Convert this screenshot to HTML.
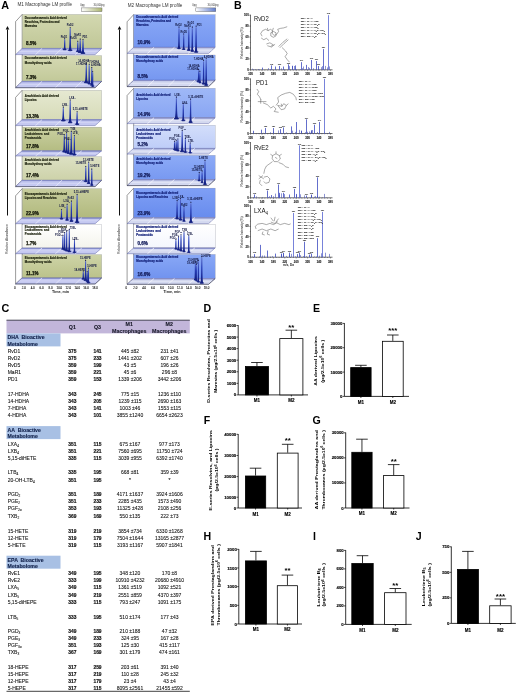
<!DOCTYPE html>
<html><head><meta charset="utf-8"><title>Figure</title>
<style>
html,body{margin:0;padding:0;background:#fff;}
svg{display:block;font-family:"Liberation Sans", "DejaVu Sans", sans-serif;}
text{white-space:pre;}
</style></head><body>
<svg width="520" height="694" viewBox="0 0 520 694">
<defs><linearGradient id="pk" x1="0" y1="0" x2="0" y2="1"><stop offset="0" stop-color="#7f94e2"/><stop offset="0.4" stop-color="#2f49c4"/><stop offset="1" stop-color="#101c7a"/></linearGradient>
<linearGradient id="lg1" x1="0" y1="0" x2="1" y2="0"><stop offset="0" stop-color="#ffffff"/><stop offset="1" stop-color="#a9b36e"/></linearGradient>
<linearGradient id="lg2" x1="0" y1="0" x2="1" y2="0"><stop offset="0" stop-color="#ffffff"/><stop offset="1" stop-color="#5f7bcc"/></linearGradient>
<linearGradient id="a0" x1="0" y1="0" x2="0" y2="1"><stop offset="0" stop-color="#d3d8b0"/><stop offset="1" stop-color="#c0c797"/></linearGradient>
<linearGradient id="a1" x1="0" y1="0" x2="0" y2="1"><stop offset="0" stop-color="#d5d9b3"/><stop offset="1" stop-color="#c2c999"/></linearGradient>
<linearGradient id="a2" x1="0" y1="0" x2="0" y2="1"><stop offset="0" stop-color="#e6e9d2"/><stop offset="1" stop-color="#d7dbb8"/></linearGradient>
<linearGradient id="a3" x1="0" y1="0" x2="0" y2="1"><stop offset="0" stop-color="#cad0a2"/><stop offset="1" stop-color="#b4bc82"/></linearGradient>
<linearGradient id="a4" x1="0" y1="0" x2="0" y2="1"><stop offset="0" stop-color="#dde1c4"/><stop offset="1" stop-color="#cdd2a9"/></linearGradient>
<linearGradient id="a5" x1="0" y1="0" x2="0" y2="1"><stop offset="0" stop-color="#c7cd9d"/><stop offset="1" stop-color="#b1b97d"/></linearGradient>
<linearGradient id="a6" x1="0" y1="0" x2="0" y2="1"><stop offset="0" stop-color="#ffffff"/><stop offset="1" stop-color="#f4f4ec"/></linearGradient>
<linearGradient id="a7" x1="0" y1="0" x2="0" y2="1"><stop offset="0" stop-color="#ced4a8"/><stop offset="1" stop-color="#bbc28a"/></linearGradient>
<linearGradient id="b0" x1="0" y1="0" x2="0" y2="1"><stop offset="0" stop-color="#8aa9f7"/><stop offset="1" stop-color="#7596f0"/></linearGradient>
<linearGradient id="b1" x1="0" y1="0" x2="0" y2="1"><stop offset="0" stop-color="#8baaf7"/><stop offset="1" stop-color="#7697f0"/></linearGradient>
<linearGradient id="b2" x1="0" y1="0" x2="0" y2="1"><stop offset="0" stop-color="#9fb8f7"/><stop offset="1" stop-color="#89a6f3"/></linearGradient>
<linearGradient id="b3" x1="0" y1="0" x2="0" y2="1"><stop offset="0" stop-color="#d3defb"/><stop offset="1" stop-color="#becdf8"/></linearGradient>
<linearGradient id="b4" x1="0" y1="0" x2="0" y2="1"><stop offset="0" stop-color="#8dabf7"/><stop offset="1" stop-color="#7899f1"/></linearGradient>
<linearGradient id="b5" x1="0" y1="0" x2="0" y2="1"><stop offset="0" stop-color="#7f9ff5"/><stop offset="1" stop-color="#688cee"/></linearGradient>
<linearGradient id="b6" x1="0" y1="0" x2="0" y2="1"><stop offset="0" stop-color="#ffffff"/><stop offset="1" stop-color="#f4f6fd"/></linearGradient>
<linearGradient id="b7" x1="0" y1="0" x2="0" y2="1"><stop offset="0" stop-color="#89a8f6"/><stop offset="1" stop-color="#7193ef"/></linearGradient></defs>
<rect x="0" y="0" width="520" height="694" fill="#fff"/>
<text x="1.30" y="8.90" font-size="10.80" text-anchor="start" font-weight="bold" fill="#000" >A</text>
<text x="17.50" y="6.30" font-size="4.50" text-anchor="start" font-weight="normal" fill="#333" textLength="54.50" lengthAdjust="spacingAndGlyphs" >M1 Macrophage LM profile</text>
<text x="127.80" y="6.60" font-size="4.50" text-anchor="start" font-weight="normal" fill="#333" textLength="54.50" lengthAdjust="spacingAndGlyphs" >M2 Macrophage LM profile</text>
<rect x="81.4" y="7.9" width="20.6" height="3.7" fill="url(#lg1)" stroke="#555" stroke-width="0.4"/>
<rect x="195.8" y="7.9" width="20.0" height="3.7" fill="url(#lg2)" stroke="#555" stroke-width="0.4"/>
<text x="80.20" y="6.00" font-size="2.60" text-anchor="start" font-weight="normal" fill="#333" >0pg</text>
<text x="93.60" y="6.00" font-size="2.60" text-anchor="start" font-weight="normal" fill="#333" >30,000pg</text>
<text x="192.30" y="6.00" font-size="2.60" text-anchor="start" font-weight="normal" fill="#333" >0pg</text>
<text x="207.60" y="6.00" font-size="2.60" text-anchor="start" font-weight="normal" fill="#333" >30,000pg</text>
<line x1="7.50" y1="29.5" x2="7.50" y2="215.5" stroke="#111" stroke-width="1.0"/>
<path d="M7.50 25.9 l-1.8 3.5 l3.6 0 Z" fill="#111"/>
<text transform="translate(8.20 239.00) rotate(-90)" font-size="2.90" text-anchor="middle" font-weight="normal" fill="#333" textLength="30.00" lengthAdjust="spacingAndGlyphs">Relative Abundance</text>
<line x1="119.50" y1="29.5" x2="119.50" y2="215.5" stroke="#111" stroke-width="1.0"/>
<path d="M119.50 25.9 l-1.8 3.5 l3.6 0 Z" fill="#111"/>
<text transform="translate(120.20 239.00) rotate(-90)" font-size="2.90" text-anchor="middle" font-weight="normal" fill="#333" textLength="30.00" lengthAdjust="spacingAndGlyphs">Relative Abundance</text>
<polygon points="22.20,14.40 15.60,21.60 15.60,87.70 22.20,81.40" fill="#fff" stroke="#222" stroke-width="0.45"/>
<rect x="22.20" y="14.40" width="79.50" height="34.00" fill="url(#a0)" stroke="#7d7f8e" stroke-width="0.25"/>
<polygon points="22.20,48.40 101.70,48.40 95.10,54.60 15.60,54.60" fill="#c4c8f1" stroke="#3b418f" stroke-width="0.4"/>
<line x1="21.90" y1="48.85" x2="101.30" y2="48.85" stroke="#7d84c4" stroke-width="0.9"/>
<line x1="42.08" y1="48.40" x2="35.48" y2="54.60" stroke="#e6e8fa" stroke-width="0.8"/>
<line x1="61.95" y1="48.40" x2="55.35" y2="54.60" stroke="#e6e8fa" stroke-width="0.8"/>
<line x1="81.83" y1="48.40" x2="75.23" y2="54.60" stroke="#e6e8fa" stroke-width="0.8"/>
<line x1="18.90" y1="51.50" x2="98.40" y2="51.50" stroke="#e6e8fa" stroke-width="0.4"/>
<text x="24.80" y="18.90" font-size="2.85" text-anchor="start" font-weight="bold" fill="#1f2410" stroke="#1f2410" stroke-width="0.16">Docosahexaenoic Acid derived</text>
<text x="24.80" y="23.00" font-size="2.85" text-anchor="start" font-weight="bold" fill="#1f2410" stroke="#1f2410" stroke-width="0.16">Resolvins, Protectins and</text>
<text x="24.80" y="26.90" font-size="2.85" text-anchor="start" font-weight="bold" fill="#1f2410" stroke="#1f2410" stroke-width="0.16">Maresins</text>
<text x="25.90" y="45.30" font-size="4.50" text-anchor="start" font-weight="bold" fill="#15180a" stroke="#15180a" stroke-width="0.25">8.5%</text>
<rect x="22.20" y="55.60" width="79.50" height="25.70" fill="url(#a1)" stroke="#7d7f8e" stroke-width="0.25"/>
<polygon points="22.20,81.30 101.70,81.30 95.10,87.70 15.60,87.70" fill="#c4c8f1" stroke="#3b418f" stroke-width="0.4"/>
<line x1="21.90" y1="81.75" x2="101.30" y2="81.75" stroke="#7d84c4" stroke-width="0.9"/>
<line x1="42.08" y1="81.30" x2="35.48" y2="87.70" stroke="#e6e8fa" stroke-width="0.8"/>
<line x1="61.95" y1="81.30" x2="55.35" y2="87.70" stroke="#e6e8fa" stroke-width="0.8"/>
<line x1="81.83" y1="81.30" x2="75.23" y2="87.70" stroke="#e6e8fa" stroke-width="0.8"/>
<line x1="18.90" y1="84.50" x2="98.40" y2="84.50" stroke="#e6e8fa" stroke-width="0.4"/>
<text x="24.80" y="59.30" font-size="2.85" text-anchor="start" font-weight="bold" fill="#1f2410" stroke="#1f2410" stroke-width="0.16">Docosahexaenoic Acid derived</text>
<text x="24.80" y="63.50" font-size="2.85" text-anchor="start" font-weight="bold" fill="#1f2410" stroke="#1f2410" stroke-width="0.16">Monohydroxy acids</text>
<text x="25.90" y="78.50" font-size="4.50" text-anchor="start" font-weight="bold" fill="#15180a" stroke="#15180a" stroke-width="0.25">7.3%</text>
<path d="M15.60 87.70 L95.10 87.70 L101.70 81.30" fill="none" stroke="#222" stroke-width="0.45"/>
<polygon points="22.20,90.20 15.60,97.40 15.60,186.60 22.20,180.30" fill="#fff" stroke="#222" stroke-width="0.45"/>
<rect x="22.20" y="90.20" width="79.50" height="29.40" fill="url(#a2)" stroke="#7d7f8e" stroke-width="0.25"/>
<polygon points="22.20,119.60 101.70,119.60 95.10,125.60 15.60,125.60" fill="#c4c8f1" stroke="#3b418f" stroke-width="0.4"/>
<line x1="21.90" y1="120.05" x2="101.30" y2="120.05" stroke="#7d84c4" stroke-width="0.9"/>
<line x1="42.08" y1="119.60" x2="35.48" y2="125.60" stroke="#e6e8fa" stroke-width="0.8"/>
<line x1="61.95" y1="119.60" x2="55.35" y2="125.60" stroke="#e6e8fa" stroke-width="0.8"/>
<line x1="81.83" y1="119.60" x2="75.23" y2="125.60" stroke="#e6e8fa" stroke-width="0.8"/>
<line x1="18.90" y1="122.60" x2="98.40" y2="122.60" stroke="#e6e8fa" stroke-width="0.4"/>
<text x="24.80" y="97.30" font-size="2.85" text-anchor="start" font-weight="bold" fill="#1f2410" stroke="#1f2410" stroke-width="0.16">Arachidonic Acid derived</text>
<text x="24.80" y="101.30" font-size="2.85" text-anchor="start" font-weight="bold" fill="#1f2410" stroke="#1f2410" stroke-width="0.16">Lipoxins</text>
<text x="25.90" y="117.60" font-size="4.50" text-anchor="start" font-weight="bold" fill="#15180a" stroke="#15180a" stroke-width="0.25">13.3%</text>
<rect x="22.20" y="127.10" width="79.50" height="23.70" fill="url(#a3)" stroke="#7d7f8e" stroke-width="0.25"/>
<polygon points="22.20,150.80 101.70,150.80 95.10,156.00 15.60,156.00" fill="#c4c8f1" stroke="#3b418f" stroke-width="0.4"/>
<line x1="21.90" y1="151.25" x2="101.30" y2="151.25" stroke="#7d84c4" stroke-width="0.9"/>
<line x1="42.08" y1="150.80" x2="35.48" y2="156.00" stroke="#e6e8fa" stroke-width="0.8"/>
<line x1="61.95" y1="150.80" x2="55.35" y2="156.00" stroke="#e6e8fa" stroke-width="0.8"/>
<line x1="81.83" y1="150.80" x2="75.23" y2="156.00" stroke="#e6e8fa" stroke-width="0.8"/>
<line x1="18.90" y1="153.40" x2="98.40" y2="153.40" stroke="#e6e8fa" stroke-width="0.4"/>
<text x="24.80" y="131.30" font-size="2.85" text-anchor="start" font-weight="bold" fill="#1f2410" stroke="#1f2410" stroke-width="0.16">Arachidonic Acid derived</text>
<text x="24.80" y="135.00" font-size="2.85" text-anchor="start" font-weight="bold" fill="#1f2410" stroke="#1f2410" stroke-width="0.16">Leukotrienes  and</text>
<text x="24.80" y="138.50" font-size="2.85" text-anchor="start" font-weight="bold" fill="#1f2410" stroke="#1f2410" stroke-width="0.16">Prostanoids</text>
<text x="25.90" y="147.60" font-size="4.50" text-anchor="start" font-weight="bold" fill="#15180a" stroke="#15180a" stroke-width="0.25">17.8%</text>
<rect x="22.20" y="156.60" width="79.50" height="23.60" fill="url(#a4)" stroke="#7d7f8e" stroke-width="0.25"/>
<polygon points="22.20,180.20 101.70,180.20 95.10,186.60 15.60,186.60" fill="#c4c8f1" stroke="#3b418f" stroke-width="0.4"/>
<line x1="21.90" y1="180.65" x2="101.30" y2="180.65" stroke="#7d84c4" stroke-width="0.9"/>
<line x1="42.08" y1="180.20" x2="35.48" y2="186.60" stroke="#e6e8fa" stroke-width="0.8"/>
<line x1="61.95" y1="180.20" x2="55.35" y2="186.60" stroke="#e6e8fa" stroke-width="0.8"/>
<line x1="81.83" y1="180.20" x2="75.23" y2="186.60" stroke="#e6e8fa" stroke-width="0.8"/>
<line x1="18.90" y1="183.40" x2="98.40" y2="183.40" stroke="#e6e8fa" stroke-width="0.4"/>
<text x="24.80" y="160.80" font-size="2.85" text-anchor="start" font-weight="bold" fill="#1f2410" stroke="#1f2410" stroke-width="0.16">Arachidonic Acid derived</text>
<text x="24.80" y="165.10" font-size="2.85" text-anchor="start" font-weight="bold" fill="#1f2410" stroke="#1f2410" stroke-width="0.16">Monohydroxy acids</text>
<text x="25.90" y="176.80" font-size="4.50" text-anchor="start" font-weight="bold" fill="#15180a" stroke="#15180a" stroke-width="0.25">17.4%</text>
<path d="M15.60 186.60 L95.10 186.60 L101.70 180.20" fill="none" stroke="#222" stroke-width="0.45"/>
<polygon points="22.20,188.60 15.60,195.80 15.60,284.00 22.20,277.70" fill="#fff" stroke="#222" stroke-width="0.45"/>
<rect x="22.20" y="188.60" width="79.50" height="29.20" fill="url(#a5)" stroke="#7d7f8e" stroke-width="0.25"/>
<polygon points="22.20,217.80 101.70,217.80 95.10,223.70 15.60,223.70" fill="#c4c8f1" stroke="#3b418f" stroke-width="0.4"/>
<line x1="21.90" y1="218.25" x2="101.30" y2="218.25" stroke="#7d84c4" stroke-width="0.9"/>
<line x1="42.08" y1="217.80" x2="35.48" y2="223.70" stroke="#e6e8fa" stroke-width="0.8"/>
<line x1="61.95" y1="217.80" x2="55.35" y2="223.70" stroke="#e6e8fa" stroke-width="0.8"/>
<line x1="81.83" y1="217.80" x2="75.23" y2="223.70" stroke="#e6e8fa" stroke-width="0.8"/>
<line x1="18.90" y1="220.75" x2="98.40" y2="220.75" stroke="#e6e8fa" stroke-width="0.4"/>
<text x="24.80" y="194.80" font-size="2.85" text-anchor="start" font-weight="bold" fill="#1f2410" stroke="#1f2410" stroke-width="0.16">Eicosapentaenoic Acid derived</text>
<text x="24.80" y="198.70" font-size="2.85" text-anchor="start" font-weight="bold" fill="#1f2410" stroke="#1f2410" stroke-width="0.16">Lipoxins and Resolvins</text>
<text x="25.90" y="214.90" font-size="4.50" text-anchor="start" font-weight="bold" fill="#15180a" stroke="#15180a" stroke-width="0.25">22.9%</text>
<rect x="22.20" y="224.60" width="79.50" height="23.40" fill="url(#a6)" stroke="#7d7f8e" stroke-width="0.25"/>
<polygon points="22.20,248.00 101.70,248.00 95.10,253.70 15.60,253.70" fill="#c4c8f1" stroke="#3b418f" stroke-width="0.4"/>
<line x1="21.90" y1="248.45" x2="101.30" y2="248.45" stroke="#7d84c4" stroke-width="0.9"/>
<line x1="42.08" y1="248.00" x2="35.48" y2="253.70" stroke="#e6e8fa" stroke-width="0.8"/>
<line x1="61.95" y1="248.00" x2="55.35" y2="253.70" stroke="#e6e8fa" stroke-width="0.8"/>
<line x1="81.83" y1="248.00" x2="75.23" y2="253.70" stroke="#e6e8fa" stroke-width="0.8"/>
<line x1="18.90" y1="250.85" x2="98.40" y2="250.85" stroke="#e6e8fa" stroke-width="0.4"/>
<text x="24.80" y="227.80" font-size="2.85" text-anchor="start" font-weight="bold" fill="#1f2410" stroke="#1f2410" stroke-width="0.16">Eicosapentaenoic Acid derived</text>
<text x="24.80" y="231.20" font-size="2.85" text-anchor="start" font-weight="bold" fill="#1f2410" stroke="#1f2410" stroke-width="0.16">Leukotrienes  and</text>
<text x="24.80" y="234.60" font-size="2.85" text-anchor="start" font-weight="bold" fill="#1f2410" stroke="#1f2410" stroke-width="0.16">Prostanoids</text>
<text x="25.90" y="244.70" font-size="4.50" text-anchor="start" font-weight="bold" fill="#15180a" stroke="#15180a" stroke-width="0.25">1.7%</text>
<rect x="22.20" y="254.60" width="79.50" height="23.30" fill="url(#a7)" stroke="#7d7f8e" stroke-width="0.25"/>
<polygon points="22.20,277.90 101.70,277.90 95.10,284.00 15.60,284.00" fill="#c4c8f1" stroke="#3b418f" stroke-width="0.4"/>
<line x1="21.90" y1="278.35" x2="101.30" y2="278.35" stroke="#7d84c4" stroke-width="0.9"/>
<line x1="42.08" y1="277.90" x2="35.48" y2="284.00" stroke="#e6e8fa" stroke-width="0.8"/>
<line x1="61.95" y1="277.90" x2="55.35" y2="284.00" stroke="#e6e8fa" stroke-width="0.8"/>
<line x1="81.83" y1="277.90" x2="75.23" y2="284.00" stroke="#e6e8fa" stroke-width="0.8"/>
<line x1="18.90" y1="280.95" x2="98.40" y2="280.95" stroke="#e6e8fa" stroke-width="0.4"/>
<text x="24.80" y="258.90" font-size="2.85" text-anchor="start" font-weight="bold" fill="#1f2410" stroke="#1f2410" stroke-width="0.16">Eicosapentaenoic Acid derived</text>
<text x="24.80" y="263.10" font-size="2.85" text-anchor="start" font-weight="bold" fill="#1f2410" stroke="#1f2410" stroke-width="0.16">Monohydroxy acids</text>
<text x="25.90" y="275.30" font-size="4.50" text-anchor="start" font-weight="bold" fill="#15180a" stroke="#15180a" stroke-width="0.25">11.1%</text>
<path d="M15.60 284.00 L95.10 284.00 L101.70 277.90" fill="none" stroke="#222" stroke-width="0.45"/>
<path d="M62.5 49.6v-0.4M63.2 49.6v-0.2M63.9 49.6v-0.7M64.6 49.6v-0.1M65.3 49.6v-0.6M66.0 49.6v-0.4M66.7 49.6v-0.1" fill="none" stroke="#2c40b8" stroke-width="0.45"/>
<ellipse cx="64.70" cy="49.44" rx="1.80" ry="0.85" fill="#16237f" opacity="0.85"/>
<path d="M63.08 49.64 C64.16 49.64 64.00 45.92 64.22 39.00 L65.18 39.00 C65.40 45.92 65.24 49.64 66.32 49.64 Z" fill="url(#pk)" stroke="none"/>
<line x1="64.70" y1="40.00" x2="64.70" y2="49.64" stroke="#1a2a98" stroke-width="0.35"/>
<path d="M64.70 39.60 l-0.65 -0.9 l0.65 -0.7 l0.65 0.7 Z" fill="#0b0b30"/>
<text x="64.00" y="37.70" font-size="2.60" text-anchor="middle" font-weight="bold" fill="#10153f" >RvD1</text>
<path d="M68.0 50.6v-0.6M68.7 50.6v-0.0M69.4 50.6v-0.5M70.1 50.6v-0.1M70.8 50.6v-0.1M71.5 50.6v-0.5M72.2 50.6v-0.9" fill="none" stroke="#2c40b8" stroke-width="0.45"/>
<ellipse cx="70.20" cy="50.37" rx="2.20" ry="0.85" fill="#16237f" opacity="0.85"/>
<path d="M68.22 50.57 C69.54 50.57 69.50 42.67 69.72 28.00 L70.68 28.00 C70.90 42.67 70.86 50.57 72.18 50.57 Z" fill="url(#pk)" stroke="none"/>
<line x1="70.20" y1="29.00" x2="70.20" y2="50.57" stroke="#1a2a98" stroke-width="0.35"/>
<path d="M70.20 28.60 l-0.65 -0.9 l0.65 -0.7 l0.65 0.7 Z" fill="#0b0b30"/>
<text x="70.10" y="26.40" font-size="2.60" text-anchor="middle" font-weight="bold" fill="#10153f" >RvD2</text>
<path d="M75.6 51.5v-0.1M76.3 51.5v-0.2M77.0 51.5v-0.7M77.7 51.5v-1.0M78.4 51.5v-0.6M79.1 51.5v-0.4M79.8 51.5v-1.1" fill="none" stroke="#2c40b8" stroke-width="0.45"/>
<ellipse cx="77.80" cy="51.30" rx="1.80" ry="0.85" fill="#16237f" opacity="0.85"/>
<path d="M76.18 51.50 C77.26 51.50 77.10 48.00 77.32 41.50 L78.28 41.50 C78.50 48.00 78.34 51.50 79.42 51.50 Z" fill="url(#pk)" stroke="none"/>
<line x1="77.80" y1="42.50" x2="77.80" y2="51.50" stroke="#1a2a98" stroke-width="0.35"/>
<path d="M77.80 42.10 l-0.65 -0.9 l0.65 -0.7 l0.65 0.7 Z" fill="#0b0b30"/>
<text x="73.40" y="39.00" font-size="2.60" text-anchor="middle" font-weight="bold" fill="#10153f" >RvD5</text>
<path d="M78.0 52.4v-0.1M78.7 52.4v-0.9M79.4 52.4v-0.3M80.1 52.4v-0.2M80.8 52.4v-0.1M81.5 52.4v-0.3M82.2 52.4v-0.9" fill="none" stroke="#2c40b8" stroke-width="0.45"/>
<ellipse cx="80.20" cy="52.23" rx="2.40" ry="0.85" fill="#16237f" opacity="0.85"/>
<path d="M78.04 52.43 C79.48 52.43 79.50 47.83 79.72 39.30 L80.68 39.30 C80.90 47.83 80.92 52.43 82.36 52.43 Z" fill="url(#pk)" stroke="none"/>
<line x1="80.20" y1="40.30" x2="80.20" y2="52.43" stroke="#1a2a98" stroke-width="0.35"/>
<path d="M80.20 39.90 l-0.65 -0.9 l0.65 -0.7 l0.65 0.7 Z" fill="#0b0b30"/>
<text x="77.70" y="36.30" font-size="2.60" text-anchor="middle" font-weight="bold" fill="#10153f" >MaR1</text>
<path d="M80.8 53.4v-0.2M81.5 53.4v-0.6M82.2 53.4v-0.7M82.9 53.4v-0.4M83.6 53.4v-0.6M84.3 53.4v-0.1M85.0 53.4v-0.1" fill="none" stroke="#2c40b8" stroke-width="0.45"/>
<ellipse cx="83.00" cy="53.16" rx="2.40" ry="0.85" fill="#16237f" opacity="0.85"/>
<path d="M80.84 53.36 C82.28 53.36 82.30 48.61 82.52 39.80 L83.48 39.80 C83.70 48.61 83.72 53.36 85.16 53.36 Z" fill="url(#pk)" stroke="none"/>
<line x1="83.00" y1="40.80" x2="83.00" y2="53.36" stroke="#1a2a98" stroke-width="0.35"/>
<path d="M83.00 40.40 l-0.65 -0.9 l0.65 -0.7 l0.65 0.7 Z" fill="#0b0b30"/>
<text x="84.90" y="37.70" font-size="2.60" text-anchor="middle" font-weight="bold" fill="#10153f" >PD1</text>
<path d="M84.1 82.6v-0.2M84.8 82.6v-0.7M85.5 82.6v-0.5M86.2 82.6v-0.3M86.9 82.6v-0.6M87.6 82.6v-0.5M88.3 82.6v-0.3" fill="none" stroke="#2c40b8" stroke-width="0.45"/>
<ellipse cx="86.30" cy="82.38" rx="2.40" ry="0.85" fill="#16237f" opacity="0.85"/>
<path d="M84.14 82.58 C85.58 82.58 85.60 75.83 85.82 63.30 L86.78 63.30 C87.00 75.83 87.02 82.58 88.46 82.58 Z" fill="url(#pk)" stroke="none"/>
<line x1="86.30" y1="64.30" x2="86.30" y2="82.58" stroke="#1a2a98" stroke-width="0.35"/>
<path d="M86.30 63.90 l-0.65 -0.9 l0.65 -0.7 l0.65 0.7 Z" fill="#0b0b30"/>
<text x="83.80" y="62.00" font-size="2.60" text-anchor="middle" font-weight="bold" fill="#10153f" >14-HDHA</text>
<path d="M87.0 83.9v-0.9M87.7 83.9v-0.8M88.4 83.9v-0.3M89.1 83.9v-0.6M89.8 83.9v-0.6M90.5 83.9v-1.0M91.2 83.9v-0.8" fill="none" stroke="#2c40b8" stroke-width="0.45"/>
<ellipse cx="89.20" cy="83.66" rx="1.60" ry="0.85" fill="#16237f" opacity="0.85"/>
<path d="M87.76 83.86 C88.72 83.86 88.50 77.08 88.72 64.50 L89.68 64.50 C89.90 77.08 89.68 83.86 90.64 83.86 Z" fill="url(#pk)" stroke="none"/>
<line x1="89.20" y1="65.50" x2="89.20" y2="83.86" stroke="#1a2a98" stroke-width="0.35"/>
<path d="M89.20 65.10 l-0.65 -0.9 l0.65 -0.7 l0.65 0.7 Z" fill="#0b0b30"/>
<text x="81.60" y="65.10" font-size="2.60" text-anchor="middle" font-weight="bold" fill="#10153f" >17-HDHA</text>
<path d="M89.6 85.1v-0.3M90.3 85.1v-1.1M91.0 85.1v-0.1M91.7 85.1v-0.5M92.4 85.1v-0.8M93.1 85.1v-0.2M93.8 85.1v-0.5" fill="none" stroke="#2c40b8" stroke-width="0.45"/>
<ellipse cx="91.80" cy="84.94" rx="1.60" ry="0.85" fill="#16237f" opacity="0.85"/>
<path d="M90.36 85.14 C91.32 85.14 91.10 79.07 91.32 67.80 L92.28 67.80 C92.50 79.07 92.28 85.14 93.24 85.14 Z" fill="url(#pk)" stroke="none"/>
<line x1="91.80" y1="68.80" x2="91.80" y2="85.14" stroke="#1a2a98" stroke-width="0.35"/>
<path d="M91.80 68.40 l-0.65 -0.9 l0.65 -0.7 l0.65 0.7 Z" fill="#0b0b30"/>
<text x="94.20" y="63.10" font-size="2.60" text-anchor="middle" font-weight="bold" fill="#10153f" >7-HDHA</text>
<path d="M90.5 86.4v-0.0M91.2 86.4v-0.7M91.9 86.4v-0.8M92.6 86.4v-0.6M93.3 86.4v-1.0M94.0 86.4v-0.3M94.7 86.4v-0.8" fill="none" stroke="#2c40b8" stroke-width="0.45"/>
<ellipse cx="92.70" cy="86.22" rx="1.20" ry="0.85" fill="#16237f" opacity="0.85"/>
<path d="M91.62 86.42 C92.34 86.42 92.00 81.37 92.22 72.00 L93.18 72.00 C93.40 81.37 93.06 86.42 93.78 86.42 Z" fill="url(#pk)" stroke="none"/>
<line x1="92.70" y1="73.00" x2="92.70" y2="86.42" stroke="#1a2a98" stroke-width="0.35"/>
<path d="M92.70 72.60 l-0.65 -0.9 l0.65 -0.7 l0.65 0.7 Z" fill="#0b0b30"/>
<text x="95.80" y="66.40" font-size="2.60" text-anchor="middle" font-weight="bold" fill="#10153f" >4-HDHA</text>
<path d="M61.1 120.8v-0.7M61.8 120.8v-0.6M62.5 120.8v-0.5M63.2 120.8v-0.9M63.9 120.8v-1.0M64.6 120.8v-0.5M65.3 120.8v-0.7" fill="none" stroke="#2c40b8" stroke-width="0.45"/>
<ellipse cx="63.30" cy="120.60" rx="2.40" ry="0.85" fill="#16237f" opacity="0.85"/>
<path d="M61.14 120.80 C62.58 120.80 62.60 116.08 62.82 107.30 L63.78 107.30 C64.00 116.08 64.02 120.80 65.46 120.80 Z" fill="url(#pk)" stroke="none"/>
<line x1="63.30" y1="108.30" x2="63.30" y2="120.80" stroke="#1a2a98" stroke-width="0.35"/>
<path d="M63.30 107.90 l-0.65 -0.9 l0.65 -0.7 l0.65 0.7 Z" fill="#0b0b30"/>
<text x="65.10" y="106.00" font-size="2.60" text-anchor="middle" font-weight="bold" fill="#10153f" >LXB<tspan font-size="1.8" dy="0.4">4</tspan></text>
<path d="M68.0 122.6v-0.1M68.7 122.6v-0.8M69.4 122.6v-0.7M70.1 122.6v-1.1M70.8 122.6v-0.9M71.5 122.6v-0.3M72.2 122.6v-0.4" fill="none" stroke="#2c40b8" stroke-width="0.45"/>
<ellipse cx="70.20" cy="122.40" rx="2.20" ry="0.85" fill="#16237f" opacity="0.85"/>
<path d="M68.22 122.60 C69.54 122.60 69.50 114.76 69.72 100.20 L70.68 100.20 C70.90 114.76 70.86 122.60 72.18 122.60 Z" fill="url(#pk)" stroke="none"/>
<line x1="70.20" y1="101.20" x2="70.20" y2="122.60" stroke="#1a2a98" stroke-width="0.35"/>
<path d="M70.20 100.80 l-0.65 -0.9 l0.65 -0.7 l0.65 0.7 Z" fill="#0b0b30"/>
<text x="72.30" y="98.50" font-size="2.60" text-anchor="middle" font-weight="bold" fill="#10153f" >LXA<tspan font-size="1.8" dy="0.4">4</tspan></text>
<path d="M74.9 124.4v-0.7M75.6 124.4v-0.0M76.3 124.4v-0.5M77.0 124.4v-0.2M77.7 124.4v-0.1M78.4 124.4v-0.1M79.1 124.4v-0.8" fill="none" stroke="#2c40b8" stroke-width="0.45"/>
<ellipse cx="77.10" cy="124.20" rx="2.00" ry="0.85" fill="#16237f" opacity="0.85"/>
<path d="M75.30 124.40 C76.50 124.40 76.40 120.06 76.62 112.00 L77.58 112.00 C77.80 120.06 77.70 124.40 78.90 124.40 Z" fill="url(#pk)" stroke="none"/>
<line x1="77.10" y1="113.00" x2="77.10" y2="124.40" stroke="#1a2a98" stroke-width="0.35"/>
<path d="M77.10 112.60 l-0.65 -0.9 l0.65 -0.7 l0.65 0.7 Z" fill="#0b0b30"/>
<text x="80.30" y="110.20" font-size="2.60" text-anchor="middle" font-weight="bold" fill="#10153f" >5,15-diHETE</text>
<path d="M62.1 151.8v-0.1M62.8 151.8v-0.3M63.5 151.8v-0.4M64.2 151.8v-1.0M64.9 151.8v-0.1M65.6 151.8v-0.5M66.3 151.8v-0.6" fill="none" stroke="#2c40b8" stroke-width="0.45"/>
<ellipse cx="64.30" cy="151.64" rx="2.00" ry="0.85" fill="#16237f" opacity="0.85"/>
<path d="M62.50 151.84 C63.70 151.84 63.60 145.95 63.82 135.00 L64.78 135.00 C65.00 145.95 64.90 151.84 66.10 151.84 Z" fill="url(#pk)" stroke="none"/>
<line x1="64.30" y1="136.00" x2="64.30" y2="151.84" stroke="#1a2a98" stroke-width="0.35"/>
<path d="M64.30 135.60 l-0.65 -0.9 l0.65 -0.7 l0.65 0.7 Z" fill="#0b0b30"/>
<text x="60.90" y="134.60" font-size="2.60" text-anchor="middle" font-weight="bold" fill="#10153f" >PGD<tspan font-size="1.8" dy="0.4">2</tspan></text>
<path d="M64.4 152.6v-1.0M65.1 152.6v-0.9M65.8 152.6v-1.0M66.5 152.6v-0.3M67.2 152.6v-0.5M67.9 152.6v-0.4M68.6 152.6v-1.0" fill="none" stroke="#2c40b8" stroke-width="0.45"/>
<ellipse cx="66.60" cy="152.42" rx="2.00" ry="0.85" fill="#16237f" opacity="0.85"/>
<path d="M64.80 152.62 C66.00 152.62 65.90 145.75 66.12 133.00 L67.08 133.00 C67.30 145.75 67.20 152.62 68.40 152.62 Z" fill="url(#pk)" stroke="none"/>
<line x1="66.60" y1="134.00" x2="66.60" y2="152.62" stroke="#1a2a98" stroke-width="0.35"/>
<path d="M66.60 133.60 l-0.65 -0.9 l0.65 -0.7 l0.65 0.7 Z" fill="#0b0b30"/>
<text x="66.10" y="132.00" font-size="2.60" text-anchor="middle" font-weight="bold" fill="#10153f" >PGE<tspan font-size="1.8" dy="0.4">2</tspan></text>
<path d="M66.3 153.4v-1.1M67.0 153.4v-0.2M67.7 153.4v-0.2M68.4 153.4v-0.3M69.1 153.4v-0.3M69.8 153.4v-0.5M70.5 153.4v-0.6" fill="none" stroke="#2c40b8" stroke-width="0.45"/>
<ellipse cx="68.50" cy="153.20" rx="1.60" ry="0.85" fill="#16237f" opacity="0.85"/>
<path d="M67.06 153.40 C68.02 153.40 67.80 148.71 68.02 140.00 L68.98 140.00 C69.20 148.71 68.98 153.40 69.94 153.40 Z" fill="url(#pk)" stroke="none"/>
<line x1="68.50" y1="141.00" x2="68.50" y2="153.40" stroke="#1a2a98" stroke-width="0.35"/>
<path d="M68.50 140.60 l-0.65 -0.9 l0.65 -0.7 l0.65 0.7 Z" fill="#0b0b30"/>
<text x="67.90" y="139.60" font-size="2.60" text-anchor="middle" font-weight="bold" fill="#10153f" >PGF<tspan font-size="1.8" dy="0.4">2α</tspan></text>
<path d="M69.1 154.2v-0.3M69.8 154.2v-0.0M70.5 154.2v-0.5M71.2 154.2v-0.4M71.9 154.2v-0.6M72.6 154.2v-1.0M73.3 154.2v-0.8" fill="none" stroke="#2c40b8" stroke-width="0.45"/>
<ellipse cx="71.30" cy="153.98" rx="2.20" ry="0.85" fill="#16237f" opacity="0.85"/>
<path d="M69.32 154.18 C70.64 154.18 70.60 146.28 70.82 131.60 L71.78 131.60 C72.00 146.28 71.96 154.18 73.28 154.18 Z" fill="url(#pk)" stroke="none"/>
<line x1="71.30" y1="132.60" x2="71.30" y2="154.18" stroke="#1a2a98" stroke-width="0.35"/>
<path d="M71.30 132.20 l-0.65 -0.9 l0.65 -0.7 l0.65 0.7 Z" fill="#0b0b30"/>
<text x="73.40" y="130.40" font-size="2.60" text-anchor="middle" font-weight="bold" fill="#10153f" >TXB<tspan font-size="1.8" dy="0.4">2</tspan></text>
<path d="M72.2 155.0v-0.6M72.9 155.0v-0.7M73.6 155.0v-0.7M74.3 155.0v-0.1M75.0 155.0v-1.0M75.7 155.0v-0.9M76.4 155.0v-1.0" fill="none" stroke="#2c40b8" stroke-width="0.45"/>
<ellipse cx="74.40" cy="154.76" rx="1.80" ry="0.85" fill="#16237f" opacity="0.85"/>
<path d="M72.78 154.96 C73.86 154.96 73.70 148.32 73.92 136.00 L74.88 136.00 C75.10 148.32 74.94 154.96 76.02 154.96 Z" fill="url(#pk)" stroke="none"/>
<line x1="74.40" y1="137.00" x2="74.40" y2="154.96" stroke="#1a2a98" stroke-width="0.35"/>
<path d="M74.40 136.60 l-0.65 -0.9 l0.65 -0.7 l0.65 0.7 Z" fill="#0b0b30"/>
<text x="75.60" y="134.10" font-size="2.60" text-anchor="middle" font-weight="bold" fill="#10153f" >LTB<tspan font-size="1.8" dy="0.4">4</tspan></text>
<path d="M83.6 181.5v-0.9M84.3 181.5v-0.4M85.0 181.5v-0.4M85.7 181.5v-0.1M86.4 181.5v-0.7M87.1 181.5v-0.1M87.8 181.5v-0.1" fill="none" stroke="#2c40b8" stroke-width="0.45"/>
<ellipse cx="85.80" cy="181.28" rx="1.80" ry="0.85" fill="#16237f" opacity="0.85"/>
<path d="M84.18 181.48 C85.26 181.48 85.10 176.31 85.32 166.70 L86.28 166.70 C86.50 176.31 86.34 181.48 87.42 181.48 Z" fill="url(#pk)" stroke="none"/>
<line x1="85.80" y1="167.70" x2="85.80" y2="181.48" stroke="#1a2a98" stroke-width="0.35"/>
<path d="M85.80 167.30 l-0.65 -0.9 l0.65 -0.7 l0.65 0.7 Z" fill="#0b0b30"/>
<text x="80.80" y="164.20" font-size="2.60" text-anchor="middle" font-weight="bold" fill="#10153f" >15-HETE</text>
<path d="M86.5 183.4v-0.2M87.2 183.4v-0.2M87.9 183.4v-0.4M88.6 183.4v-0.1M89.3 183.4v-0.0M90.0 183.4v-0.2M90.7 183.4v-0.1" fill="none" stroke="#2c40b8" stroke-width="0.45"/>
<ellipse cx="88.70" cy="183.20" rx="1.80" ry="0.85" fill="#16237f" opacity="0.85"/>
<path d="M87.08 183.40 C88.16 183.40 88.00 176.05 88.22 162.40 L89.18 162.40 C89.40 176.05 89.24 183.40 90.32 183.40 Z" fill="url(#pk)" stroke="none"/>
<line x1="88.70" y1="163.40" x2="88.70" y2="183.40" stroke="#1a2a98" stroke-width="0.35"/>
<path d="M88.70 163.00 l-0.65 -0.9 l0.65 -0.7 l0.65 0.7 Z" fill="#0b0b30"/>
<text x="88.40" y="161.10" font-size="2.60" text-anchor="middle" font-weight="bold" fill="#10153f" >12-HETE</text>
<path d="M89.6 185.3v-0.4M90.3 185.3v-0.0M91.0 185.3v-1.0M91.7 185.3v-0.7M92.4 185.3v-0.2M93.1 185.3v-0.3M93.8 185.3v-0.4" fill="none" stroke="#2c40b8" stroke-width="0.45"/>
<ellipse cx="91.80" cy="185.12" rx="1.60" ry="0.85" fill="#16237f" opacity="0.85"/>
<path d="M90.36 185.32 C91.32 185.32 91.10 179.71 91.32 169.30 L92.28 169.30 C92.50 179.71 92.28 185.32 93.24 185.32 Z" fill="url(#pk)" stroke="none"/>
<line x1="91.80" y1="170.30" x2="91.80" y2="185.32" stroke="#1a2a98" stroke-width="0.35"/>
<path d="M91.80 169.90 l-0.65 -0.9 l0.65 -0.7 l0.65 0.7 Z" fill="#0b0b30"/>
<text x="94.80" y="166.80" font-size="2.60" text-anchor="middle" font-weight="bold" fill="#10153f" >5-HETE</text>
<path d="M59.3 219.0v-0.4M60.0 219.0v-0.1M60.7 219.0v-0.9M61.4 219.0v-1.1M62.1 219.0v-0.5M62.8 219.0v-0.5M63.5 219.0v-0.1" fill="none" stroke="#2c40b8" stroke-width="0.45"/>
<ellipse cx="61.50" cy="218.78" rx="1.80" ry="0.85" fill="#16237f" opacity="0.85"/>
<path d="M59.88 218.98 C60.96 218.98 60.80 215.84 61.02 210.00 L61.98 210.00 C62.20 215.84 62.04 218.98 63.12 218.98 Z" fill="url(#pk)" stroke="none"/>
<line x1="61.50" y1="211.00" x2="61.50" y2="218.98" stroke="#1a2a98" stroke-width="0.35"/>
<path d="M61.50 210.60 l-0.65 -0.9 l0.65 -0.7 l0.65 0.7 Z" fill="#0b0b30"/>
<text x="62.40" y="207.40" font-size="2.60" text-anchor="middle" font-weight="bold" fill="#10153f" >LXB<tspan font-size="1.8" dy="0.4">5</tspan></text>
<path d="M64.9 220.2v-0.1M65.6 220.2v-0.4M66.3 220.2v-0.3M67.0 220.2v-0.9M67.7 220.2v-0.2M68.4 220.2v-0.0M69.1 220.2v-1.0" fill="none" stroke="#2c40b8" stroke-width="0.45"/>
<ellipse cx="67.10" cy="219.96" rx="1.80" ry="0.85" fill="#16237f" opacity="0.85"/>
<path d="M65.48 220.16 C66.56 220.16 66.40 214.68 66.62 204.50 L67.58 204.50 C67.80 214.68 67.64 220.16 68.72 220.16 Z" fill="url(#pk)" stroke="none"/>
<line x1="67.10" y1="205.50" x2="67.10" y2="220.16" stroke="#1a2a98" stroke-width="0.35"/>
<path d="M67.10 205.10 l-0.65 -0.9 l0.65 -0.7 l0.65 0.7 Z" fill="#0b0b30"/>
<text x="66.70" y="202.20" font-size="2.60" text-anchor="middle" font-weight="bold" fill="#10153f" >LXA<tspan font-size="1.8" dy="0.4">5</tspan></text>
<path d="M69.2 221.3v-0.6M69.9 221.3v-0.2M70.6 221.3v-0.6M71.3 221.3v-0.0M72.0 221.3v-0.6M72.7 221.3v-1.1M73.4 221.3v-0.9" fill="none" stroke="#2c40b8" stroke-width="0.45"/>
<ellipse cx="71.40" cy="221.14" rx="1.80" ry="0.85" fill="#16237f" opacity="0.85"/>
<path d="M69.78 221.34 C70.86 221.34 70.70 214.33 70.92 201.30 L71.88 201.30 C72.10 214.33 71.94 221.34 73.02 221.34 Z" fill="url(#pk)" stroke="none"/>
<line x1="71.40" y1="202.30" x2="71.40" y2="221.34" stroke="#1a2a98" stroke-width="0.35"/>
<path d="M71.40 201.90 l-0.65 -0.9 l0.65 -0.7 l0.65 0.7 Z" fill="#0b0b30"/>
<text x="70.70" y="199.10" font-size="2.60" text-anchor="middle" font-weight="bold" fill="#10153f" >RvE2</text>
<path d="M74.9 222.5v-0.8M75.6 222.5v-0.3M76.3 222.5v-0.4M77.0 222.5v-0.2M77.7 222.5v-0.8M78.4 222.5v-0.6M79.1 222.5v-0.9" fill="none" stroke="#2c40b8" stroke-width="0.45"/>
<ellipse cx="77.10" cy="222.32" rx="2.20" ry="0.85" fill="#16237f" opacity="0.85"/>
<path d="M75.12 222.52 C76.44 222.52 76.40 212.82 76.62 194.80 L77.58 194.80 C77.80 212.82 77.76 222.52 79.08 222.52 Z" fill="url(#pk)" stroke="none"/>
<line x1="77.10" y1="195.80" x2="77.10" y2="222.52" stroke="#1a2a98" stroke-width="0.35"/>
<path d="M77.10 195.40 l-0.65 -0.9 l0.65 -0.7 l0.65 0.7 Z" fill="#0b0b30"/>
<text x="81.40" y="192.70" font-size="2.60" text-anchor="middle" font-weight="bold" fill="#10153f" >5,15-diHEPE</text>
<path d="M60.7 249.1v-0.4M61.4 249.1v-0.2M62.1 249.1v-0.9M62.8 249.1v-1.1M63.5 249.1v-0.9M64.2 249.1v-0.9M64.9 249.1v-0.9" fill="none" stroke="#2c40b8" stroke-width="0.45"/>
<ellipse cx="62.90" cy="248.94" rx="1.60" ry="0.85" fill="#16237f" opacity="0.85"/>
<path d="M61.46 249.14 C62.42 249.14 62.20 244.40 62.42 235.60 L63.38 235.60 C63.60 244.40 63.38 249.14 64.34 249.14 Z" fill="url(#pk)" stroke="none"/>
<line x1="62.90" y1="236.60" x2="62.90" y2="249.14" stroke="#1a2a98" stroke-width="0.35"/>
<path d="M62.90 236.20 l-0.65 -0.9 l0.65 -0.7 l0.65 0.7 Z" fill="#0b0b30"/>
<text x="58.40" y="235.90" font-size="2.60" text-anchor="middle" font-weight="bold" fill="#10153f" >PGD<tspan font-size="1.8" dy="0.4">3</tspan></text>
<path d="M62.5 250.0v-0.8M63.2 250.0v-0.2M63.9 250.0v-0.6M64.6 250.0v-0.4M65.3 250.0v-0.0M66.0 250.0v-0.0M66.7 250.0v-0.3" fill="none" stroke="#2c40b8" stroke-width="0.45"/>
<ellipse cx="64.70" cy="249.80" rx="1.60" ry="0.85" fill="#16237f" opacity="0.85"/>
<path d="M63.26 250.00 C64.22 250.00 64.00 244.05 64.22 233.00 L65.18 233.00 C65.40 244.05 65.18 250.00 66.14 250.00 Z" fill="url(#pk)" stroke="none"/>
<line x1="64.70" y1="234.00" x2="64.70" y2="250.00" stroke="#1a2a98" stroke-width="0.35"/>
<path d="M64.70 233.60 l-0.65 -0.9 l0.65 -0.7 l0.65 0.7 Z" fill="#0b0b30"/>
<text x="61.50" y="232.80" font-size="2.60" text-anchor="middle" font-weight="bold" fill="#10153f" >PGE<tspan font-size="1.8" dy="0.4">3</tspan></text>
<path d="M64.5 250.8v-0.3M65.2 250.8v-0.8M65.9 250.8v-1.1M66.6 250.8v-0.5M67.3 250.8v-1.0M68.0 250.8v-1.1M68.7 250.8v-1.1" fill="none" stroke="#2c40b8" stroke-width="0.45"/>
<ellipse cx="66.70" cy="250.65" rx="1.60" ry="0.85" fill="#16237f" opacity="0.85"/>
<path d="M65.26 250.85 C66.22 250.85 66.00 244.01 66.22 231.30 L67.18 231.30 C67.40 244.01 67.18 250.85 68.14 250.85 Z" fill="url(#pk)" stroke="none"/>
<line x1="66.70" y1="232.30" x2="66.70" y2="250.85" stroke="#1a2a98" stroke-width="0.35"/>
<path d="M66.70 231.90 l-0.65 -0.9 l0.65 -0.7 l0.65 0.7 Z" fill="#0b0b30"/>
<text x="64.70" y="230.70" font-size="2.60" text-anchor="middle" font-weight="bold" fill="#10153f" >PGF<tspan font-size="1.8" dy="0.4">3α</tspan></text>
<path d="M67.1 251.7v-0.4M67.8 251.7v-0.2M68.5 251.7v-0.2M69.2 251.7v-0.2M69.9 251.7v-0.2M70.6 251.7v-0.7M71.3 251.7v-1.0" fill="none" stroke="#2c40b8" stroke-width="0.45"/>
<ellipse cx="69.30" cy="251.50" rx="1.80" ry="0.85" fill="#16237f" opacity="0.85"/>
<path d="M67.68 251.70 C68.76 251.70 68.60 243.97 68.82 229.60 L69.78 229.60 C70.00 243.97 69.84 251.70 70.92 251.70 Z" fill="url(#pk)" stroke="none"/>
<line x1="69.30" y1="230.60" x2="69.30" y2="251.70" stroke="#1a2a98" stroke-width="0.35"/>
<path d="M69.30 230.20 l-0.65 -0.9 l0.65 -0.7 l0.65 0.7 Z" fill="#0b0b30"/>
<text x="72.80" y="229.00" font-size="2.60" text-anchor="middle" font-weight="bold" fill="#10153f" >TXB<tspan font-size="1.8" dy="0.4">3</tspan></text>
<path d="M72.3 252.6v-0.9M73.0 252.6v-0.5M73.7 252.6v-0.7M74.4 252.6v-0.9M75.1 252.6v-0.1M75.8 252.6v-0.7M76.5 252.6v-1.0" fill="none" stroke="#2c40b8" stroke-width="0.45"/>
<ellipse cx="74.50" cy="252.36" rx="1.60" ry="0.85" fill="#16237f" opacity="0.85"/>
<path d="M73.06 252.56 C74.02 252.56 73.80 248.09 74.02 239.80 L74.98 239.80 C75.20 248.09 74.98 252.56 75.94 252.56 Z" fill="url(#pk)" stroke="none"/>
<line x1="74.50" y1="240.80" x2="74.50" y2="252.56" stroke="#1a2a98" stroke-width="0.35"/>
<path d="M74.50 240.40 l-0.65 -0.9 l0.65 -0.7 l0.65 0.7 Z" fill="#0b0b30"/>
<text x="75.50" y="239.70" font-size="2.60" text-anchor="middle" font-weight="bold" fill="#10153f" >LTB<tspan font-size="1.8" dy="0.4">5</tspan></text>
<path d="M81.1 279.1v-0.9M81.8 279.1v-0.8M82.5 279.1v-0.5M83.2 279.1v-0.2M83.9 279.1v-0.9M84.6 279.1v-0.4M85.3 279.1v-0.9" fill="none" stroke="#2c40b8" stroke-width="0.45"/>
<ellipse cx="83.30" cy="278.92" rx="1.60" ry="0.85" fill="#16237f" opacity="0.85"/>
<path d="M81.86 279.12 C82.82 279.12 82.60 276.35 82.82 271.20 L83.78 271.20 C84.00 276.35 83.78 279.12 84.74 279.12 Z" fill="url(#pk)" stroke="none"/>
<line x1="83.30" y1="272.20" x2="83.30" y2="279.12" stroke="#1a2a98" stroke-width="0.35"/>
<path d="M83.30 271.80 l-0.65 -0.9 l0.65 -0.7 l0.65 0.7 Z" fill="#0b0b30"/>
<text x="79.70" y="270.60" font-size="2.60" text-anchor="middle" font-weight="bold" fill="#10153f" >18-HEPE</text>
<path d="M83.4 280.3v-1.1M84.1 280.3v-0.4M84.8 280.3v-0.4M85.5 280.3v-1.0M86.2 280.3v-0.8M86.9 280.3v-0.2M87.6 280.3v-0.1" fill="none" stroke="#2c40b8" stroke-width="0.45"/>
<ellipse cx="85.60" cy="280.14" rx="2.00" ry="0.85" fill="#16237f" opacity="0.85"/>
<path d="M83.80 280.34 C85.00 280.34 84.90 273.43 85.12 260.60 L86.08 260.60 C86.30 273.43 86.20 280.34 87.40 280.34 Z" fill="url(#pk)" stroke="none"/>
<line x1="85.60" y1="261.60" x2="85.60" y2="280.34" stroke="#1a2a98" stroke-width="0.35"/>
<path d="M85.60 261.20 l-0.65 -0.9 l0.65 -0.7 l0.65 0.7 Z" fill="#0b0b30"/>
<text x="85.40" y="259.10" font-size="2.60" text-anchor="middle" font-weight="bold" fill="#10153f" >15-HEPE</text>
<path d="M85.0 281.6v-0.2M85.7 281.6v-1.0M86.4 281.6v-0.9M87.1 281.6v-0.2M87.8 281.6v-0.9M88.5 281.6v-1.1M89.2 281.6v-0.7" fill="none" stroke="#2c40b8" stroke-width="0.45"/>
<ellipse cx="87.20" cy="281.36" rx="1.20" ry="0.85" fill="#16237f" opacity="0.85"/>
<path d="M86.12 281.56 C86.84 281.56 86.50 278.21 86.72 272.00 L87.68 272.00 C87.90 278.21 87.56 281.56 88.28 281.56 Z" fill="url(#pk)" stroke="none"/>
<line x1="87.20" y1="273.00" x2="87.20" y2="281.56" stroke="#1a2a98" stroke-width="0.35"/>
<path d="M87.20 272.60 l-0.65 -0.9 l0.65 -0.7 l0.65 0.7 Z" fill="#0b0b30"/>
<path d="M86.2 282.8v-0.4M86.9 282.8v-0.6M87.6 282.8v-0.1M88.3 282.8v-0.0M89.0 282.8v-1.1M89.7 282.8v-0.7M90.4 282.8v-0.6" fill="none" stroke="#2c40b8" stroke-width="0.45"/>
<ellipse cx="88.40" cy="282.58" rx="1.60" ry="0.85" fill="#16237f" opacity="0.85"/>
<path d="M86.96 282.78 C87.92 282.78 87.70 277.75 87.92 268.40 L88.88 268.40 C89.10 277.75 88.88 282.78 89.84 282.78 Z" fill="url(#pk)" stroke="none"/>
<line x1="88.40" y1="269.40" x2="88.40" y2="282.78" stroke="#1a2a98" stroke-width="0.35"/>
<path d="M88.40 269.00 l-0.65 -0.9 l0.65 -0.7 l0.65 0.7 Z" fill="#0b0b30"/>
<text x="92.00" y="266.60" font-size="2.60" text-anchor="middle" font-weight="bold" fill="#10153f" >5-HEPE</text>
<text x="14.90" y="289.30" font-size="2.90" text-anchor="middle" font-weight="normal" fill="#111" stroke="#111" stroke-width="0.08">0</text>
<text x="23.80" y="289.30" font-size="2.90" text-anchor="middle" font-weight="normal" fill="#111" stroke="#111" stroke-width="0.08">2.0</text>
<text x="32.70" y="289.30" font-size="2.90" text-anchor="middle" font-weight="normal" fill="#111" stroke="#111" stroke-width="0.08">4.0</text>
<text x="41.60" y="289.30" font-size="2.90" text-anchor="middle" font-weight="normal" fill="#111" stroke="#111" stroke-width="0.08">6.0</text>
<text x="50.50" y="289.30" font-size="2.90" text-anchor="middle" font-weight="normal" fill="#111" stroke="#111" stroke-width="0.08">8.0</text>
<text x="59.40" y="289.30" font-size="2.90" text-anchor="middle" font-weight="normal" fill="#111" stroke="#111" stroke-width="0.08">10.0</text>
<text x="68.30" y="289.30" font-size="2.90" text-anchor="middle" font-weight="normal" fill="#111" stroke="#111" stroke-width="0.08">12.0</text>
<text x="77.20" y="289.30" font-size="2.90" text-anchor="middle" font-weight="normal" fill="#111" stroke="#111" stroke-width="0.08">14.0</text>
<text x="86.10" y="289.30" font-size="2.90" text-anchor="middle" font-weight="normal" fill="#111" stroke="#111" stroke-width="0.08">16.0</text>
<text x="95.00" y="289.30" font-size="2.90" text-anchor="middle" font-weight="normal" fill="#111" stroke="#111" stroke-width="0.08">18.0</text>
<text x="60.50" y="293.40" font-size="3.70" text-anchor="middle" font-weight="bold" fill="#222" >Time, min</text>
<polygon points="133.70,14.60 127.10,21.80 127.10,86.60 133.70,80.30" fill="#fff" stroke="#222" stroke-width="0.45"/>
<rect x="133.70" y="14.60" width="81.50" height="32.70" fill="url(#b0)" stroke="#7d7f8e" stroke-width="0.25"/>
<polygon points="133.70,47.30 215.20,47.30 208.60,53.40 127.10,53.40" fill="#d3d8f0" stroke="#3b418f" stroke-width="0.4"/>
<line x1="133.40" y1="47.75" x2="214.80" y2="47.75" stroke="#7d84c4" stroke-width="0.9"/>
<line x1="154.07" y1="47.30" x2="147.47" y2="53.40" stroke="#f4f5fc" stroke-width="0.8"/>
<line x1="174.45" y1="47.30" x2="167.85" y2="53.40" stroke="#f4f5fc" stroke-width="0.8"/>
<line x1="194.82" y1="47.30" x2="188.22" y2="53.40" stroke="#f4f5fc" stroke-width="0.8"/>
<line x1="130.40" y1="50.35" x2="211.90" y2="50.35" stroke="#f4f5fc" stroke-width="0.4"/>
<text x="136.30" y="18.30" font-size="2.85" text-anchor="start" font-weight="bold" fill="#14227a" stroke="#14227a" stroke-width="0.16">Docosahexaenoic Acid derived</text>
<text x="136.30" y="22.20" font-size="2.85" text-anchor="start" font-weight="bold" fill="#14227a" stroke="#14227a" stroke-width="0.16">Resolvins, Protectins and</text>
<text x="136.30" y="26.20" font-size="2.85" text-anchor="start" font-weight="bold" fill="#14227a" stroke="#14227a" stroke-width="0.16">Maresins</text>
<text x="137.40" y="44.00" font-size="4.50" text-anchor="start" font-weight="bold" fill="#141d5c" stroke="#141d5c" stroke-width="0.25">10.9%</text>
<rect x="133.70" y="55.00" width="81.50" height="25.20" fill="url(#b1)" stroke="#7d7f8e" stroke-width="0.25"/>
<polygon points="133.70,80.20 215.20,80.20 208.60,86.60 127.10,86.60" fill="#d3d8f0" stroke="#3b418f" stroke-width="0.4"/>
<line x1="133.40" y1="80.65" x2="214.80" y2="80.65" stroke="#7d84c4" stroke-width="0.9"/>
<line x1="154.07" y1="80.20" x2="147.47" y2="86.60" stroke="#f4f5fc" stroke-width="0.8"/>
<line x1="174.45" y1="80.20" x2="167.85" y2="86.60" stroke="#f4f5fc" stroke-width="0.8"/>
<line x1="194.82" y1="80.20" x2="188.22" y2="86.60" stroke="#f4f5fc" stroke-width="0.8"/>
<line x1="130.40" y1="83.40" x2="211.90" y2="83.40" stroke="#f4f5fc" stroke-width="0.4"/>
<text x="136.30" y="58.10" font-size="2.85" text-anchor="start" font-weight="bold" fill="#14227a" stroke="#14227a" stroke-width="0.16">Docosahexaenoic Acid derived</text>
<text x="136.30" y="62.40" font-size="2.85" text-anchor="start" font-weight="bold" fill="#14227a" stroke="#14227a" stroke-width="0.16">Monohydroxy acids</text>
<text x="137.40" y="77.50" font-size="4.50" text-anchor="start" font-weight="bold" fill="#141d5c" stroke="#141d5c" stroke-width="0.25">8.5%</text>
<path d="M127.10 86.60 L208.60 86.60 L215.20 80.20" fill="none" stroke="#222" stroke-width="0.45"/>
<polygon points="133.70,88.30 127.10,95.50 127.10,185.60 133.70,179.30" fill="#fff" stroke="#222" stroke-width="0.45"/>
<rect x="133.70" y="88.30" width="81.50" height="29.40" fill="url(#b2)" stroke="#7d7f8e" stroke-width="0.25"/>
<polygon points="133.70,117.70 215.20,117.70 208.60,123.60 127.10,123.60" fill="#d3d8f0" stroke="#3b418f" stroke-width="0.4"/>
<line x1="133.40" y1="118.15" x2="214.80" y2="118.15" stroke="#7d84c4" stroke-width="0.9"/>
<line x1="154.07" y1="117.70" x2="147.47" y2="123.60" stroke="#f4f5fc" stroke-width="0.8"/>
<line x1="174.45" y1="117.70" x2="167.85" y2="123.60" stroke="#f4f5fc" stroke-width="0.8"/>
<line x1="194.82" y1="117.70" x2="188.22" y2="123.60" stroke="#f4f5fc" stroke-width="0.8"/>
<line x1="130.40" y1="120.65" x2="211.90" y2="120.65" stroke="#f4f5fc" stroke-width="0.4"/>
<text x="136.30" y="95.80" font-size="2.85" text-anchor="start" font-weight="bold" fill="#14227a" stroke="#14227a" stroke-width="0.16">Arachidonic Acid derived</text>
<text x="136.30" y="99.90" font-size="2.85" text-anchor="start" font-weight="bold" fill="#14227a" stroke="#14227a" stroke-width="0.16">Lipoxins</text>
<text x="137.40" y="115.80" font-size="4.50" text-anchor="start" font-weight="bold" fill="#141d5c" stroke="#141d5c" stroke-width="0.25">14.9%</text>
<rect x="133.70" y="125.30" width="81.50" height="23.10" fill="url(#b3)" stroke="#7d7f8e" stroke-width="0.25"/>
<polygon points="133.70,148.40 215.20,148.40 208.60,154.10 127.10,154.10" fill="#d3d8f0" stroke="#3b418f" stroke-width="0.4"/>
<line x1="133.40" y1="148.85" x2="214.80" y2="148.85" stroke="#7d84c4" stroke-width="0.9"/>
<line x1="154.07" y1="148.40" x2="147.47" y2="154.10" stroke="#f4f5fc" stroke-width="0.8"/>
<line x1="174.45" y1="148.40" x2="167.85" y2="154.10" stroke="#f4f5fc" stroke-width="0.8"/>
<line x1="194.82" y1="148.40" x2="188.22" y2="154.10" stroke="#f4f5fc" stroke-width="0.8"/>
<line x1="130.40" y1="151.25" x2="211.90" y2="151.25" stroke="#f4f5fc" stroke-width="0.4"/>
<text x="136.30" y="130.70" font-size="2.85" text-anchor="start" font-weight="bold" fill="#14227a" stroke="#14227a" stroke-width="0.16">Arachidonic Acid derived</text>
<text x="136.30" y="134.70" font-size="2.85" text-anchor="start" font-weight="bold" fill="#14227a" stroke="#14227a" stroke-width="0.16">Leukotrienes  and</text>
<text x="136.30" y="138.60" font-size="2.85" text-anchor="start" font-weight="bold" fill="#14227a" stroke="#14227a" stroke-width="0.16">Prostanoids</text>
<text x="137.40" y="146.30" font-size="4.50" text-anchor="start" font-weight="bold" fill="#141d5c" stroke="#141d5c" stroke-width="0.25">5.2%</text>
<rect x="133.70" y="155.30" width="81.50" height="24.20" fill="url(#b4)" stroke="#7d7f8e" stroke-width="0.25"/>
<polygon points="133.70,179.50 215.20,179.50 208.60,185.60 127.10,185.60" fill="#d3d8f0" stroke="#3b418f" stroke-width="0.4"/>
<line x1="133.40" y1="179.95" x2="214.80" y2="179.95" stroke="#7d84c4" stroke-width="0.9"/>
<line x1="154.07" y1="179.50" x2="147.47" y2="185.60" stroke="#f4f5fc" stroke-width="0.8"/>
<line x1="174.45" y1="179.50" x2="167.85" y2="185.60" stroke="#f4f5fc" stroke-width="0.8"/>
<line x1="194.82" y1="179.50" x2="188.22" y2="185.60" stroke="#f4f5fc" stroke-width="0.8"/>
<line x1="130.40" y1="182.55" x2="211.90" y2="182.55" stroke="#f4f5fc" stroke-width="0.4"/>
<text x="136.30" y="160.10" font-size="2.85" text-anchor="start" font-weight="bold" fill="#14227a" stroke="#14227a" stroke-width="0.16">Arachidonic Acid derived</text>
<text x="136.30" y="164.10" font-size="2.85" text-anchor="start" font-weight="bold" fill="#14227a" stroke="#14227a" stroke-width="0.16">Monohydroxy acids</text>
<text x="137.40" y="176.60" font-size="4.50" text-anchor="start" font-weight="bold" fill="#141d5c" stroke="#141d5c" stroke-width="0.25">19.2%</text>
<path d="M127.10 185.60 L208.60 185.60 L215.20 179.50" fill="none" stroke="#222" stroke-width="0.45"/>
<polygon points="133.70,188.10 127.10,195.30 127.10,284.30 133.70,278.00" fill="#fff" stroke="#222" stroke-width="0.45"/>
<rect x="133.70" y="188.10" width="81.50" height="29.50" fill="url(#b5)" stroke="#7d7f8e" stroke-width="0.25"/>
<polygon points="133.70,217.60 215.20,217.60 208.60,223.60 127.10,223.60" fill="#d3d8f0" stroke="#3b418f" stroke-width="0.4"/>
<line x1="133.40" y1="218.05" x2="214.80" y2="218.05" stroke="#7d84c4" stroke-width="0.9"/>
<line x1="154.07" y1="217.60" x2="147.47" y2="223.60" stroke="#f4f5fc" stroke-width="0.8"/>
<line x1="174.45" y1="217.60" x2="167.85" y2="223.60" stroke="#f4f5fc" stroke-width="0.8"/>
<line x1="194.82" y1="217.60" x2="188.22" y2="223.60" stroke="#f4f5fc" stroke-width="0.8"/>
<line x1="130.40" y1="220.60" x2="211.90" y2="220.60" stroke="#f4f5fc" stroke-width="0.4"/>
<text x="136.30" y="194.00" font-size="2.85" text-anchor="start" font-weight="bold" fill="#14227a" stroke="#14227a" stroke-width="0.16">Eicosapentaenoic Acid derived</text>
<text x="136.30" y="198.10" font-size="2.85" text-anchor="start" font-weight="bold" fill="#14227a" stroke="#14227a" stroke-width="0.16">Lipoxins and Resolvins</text>
<text x="137.40" y="215.10" font-size="4.50" text-anchor="start" font-weight="bold" fill="#141d5c" stroke="#141d5c" stroke-width="0.25">23.9%</text>
<rect x="133.70" y="224.70" width="81.50" height="23.20" fill="url(#b6)" stroke="#7d7f8e" stroke-width="0.25"/>
<polygon points="133.70,247.90 215.20,247.90 208.60,253.70 127.10,253.70" fill="#d3d8f0" stroke="#3b418f" stroke-width="0.4"/>
<line x1="133.40" y1="248.35" x2="214.80" y2="248.35" stroke="#7d84c4" stroke-width="0.9"/>
<line x1="154.07" y1="247.90" x2="147.47" y2="253.70" stroke="#f4f5fc" stroke-width="0.8"/>
<line x1="174.45" y1="247.90" x2="167.85" y2="253.70" stroke="#f4f5fc" stroke-width="0.8"/>
<line x1="194.82" y1="247.90" x2="188.22" y2="253.70" stroke="#f4f5fc" stroke-width="0.8"/>
<line x1="130.40" y1="250.80" x2="211.90" y2="250.80" stroke="#f4f5fc" stroke-width="0.4"/>
<text x="136.30" y="228.00" font-size="2.85" text-anchor="start" font-weight="bold" fill="#14227a" stroke="#14227a" stroke-width="0.16">Eicosapentaenoic Acid derived</text>
<text x="136.30" y="232.00" font-size="2.85" text-anchor="start" font-weight="bold" fill="#14227a" stroke="#14227a" stroke-width="0.16">Leukotrienes  and</text>
<text x="136.30" y="235.80" font-size="2.85" text-anchor="start" font-weight="bold" fill="#14227a" stroke="#14227a" stroke-width="0.16">Prostanoids</text>
<text x="137.40" y="244.70" font-size="4.50" text-anchor="start" font-weight="bold" fill="#141d5c" stroke="#141d5c" stroke-width="0.25">0.6%</text>
<rect x="133.70" y="254.40" width="81.50" height="24.10" fill="url(#b7)" stroke="#7d7f8e" stroke-width="0.25"/>
<polygon points="133.70,278.50 215.20,278.50 208.60,284.30 127.10,284.30" fill="#d3d8f0" stroke="#3b418f" stroke-width="0.4"/>
<line x1="133.40" y1="278.95" x2="214.80" y2="278.95" stroke="#7d84c4" stroke-width="0.9"/>
<line x1="154.07" y1="278.50" x2="147.47" y2="284.30" stroke="#f4f5fc" stroke-width="0.8"/>
<line x1="174.45" y1="278.50" x2="167.85" y2="284.30" stroke="#f4f5fc" stroke-width="0.8"/>
<line x1="194.82" y1="278.50" x2="188.22" y2="284.30" stroke="#f4f5fc" stroke-width="0.8"/>
<line x1="130.40" y1="281.40" x2="211.90" y2="281.40" stroke="#f4f5fc" stroke-width="0.4"/>
<text x="136.30" y="258.10" font-size="2.85" text-anchor="start" font-weight="bold" fill="#14227a" stroke="#14227a" stroke-width="0.16">Eicosapentaenoic Acid derived</text>
<text x="136.30" y="262.20" font-size="2.85" text-anchor="start" font-weight="bold" fill="#14227a" stroke="#14227a" stroke-width="0.16">Monohydroxy acids</text>
<text x="137.40" y="275.70" font-size="4.50" text-anchor="start" font-weight="bold" fill="#141d5c" stroke="#141d5c" stroke-width="0.25">16.6%</text>
<path d="M127.10 284.30 L208.60 284.30 L215.20 278.50" fill="none" stroke="#222" stroke-width="0.45"/>
<path d="M176.8 48.5v-1.0M177.5 48.5v-0.5M178.2 48.5v-1.0M178.9 48.5v-0.9M179.6 48.5v-0.2M180.3 48.5v-0.3M181.0 48.5v-0.3" fill="none" stroke="#2c40b8" stroke-width="0.45"/>
<ellipse cx="179.00" cy="48.32" rx="1.80" ry="0.85" fill="#16237f" opacity="0.85"/>
<path d="M177.38 48.52 C178.46 48.52 178.30 41.09 178.52 27.30 L179.48 27.30 C179.70 41.09 179.54 48.52 180.62 48.52 Z" fill="url(#pk)" stroke="none"/>
<line x1="179.00" y1="28.30" x2="179.00" y2="48.52" stroke="#1a2a98" stroke-width="0.35"/>
<path d="M179.00 27.90 l-0.65 -0.9 l0.65 -0.7 l0.65 0.7 Z" fill="#0b0b30"/>
<text x="178.50" y="25.60" font-size="2.60" text-anchor="middle" font-weight="bold" fill="#10153f" >RvD2</text>
<path d="M181.5 49.4v-0.3M182.2 49.4v-0.6M182.9 49.4v-0.3M183.6 49.4v-0.5M184.3 49.4v-0.1M185.0 49.4v-1.0M185.7 49.4v-0.4" fill="none" stroke="#2c40b8" stroke-width="0.45"/>
<ellipse cx="183.70" cy="49.23" rx="1.60" ry="0.85" fill="#16237f" opacity="0.85"/>
<path d="M182.26 49.43 C183.22 49.43 183.00 44.10 183.22 34.20 L184.18 34.20 C184.40 44.10 184.18 49.43 185.14 49.43 Z" fill="url(#pk)" stroke="none"/>
<line x1="183.70" y1="35.20" x2="183.70" y2="49.43" stroke="#1a2a98" stroke-width="0.35"/>
<path d="M183.70 34.80 l-0.65 -0.9 l0.65 -0.7 l0.65 0.7 Z" fill="#0b0b30"/>
<text x="183.70" y="33.10" font-size="2.60" text-anchor="middle" font-weight="bold" fill="#10153f" >RvD5</text>
<path d="M186.6 50.3v-0.5M187.3 50.3v-0.6M188.0 50.3v-1.0M188.7 50.3v-0.5M189.4 50.3v-1.0M190.1 50.3v-0.6M190.8 50.3v-0.6" fill="none" stroke="#2c40b8" stroke-width="0.45"/>
<ellipse cx="188.80" cy="50.15" rx="1.80" ry="0.85" fill="#16237f" opacity="0.85"/>
<path d="M187.18 50.35 C188.26 50.35 188.10 42.60 188.32 28.20 L189.28 28.20 C189.50 42.60 189.34 50.35 190.42 50.35 Z" fill="url(#pk)" stroke="none"/>
<line x1="188.80" y1="29.20" x2="188.80" y2="50.35" stroke="#1a2a98" stroke-width="0.35"/>
<path d="M188.80 28.80 l-0.65 -0.9 l0.65 -0.7 l0.65 0.7 Z" fill="#0b0b30"/>
<text x="187.60" y="27.30" font-size="2.60" text-anchor="middle" font-weight="bold" fill="#10153f" >MaR1</text>
<path d="M190.1 51.3v-0.6M190.8 51.3v-0.0M191.5 51.3v-0.5M192.2 51.3v-0.2M192.9 51.3v-0.0M193.6 51.3v-0.9M194.3 51.3v-0.2" fill="none" stroke="#2c40b8" stroke-width="0.45"/>
<ellipse cx="192.30" cy="51.06" rx="1.80" ry="0.85" fill="#16237f" opacity="0.85"/>
<path d="M190.68 51.27 C191.76 51.27 191.60 42.88 191.82 27.30 L192.78 27.30 C193.00 42.88 192.84 51.27 193.92 51.27 Z" fill="url(#pk)" stroke="none"/>
<line x1="192.30" y1="28.30" x2="192.30" y2="51.27" stroke="#1a2a98" stroke-width="0.35"/>
<path d="M192.30 27.90 l-0.65 -0.9 l0.65 -0.7 l0.65 0.7 Z" fill="#0b0b30"/>
<text x="190.80" y="23.90" font-size="2.60" text-anchor="middle" font-weight="bold" fill="#10153f" >RvD1</text>
<path d="M193.9 52.2v-0.5M194.6 52.2v-0.8M195.3 52.2v-0.6M196.0 52.2v-0.4M196.7 52.2v-0.6M197.4 52.2v-0.6M198.1 52.2v-0.9" fill="none" stroke="#2c40b8" stroke-width="0.45"/>
<ellipse cx="196.10" cy="51.98" rx="2.00" ry="0.85" fill="#16237f" opacity="0.85"/>
<path d="M194.30 52.18 C195.50 52.18 195.40 43.16 195.62 26.40 L196.58 26.40 C196.80 43.16 196.70 52.18 197.90 52.18 Z" fill="url(#pk)" stroke="none"/>
<line x1="196.10" y1="27.40" x2="196.10" y2="52.18" stroke="#1a2a98" stroke-width="0.35"/>
<path d="M196.10 27.00 l-0.65 -0.9 l0.65 -0.7 l0.65 0.7 Z" fill="#0b0b30"/>
<text x="199.20" y="26.10" font-size="2.60" text-anchor="middle" font-weight="bold" fill="#10153f" >PD1</text>
<path d="M196.5 81.5v-0.1M197.2 81.5v-0.6M197.9 81.5v-0.3M198.6 81.5v-0.3M199.3 81.5v-0.8M200.0 81.5v-0.6M200.7 81.5v-0.6" fill="none" stroke="#2c40b8" stroke-width="0.45"/>
<ellipse cx="198.70" cy="81.28" rx="2.20" ry="0.85" fill="#16237f" opacity="0.85"/>
<path d="M196.72 81.48 C198.04 81.48 198.00 77.36 198.22 69.70 L199.18 69.70 C199.40 77.36 199.36 81.48 200.68 81.48 Z" fill="url(#pk)" stroke="none"/>
<line x1="198.70" y1="70.70" x2="198.70" y2="81.48" stroke="#1a2a98" stroke-width="0.35"/>
<path d="M198.70 70.30 l-0.65 -0.9 l0.65 -0.7 l0.65 0.7 Z" fill="#0b0b30"/>
<text x="194.00" y="67.10" font-size="2.60" text-anchor="middle" font-weight="bold" fill="#10153f" >14-HDHA</text>
<path d="M197.7 82.8v-0.8M198.4 82.8v-1.0M199.1 82.8v-0.5M199.8 82.8v-0.7M200.5 82.8v-0.6M201.2 82.8v-0.6M201.9 82.8v-0.8" fill="none" stroke="#2c40b8" stroke-width="0.45"/>
<ellipse cx="199.90" cy="82.56" rx="1.20" ry="0.85" fill="#16237f" opacity="0.85"/>
<path d="M198.82 82.76 C199.54 82.76 199.20 78.82 199.42 71.50 L200.38 71.50 C200.60 78.82 200.26 82.76 200.98 82.76 Z" fill="url(#pk)" stroke="none"/>
<line x1="199.90" y1="72.50" x2="199.90" y2="82.76" stroke="#1a2a98" stroke-width="0.35"/>
<path d="M199.90 72.10 l-0.65 -0.9 l0.65 -0.7 l0.65 0.7 Z" fill="#0b0b30"/>
<text x="192.90" y="69.90" font-size="2.60" text-anchor="middle" font-weight="bold" fill="#10153f" >17-HDHA</text>
<path d="M201.4 84.0v-0.5M202.1 84.0v-0.6M202.8 84.0v-0.5M203.5 84.0v-1.0M204.2 84.0v-0.8M204.9 84.0v-1.0M205.6 84.0v-1.0" fill="none" stroke="#2c40b8" stroke-width="0.45"/>
<ellipse cx="203.60" cy="83.84" rx="1.80" ry="0.85" fill="#16237f" opacity="0.85"/>
<path d="M201.98 84.04 C203.06 84.04 202.90 75.80 203.12 60.50 L204.08 60.50 C204.30 75.80 204.14 84.04 205.22 84.04 Z" fill="url(#pk)" stroke="none"/>
<line x1="203.60" y1="61.50" x2="203.60" y2="84.04" stroke="#1a2a98" stroke-width="0.35"/>
<path d="M203.60 61.10 l-0.65 -0.9 l0.65 -0.7 l0.65 0.7 Z" fill="#0b0b30"/>
<text x="198.60" y="59.70" font-size="2.60" text-anchor="middle" font-weight="bold" fill="#10153f" >7-HDHA</text>
<path d="M204.0 85.3v-0.3M204.7 85.3v-0.6M205.4 85.3v-1.0M206.1 85.3v-0.9M206.8 85.3v-0.2M207.5 85.3v-0.1M208.2 85.3v-0.5" fill="none" stroke="#2c40b8" stroke-width="0.45"/>
<ellipse cx="206.20" cy="85.12" rx="2.00" ry="0.85" fill="#16237f" opacity="0.85"/>
<path d="M204.40 85.32 C205.60 85.32 205.50 75.93 205.72 58.50 L206.68 58.50 C206.90 75.93 206.80 85.32 208.00 85.32 Z" fill="url(#pk)" stroke="none"/>
<line x1="206.20" y1="59.50" x2="206.20" y2="85.32" stroke="#1a2a98" stroke-width="0.35"/>
<path d="M206.20 59.10 l-0.65 -0.9 l0.65 -0.7 l0.65 0.7 Z" fill="#0b0b30"/>
<text x="208.70" y="57.60" font-size="2.60" text-anchor="middle" font-weight="bold" fill="#10153f" >4-HDHA</text>
<path d="M174.2 118.9v-0.1M174.9 118.9v-0.3M175.6 118.9v-0.1M176.3 118.9v-0.7M177.0 118.9v-0.9M177.7 118.9v-1.0M178.4 118.9v-0.2" fill="none" stroke="#2c40b8" stroke-width="0.45"/>
<ellipse cx="176.40" cy="118.68" rx="2.60" ry="0.85" fill="#16237f" opacity="0.85"/>
<path d="M174.06 118.88 C175.62 118.88 175.70 111.33 175.92 97.30 L176.88 97.30 C177.10 111.33 177.18 118.88 178.74 118.88 Z" fill="url(#pk)" stroke="none"/>
<line x1="176.40" y1="98.30" x2="176.40" y2="118.88" stroke="#1a2a98" stroke-width="0.35"/>
<path d="M176.40 97.90 l-0.65 -0.9 l0.65 -0.7 l0.65 0.7 Z" fill="#0b0b30"/>
<text x="177.60" y="95.70" font-size="2.60" text-anchor="middle" font-weight="bold" fill="#10153f" >LXB<tspan font-size="1.8" dy="0.4">4</tspan></text>
<path d="M181.1 120.7v-0.8M181.8 120.7v-0.7M182.5 120.7v-0.2M183.2 120.7v-1.0M183.9 120.7v-1.1M184.6 120.7v-0.2M185.3 120.7v-1.0" fill="none" stroke="#2c40b8" stroke-width="0.45"/>
<ellipse cx="183.30" cy="120.45" rx="1.80" ry="0.85" fill="#16237f" opacity="0.85"/>
<path d="M181.68 120.65 C182.76 120.65 182.60 114.61 182.82 103.40 L183.78 103.40 C184.00 114.61 183.84 120.65 184.92 120.65 Z" fill="url(#pk)" stroke="none"/>
<line x1="183.30" y1="104.40" x2="183.30" y2="120.65" stroke="#1a2a98" stroke-width="0.35"/>
<path d="M183.30 104.00 l-0.65 -0.9 l0.65 -0.7 l0.65 0.7 Z" fill="#0b0b30"/>
<text x="185.00" y="103.50" font-size="2.60" text-anchor="middle" font-weight="bold" fill="#10153f" >LXA<tspan font-size="1.8" dy="0.4">4</tspan></text>
<path d="M188.4 122.4v-0.4M189.1 122.4v-0.5M189.8 122.4v-1.1M190.5 122.4v-0.9M191.2 122.4v-0.2M191.9 122.4v-0.5M192.6 122.4v-0.6" fill="none" stroke="#2c40b8" stroke-width="0.45"/>
<ellipse cx="190.60" cy="122.22" rx="2.00" ry="0.85" fill="#16237f" opacity="0.85"/>
<path d="M188.80 122.42 C190.00 122.42 189.90 114.36 190.12 99.40 L191.08 99.40 C191.30 114.36 191.20 122.42 192.40 122.42 Z" fill="url(#pk)" stroke="none"/>
<line x1="190.60" y1="100.40" x2="190.60" y2="122.42" stroke="#1a2a98" stroke-width="0.35"/>
<path d="M190.60 100.00 l-0.65 -0.9 l0.65 -0.7 l0.65 0.7 Z" fill="#0b0b30"/>
<text x="195.80" y="98.30" font-size="2.60" text-anchor="middle" font-weight="bold" fill="#10153f" >5,15-diHETE</text>
<path d="M172.3 149.5v-0.4M173.0 149.5v-0.2M173.7 149.5v-0.4M174.4 149.5v-0.8M175.1 149.5v-0.0M175.8 149.5v-0.6M176.5 149.5v-0.5" fill="none" stroke="#2c40b8" stroke-width="0.45"/>
<ellipse cx="174.50" cy="149.34" rx="1.40" ry="0.85" fill="#16237f" opacity="0.85"/>
<path d="M173.24 149.54 C174.08 149.54 173.80 146.73 174.02 141.50 L174.98 141.50 C175.20 146.73 174.92 149.54 175.76 149.54 Z" fill="url(#pk)" stroke="none"/>
<line x1="174.50" y1="142.50" x2="174.50" y2="149.54" stroke="#1a2a98" stroke-width="0.35"/>
<path d="M174.50 142.10 l-0.65 -0.9 l0.65 -0.7 l0.65 0.7 Z" fill="#0b0b30"/>
<text x="172.60" y="139.70" font-size="2.60" text-anchor="middle" font-weight="bold" fill="#10153f" >PGD<tspan font-size="1.8" dy="0.4">2</tspan></text>
<path d="M174.0 150.2v-0.0M174.7 150.2v-0.4M175.4 150.2v-0.7M176.1 150.2v-0.6M176.8 150.2v-0.1M177.5 150.2v-1.1M178.2 150.2v-0.9" fill="none" stroke="#2c40b8" stroke-width="0.45"/>
<ellipse cx="176.20" cy="150.02" rx="2.00" ry="0.85" fill="#16237f" opacity="0.85"/>
<path d="M174.40 150.22 C175.60 150.22 175.50 146.82 175.72 140.50 L176.68 140.50 C176.90 146.82 176.80 150.22 178.00 150.22 Z" fill="url(#pk)" stroke="none"/>
<line x1="176.20" y1="141.50" x2="176.20" y2="150.22" stroke="#1a2a98" stroke-width="0.35"/>
<path d="M176.20 141.10 l-0.65 -0.9 l0.65 -0.7 l0.65 0.7 Z" fill="#0b0b30"/>
<text x="177.30" y="137.00" font-size="2.60" text-anchor="middle" font-weight="bold" fill="#10153f" >PGE<tspan font-size="1.8" dy="0.4">2</tspan></text>
<path d="M175.7 150.9v-1.1M176.4 150.9v-0.1M177.1 150.9v-0.3M177.8 150.9v-0.0M178.5 150.9v-0.9M179.2 150.9v-0.3M179.9 150.9v-0.1" fill="none" stroke="#2c40b8" stroke-width="0.45"/>
<ellipse cx="177.90" cy="150.71" rx="1.60" ry="0.85" fill="#16237f" opacity="0.85"/>
<path d="M176.46 150.91 C177.42 150.91 177.20 146.81 177.42 139.20 L178.38 139.20 C178.60 146.81 178.38 150.91 179.34 150.91 Z" fill="url(#pk)" stroke="none"/>
<line x1="177.90" y1="140.20" x2="177.90" y2="150.91" stroke="#1a2a98" stroke-width="0.35"/>
<path d="M177.90 139.80 l-0.65 -0.9 l0.65 -0.7 l0.65 0.7 Z" fill="#0b0b30"/>
<path d="M180.0 151.6v-0.5M180.7 151.6v-1.0M181.4 151.6v-0.9M182.1 151.6v-0.3M182.8 151.6v-0.2M183.5 151.6v-1.0M184.2 151.6v-0.6" fill="none" stroke="#2c40b8" stroke-width="0.45"/>
<ellipse cx="182.20" cy="151.39" rx="2.20" ry="0.85" fill="#16237f" opacity="0.85"/>
<path d="M180.22 151.59 C181.54 151.59 181.50 144.24 181.72 130.60 L182.68 130.60 C182.90 144.24 182.86 151.59 184.18 151.59 Z" fill="url(#pk)" stroke="none"/>
<line x1="182.20" y1="131.60" x2="182.20" y2="151.59" stroke="#1a2a98" stroke-width="0.35"/>
<path d="M182.20 131.20 l-0.65 -0.9 l0.65 -0.7 l0.65 0.7 Z" fill="#0b0b30"/>
<text x="182.20" y="129.20" font-size="2.60" text-anchor="middle" font-weight="bold" fill="#10153f" >PGF<tspan font-size="1.8" dy="0.4">2α</tspan></text>
<path d="M183.2 152.3v-0.8M183.9 152.3v-0.1M184.6 152.3v-0.1M185.3 152.3v-0.8M186.0 152.3v-0.5M186.7 152.3v-0.1M187.4 152.3v-1.0" fill="none" stroke="#2c40b8" stroke-width="0.45"/>
<ellipse cx="185.40" cy="152.08" rx="1.60" ry="0.85" fill="#16237f" opacity="0.85"/>
<path d="M183.96 152.28 C184.92 152.28 184.70 147.49 184.92 138.60 L185.88 138.60 C186.10 147.49 185.88 152.28 186.84 152.28 Z" fill="url(#pk)" stroke="none"/>
<line x1="185.40" y1="139.60" x2="185.40" y2="152.28" stroke="#1a2a98" stroke-width="0.35"/>
<path d="M185.40 139.20 l-0.65 -0.9 l0.65 -0.7 l0.65 0.7 Z" fill="#0b0b30"/>
<text x="187.60" y="137.60" font-size="2.60" text-anchor="middle" font-weight="bold" fill="#10153f" >TXB<tspan font-size="1.8" dy="0.4">2</tspan></text>
<path d="M188.0 153.0v-0.7M188.7 153.0v-0.9M189.4 153.0v-0.1M190.1 153.0v-0.9M190.8 153.0v-0.1M191.5 153.0v-0.9M192.2 153.0v-0.5" fill="none" stroke="#2c40b8" stroke-width="0.45"/>
<ellipse cx="190.20" cy="152.76" rx="1.60" ry="0.85" fill="#16237f" opacity="0.85"/>
<path d="M188.76 152.96 C189.72 152.96 189.50 149.54 189.72 143.20 L190.68 143.20 C190.90 149.54 190.68 152.96 191.64 152.96 Z" fill="url(#pk)" stroke="none"/>
<line x1="190.20" y1="144.20" x2="190.20" y2="152.96" stroke="#1a2a98" stroke-width="0.35"/>
<path d="M190.20 143.80 l-0.65 -0.9 l0.65 -0.7 l0.65 0.7 Z" fill="#0b0b30"/>
<text x="191.00" y="142.00" font-size="2.60" text-anchor="middle" font-weight="bold" fill="#10153f" >LTB<tspan font-size="1.8" dy="0.4">4</tspan></text>
<path d="M197.0 180.7v-0.4M197.7 180.7v-0.6M198.4 180.7v-1.0M199.1 180.7v-0.3M199.8 180.7v-0.1M200.5 180.7v-0.6M201.2 180.7v-0.3" fill="none" stroke="#2c40b8" stroke-width="0.45"/>
<ellipse cx="199.20" cy="180.52" rx="1.40" ry="0.85" fill="#16237f" opacity="0.85"/>
<path d="M197.94 180.72 C198.78 180.72 198.50 177.95 198.72 172.80 L199.68 172.80 C199.90 177.95 199.62 180.72 200.46 180.72 Z" fill="url(#pk)" stroke="none"/>
<line x1="199.20" y1="173.80" x2="199.20" y2="180.72" stroke="#1a2a98" stroke-width="0.35"/>
<path d="M199.20 173.40 l-0.65 -0.9 l0.65 -0.7 l0.65 0.7 Z" fill="#0b0b30"/>
<text x="196.80" y="171.30" font-size="2.60" text-anchor="middle" font-weight="bold" fill="#10153f" >15-HETE</text>
<path d="M199.9 182.6v-0.1M200.6 182.6v-0.2M201.3 182.6v-0.1M202.0 182.6v-0.2M202.7 182.6v-0.3M203.4 182.6v-0.3M204.1 182.6v-0.8" fill="none" stroke="#2c40b8" stroke-width="0.45"/>
<ellipse cx="202.10" cy="182.35" rx="1.40" ry="0.85" fill="#16237f" opacity="0.85"/>
<path d="M200.84 182.55 C201.68 182.55 201.40 178.58 201.62 171.20 L202.58 171.20 C202.80 178.58 202.52 182.55 203.36 182.55 Z" fill="url(#pk)" stroke="none"/>
<line x1="202.10" y1="172.20" x2="202.10" y2="182.55" stroke="#1a2a98" stroke-width="0.35"/>
<path d="M202.10 171.80 l-0.65 -0.9 l0.65 -0.7 l0.65 0.7 Z" fill="#0b0b30"/>
<text x="199.00" y="168.30" font-size="2.60" text-anchor="middle" font-weight="bold" fill="#10153f" >12-HETE</text>
<path d="M202.8 184.4v-0.3M203.5 184.4v-0.6M204.2 184.4v-0.2M204.9 184.4v-0.4M205.6 184.4v-0.0M206.3 184.4v-0.3M207.0 184.4v-0.0" fill="none" stroke="#2c40b8" stroke-width="0.45"/>
<ellipse cx="205.00" cy="184.18" rx="1.80" ry="0.85" fill="#16237f" opacity="0.85"/>
<path d="M203.38 184.38 C204.46 184.38 204.30 176.06 204.52 160.60 L205.48 160.60 C205.70 176.06 205.54 184.38 206.62 184.38 Z" fill="url(#pk)" stroke="none"/>
<line x1="205.00" y1="161.60" x2="205.00" y2="184.38" stroke="#1a2a98" stroke-width="0.35"/>
<path d="M205.00 161.20 l-0.65 -0.9 l0.65 -0.7 l0.65 0.7 Z" fill="#0b0b30"/>
<text x="203.30" y="159.20" font-size="2.60" text-anchor="middle" font-weight="bold" fill="#10153f" >5-HETE</text>
<path d="M174.9 218.8v-0.8M175.6 218.8v-0.6M176.3 218.8v-0.2M177.0 218.8v-0.5M177.7 218.8v-1.0M178.4 218.8v-0.1M179.1 218.8v-0.9" fill="none" stroke="#2c40b8" stroke-width="0.45"/>
<ellipse cx="177.10" cy="218.60" rx="1.80" ry="0.85" fill="#16237f" opacity="0.85"/>
<path d="M175.48 218.80 C176.56 218.80 176.40 212.50 176.62 200.80 L177.58 200.80 C177.80 212.50 177.64 218.80 178.72 218.80 Z" fill="url(#pk)" stroke="none"/>
<line x1="177.10" y1="201.80" x2="177.10" y2="218.80" stroke="#1a2a98" stroke-width="0.35"/>
<path d="M177.10 201.40 l-0.65 -0.9 l0.65 -0.7 l0.65 0.7 Z" fill="#0b0b30"/>
<text x="175.70" y="199.10" font-size="2.60" text-anchor="middle" font-weight="bold" fill="#10153f" >LXB<tspan font-size="1.8" dy="0.4">5</tspan></text>
<path d="M178.3 220.0v-0.5M179.0 220.0v-0.5M179.7 220.0v-0.9M180.4 220.0v-0.4M181.1 220.0v-0.6M181.8 220.0v-0.8M182.5 220.0v-1.1" fill="none" stroke="#2c40b8" stroke-width="0.45"/>
<ellipse cx="180.50" cy="219.80" rx="1.80" ry="0.85" fill="#16237f" opacity="0.85"/>
<path d="M178.88 220.00 C179.96 220.00 179.80 212.65 180.02 199.00 L180.98 199.00 C181.20 212.65 181.04 220.00 182.12 220.00 Z" fill="url(#pk)" stroke="none"/>
<line x1="180.50" y1="200.00" x2="180.50" y2="220.00" stroke="#1a2a98" stroke-width="0.35"/>
<path d="M180.50 199.60 l-0.65 -0.9 l0.65 -0.7 l0.65 0.7 Z" fill="#0b0b30"/>
<text x="181.20" y="197.90" font-size="2.60" text-anchor="middle" font-weight="bold" fill="#10153f" >LXA<tspan font-size="1.8" dy="0.4">5</tspan></text>
<path d="M181.8 221.2v-0.4M182.5 221.2v-0.9M183.2 221.2v-0.8M183.9 221.2v-0.7M184.6 221.2v-0.4M185.3 221.2v-0.4M186.0 221.2v-0.1" fill="none" stroke="#2c40b8" stroke-width="0.45"/>
<ellipse cx="184.00" cy="221.00" rx="1.60" ry="0.85" fill="#16237f" opacity="0.85"/>
<path d="M182.56 221.20 C183.52 221.20 183.30 216.16 183.52 206.80 L184.48 206.80 C184.70 216.16 184.48 221.20 185.44 221.20 Z" fill="url(#pk)" stroke="none"/>
<line x1="184.00" y1="207.80" x2="184.00" y2="221.20" stroke="#1a2a98" stroke-width="0.35"/>
<path d="M184.00 207.40 l-0.65 -0.9 l0.65 -0.7 l0.65 0.7 Z" fill="#0b0b30"/>
<text x="184.30" y="205.50" font-size="2.60" text-anchor="middle" font-weight="bold" fill="#10153f" >RvE2</text>
<path d="M188.7 222.4v-0.1M189.4 222.4v-0.1M190.1 222.4v-0.8M190.8 222.4v-0.3M191.5 222.4v-0.2M192.2 222.4v-0.1M192.9 222.4v-0.9" fill="none" stroke="#2c40b8" stroke-width="0.45"/>
<ellipse cx="190.90" cy="222.20" rx="2.00" ry="0.85" fill="#16237f" opacity="0.85"/>
<path d="M189.10 222.40 C190.30 222.40 190.20 215.44 190.42 202.50 L191.38 202.50 C191.60 215.44 191.50 222.40 192.70 222.40 Z" fill="url(#pk)" stroke="none"/>
<line x1="190.90" y1="203.50" x2="190.90" y2="222.40" stroke="#1a2a98" stroke-width="0.35"/>
<path d="M190.90 203.10 l-0.65 -0.9 l0.65 -0.7 l0.65 0.7 Z" fill="#0b0b30"/>
<text x="194.90" y="200.30" font-size="2.60" text-anchor="middle" font-weight="bold" fill="#10153f" >5,15-diHEPE</text>
<path d="M173.7 249.1v-1.0M174.4 249.1v-0.7M175.1 249.1v-0.3M175.8 249.1v-0.3M176.5 249.1v-0.3M177.2 249.1v-0.5M177.9 249.1v-0.2" fill="none" stroke="#2c40b8" stroke-width="0.45"/>
<ellipse cx="175.90" cy="248.86" rx="1.40" ry="0.85" fill="#16237f" opacity="0.85"/>
<path d="M174.64 249.06 C175.48 249.06 175.20 245.78 175.42 239.70 L176.38 239.70 C176.60 245.78 176.32 249.06 177.16 249.06 Z" fill="url(#pk)" stroke="none"/>
<line x1="175.90" y1="240.70" x2="175.90" y2="249.06" stroke="#1a2a98" stroke-width="0.35"/>
<path d="M175.90 240.30 l-0.65 -0.9 l0.65 -0.7 l0.65 0.7 Z" fill="#0b0b30"/>
<text x="173.10" y="238.60" font-size="2.60" text-anchor="middle" font-weight="bold" fill="#10153f" >PGD<tspan font-size="1.8" dy="0.4">3</tspan></text>
<path d="M176.3 249.9v-0.5M177.0 249.9v-0.3M177.7 249.9v-1.1M178.4 249.9v-1.1M179.1 249.9v-0.6M179.8 249.9v-0.3M180.5 249.9v-1.1" fill="none" stroke="#2c40b8" stroke-width="0.45"/>
<ellipse cx="178.50" cy="249.73" rx="1.60" ry="0.85" fill="#16237f" opacity="0.85"/>
<path d="M177.06 249.93 C178.02 249.93 177.80 245.44 178.02 237.10 L178.98 237.10 C179.20 245.44 178.98 249.93 179.94 249.93 Z" fill="url(#pk)" stroke="none"/>
<line x1="178.50" y1="238.10" x2="178.50" y2="249.93" stroke="#1a2a98" stroke-width="0.35"/>
<path d="M178.50 237.70 l-0.65 -0.9 l0.65 -0.7 l0.65 0.7 Z" fill="#0b0b30"/>
<text x="175.30" y="235.90" font-size="2.60" text-anchor="middle" font-weight="bold" fill="#10153f" >PGE<tspan font-size="1.8" dy="0.4">3</tspan></text>
<path d="M178.8 250.8v-0.3M179.5 250.8v-0.4M180.2 250.8v-0.0M180.9 250.8v-0.4M181.6 250.8v-0.5M182.3 250.8v-0.6M183.0 250.8v-0.2" fill="none" stroke="#2c40b8" stroke-width="0.45"/>
<ellipse cx="181.00" cy="250.60" rx="1.60" ry="0.85" fill="#16237f" opacity="0.85"/>
<path d="M179.56 250.80 C180.52 250.80 180.30 245.27 180.52 235.00 L181.48 235.00 C181.70 245.27 181.48 250.80 182.44 250.80 Z" fill="url(#pk)" stroke="none"/>
<line x1="181.00" y1="236.00" x2="181.00" y2="250.80" stroke="#1a2a98" stroke-width="0.35"/>
<path d="M181.00 235.60 l-0.65 -0.9 l0.65 -0.7 l0.65 0.7 Z" fill="#0b0b30"/>
<text x="178.50" y="232.80" font-size="2.60" text-anchor="middle" font-weight="bold" fill="#10153f" >PGF<tspan font-size="1.8" dy="0.4">3α</tspan></text>
<path d="M181.8 251.7v-0.6M182.5 251.7v-0.0M183.2 251.7v-0.3M183.9 251.7v-0.1M184.6 251.7v-0.4M185.3 251.7v-0.0M186.0 251.7v-0.0" fill="none" stroke="#2c40b8" stroke-width="0.45"/>
<ellipse cx="184.00" cy="251.47" rx="1.60" ry="0.85" fill="#16237f" opacity="0.85"/>
<path d="M182.56 251.67 C183.52 251.67 183.30 244.75 183.52 231.90 L184.48 231.90 C184.70 244.75 184.48 251.67 185.44 251.67 Z" fill="url(#pk)" stroke="none"/>
<line x1="184.00" y1="232.90" x2="184.00" y2="251.67" stroke="#1a2a98" stroke-width="0.35"/>
<path d="M184.00 232.50 l-0.65 -0.9 l0.65 -0.7 l0.65 0.7 Z" fill="#0b0b30"/>
<text x="185.00" y="231.10" font-size="2.60" text-anchor="middle" font-weight="bold" fill="#10153f" >TXB<tspan font-size="1.8" dy="0.4">3</tspan></text>
<path d="M186.6 252.5v-0.3M187.3 252.5v-0.3M188.0 252.5v-0.6M188.7 252.5v-0.6M189.4 252.5v-0.8M190.1 252.5v-0.7M190.8 252.5v-0.8" fill="none" stroke="#2c40b8" stroke-width="0.45"/>
<ellipse cx="188.80" cy="252.34" rx="1.60" ry="0.85" fill="#16237f" opacity="0.85"/>
<path d="M187.36 252.54 C188.32 252.54 188.10 246.54 188.32 235.40 L189.28 235.40 C189.50 246.54 189.28 252.54 190.24 252.54 Z" fill="url(#pk)" stroke="none"/>
<line x1="188.80" y1="236.40" x2="188.80" y2="252.54" stroke="#1a2a98" stroke-width="0.35"/>
<path d="M188.80 236.00 l-0.65 -0.9 l0.65 -0.7 l0.65 0.7 Z" fill="#0b0b30"/>
<text x="189.90" y="234.90" font-size="2.60" text-anchor="middle" font-weight="bold" fill="#10153f" >LTB<tspan font-size="1.8" dy="0.4">5</tspan></text>
<path d="M193.2 279.7v-1.0M193.9 279.7v-0.4M194.6 279.7v-0.4M195.3 279.7v-1.1M196.0 279.7v-0.2M196.7 279.7v-0.8M197.4 279.7v-0.7" fill="none" stroke="#2c40b8" stroke-width="0.45"/>
<ellipse cx="195.40" cy="279.46" rx="1.60" ry="0.85" fill="#16237f" opacity="0.85"/>
<path d="M193.96 279.66 C194.92 279.66 194.70 273.55 194.92 262.20 L195.88 262.20 C196.10 273.55 195.88 279.66 196.84 279.66 Z" fill="url(#pk)" stroke="none"/>
<line x1="195.40" y1="263.20" x2="195.40" y2="279.66" stroke="#1a2a98" stroke-width="0.35"/>
<path d="M195.40 262.80 l-0.65 -0.9 l0.65 -0.7 l0.65 0.7 Z" fill="#0b0b30"/>
<text x="193.20" y="260.90" font-size="2.60" text-anchor="middle" font-weight="bold" fill="#10153f" >15-HEPE</text>
<path d="M194.2 280.8v-0.0M194.9 280.8v-0.9M195.6 280.8v-1.0M196.3 280.8v-0.7M197.0 280.8v-0.8M197.7 280.8v-0.9M198.4 280.8v-0.2" fill="none" stroke="#2c40b8" stroke-width="0.45"/>
<ellipse cx="196.40" cy="280.62" rx="1.00" ry="0.85" fill="#16237f" opacity="0.85"/>
<path d="M195.50 280.82 C196.10 280.82 195.70 275.11 195.92 264.50 L196.88 264.50 C197.10 275.11 196.70 280.82 197.30 280.82 Z" fill="url(#pk)" stroke="none"/>
<line x1="196.40" y1="265.50" x2="196.40" y2="280.82" stroke="#1a2a98" stroke-width="0.35"/>
<path d="M196.40 265.10 l-0.65 -0.9 l0.65 -0.7 l0.65 0.7 Z" fill="#0b0b30"/>
<text x="192.50" y="263.50" font-size="2.60" text-anchor="middle" font-weight="bold" fill="#10153f" >18-HEPE</text>
<path d="M196.2 282.0v-0.6M196.9 282.0v-0.6M197.6 282.0v-0.9M198.3 282.0v-0.9M199.0 282.0v-0.9M199.7 282.0v-0.6M200.4 282.0v-1.0" fill="none" stroke="#2c40b8" stroke-width="0.45"/>
<ellipse cx="198.40" cy="281.78" rx="1.40" ry="0.85" fill="#16237f" opacity="0.85"/>
<path d="M197.14 281.98 C197.98 281.98 197.70 274.46 197.92 260.50 L198.88 260.50 C199.10 274.46 198.82 281.98 199.66 281.98 Z" fill="url(#pk)" stroke="none"/>
<line x1="198.40" y1="261.50" x2="198.40" y2="281.98" stroke="#1a2a98" stroke-width="0.35"/>
<path d="M198.40 261.10 l-0.65 -0.9 l0.65 -0.7 l0.65 0.7 Z" fill="#0b0b30"/>
<path d="M199.6 283.1v-0.8M200.3 283.1v-0.8M201.0 283.1v-0.3M201.7 283.1v-0.0M202.4 283.1v-0.1M203.1 283.1v-0.4M203.8 283.1v-0.1" fill="none" stroke="#2c40b8" stroke-width="0.45"/>
<ellipse cx="201.80" cy="282.94" rx="2.00" ry="0.85" fill="#16237f" opacity="0.85"/>
<path d="M200.00 283.14 C201.20 283.14 201.10 273.99 201.32 257.00 L202.28 257.00 C202.50 273.99 202.40 283.14 203.60 283.14 Z" fill="url(#pk)" stroke="none"/>
<line x1="201.80" y1="258.00" x2="201.80" y2="283.14" stroke="#1a2a98" stroke-width="0.35"/>
<path d="M201.80 257.60 l-0.65 -0.9 l0.65 -0.7 l0.65 0.7 Z" fill="#0b0b30"/>
<text x="206.00" y="257.10" font-size="2.60" text-anchor="middle" font-weight="bold" fill="#10153f" >5-HEPE</text>
<text x="126.40" y="289.30" font-size="2.90" text-anchor="middle" font-weight="normal" fill="#111" stroke="#111" stroke-width="0.08">0</text>
<text x="135.30" y="289.30" font-size="2.90" text-anchor="middle" font-weight="normal" fill="#111" stroke="#111" stroke-width="0.08">2.0</text>
<text x="144.20" y="289.30" font-size="2.90" text-anchor="middle" font-weight="normal" fill="#111" stroke="#111" stroke-width="0.08">4.0</text>
<text x="153.10" y="289.30" font-size="2.90" text-anchor="middle" font-weight="normal" fill="#111" stroke="#111" stroke-width="0.08">6.0</text>
<text x="162.00" y="289.30" font-size="2.90" text-anchor="middle" font-weight="normal" fill="#111" stroke="#111" stroke-width="0.08">8.0</text>
<text x="170.90" y="289.30" font-size="2.90" text-anchor="middle" font-weight="normal" fill="#111" stroke="#111" stroke-width="0.08">10.0</text>
<text x="179.80" y="289.30" font-size="2.90" text-anchor="middle" font-weight="normal" fill="#111" stroke="#111" stroke-width="0.08">12.0</text>
<text x="188.70" y="289.30" font-size="2.90" text-anchor="middle" font-weight="normal" fill="#111" stroke="#111" stroke-width="0.08">14.0</text>
<text x="197.60" y="289.30" font-size="2.90" text-anchor="middle" font-weight="normal" fill="#111" stroke="#111" stroke-width="0.08">16.0</text>
<text x="206.50" y="289.30" font-size="2.90" text-anchor="middle" font-weight="normal" fill="#111" stroke="#111" stroke-width="0.08">18.0</text>
<text x="172.00" y="293.40" font-size="3.70" text-anchor="middle" font-weight="bold" fill="#222" >Time, min</text>
<text x="234.10" y="8.90" font-size="10.60" text-anchor="start" font-weight="bold" fill="#000" >B</text>
<path d="M250.50 14.70 L250.50 69.80 L332.50 69.80" fill="none" stroke="#111" stroke-width="0.6"/>
<line x1="249.20" y1="69.80" x2="250.50" y2="69.80" stroke="#111" stroke-width="0.45"/>
<text x="248.70" y="70.80" font-size="2.80" text-anchor="end" font-weight="bold" fill="#222"  stroke="#222" stroke-width="0.1">0</text>
<line x1="249.20" y1="58.88" x2="250.50" y2="58.88" stroke="#111" stroke-width="0.45"/>
<text x="248.70" y="59.88" font-size="2.80" text-anchor="end" font-weight="bold" fill="#222"  stroke="#222" stroke-width="0.1">20</text>
<line x1="249.20" y1="47.96" x2="250.50" y2="47.96" stroke="#111" stroke-width="0.45"/>
<text x="248.70" y="48.96" font-size="2.80" text-anchor="end" font-weight="bold" fill="#222"  stroke="#222" stroke-width="0.1">40</text>
<line x1="249.20" y1="37.04" x2="250.50" y2="37.04" stroke="#111" stroke-width="0.45"/>
<text x="248.70" y="38.04" font-size="2.80" text-anchor="end" font-weight="bold" fill="#222"  stroke="#222" stroke-width="0.1">60</text>
<line x1="249.20" y1="26.12" x2="250.50" y2="26.12" stroke="#111" stroke-width="0.45"/>
<text x="248.70" y="27.12" font-size="2.80" text-anchor="end" font-weight="bold" fill="#222"  stroke="#222" stroke-width="0.1">80</text>
<line x1="249.20" y1="15.20" x2="250.50" y2="15.20" stroke="#111" stroke-width="0.45"/>
<text x="248.70" y="16.20" font-size="2.80" text-anchor="end" font-weight="bold" fill="#222"  stroke="#222" stroke-width="0.1">100</text>
<line x1="249.80" y1="64.34" x2="250.50" y2="64.34" stroke="#111" stroke-width="0.3"/>
<line x1="249.80" y1="53.42" x2="250.50" y2="53.42" stroke="#111" stroke-width="0.3"/>
<line x1="249.80" y1="42.50" x2="250.50" y2="42.50" stroke="#111" stroke-width="0.3"/>
<line x1="249.80" y1="31.58" x2="250.50" y2="31.58" stroke="#111" stroke-width="0.3"/>
<line x1="249.80" y1="20.66" x2="250.50" y2="20.66" stroke="#111" stroke-width="0.3"/>
<path d="M250.60 69.80v1.3M253.45 69.80v0.8M256.30 69.80v0.8M259.15 69.80v0.8M262.00 69.80v1.3M264.85 69.80v0.8M267.70 69.80v0.8M270.55 69.80v0.8M273.40 69.80v1.3M276.25 69.80v0.8M279.10 69.80v0.8M281.95 69.80v0.8M284.80 69.80v1.3M287.65 69.80v0.8M290.50 69.80v0.8M293.35 69.80v0.8M296.20 69.80v1.3M299.05 69.80v0.8M301.90 69.80v0.8M304.75 69.80v0.8M307.60 69.80v1.3M310.45 69.80v0.8M313.30 69.80v0.8M316.15 69.80v0.8M319.00 69.80v1.3M321.85 69.80v0.8M324.70 69.80v0.8M327.55 69.80v0.8M330.40 69.80v1.3" fill="none" stroke="#111" stroke-width="0.4"/>
<text x="250.60" y="75.20" font-size="2.80" text-anchor="middle" font-weight="bold" fill="#222"  stroke="#222" stroke-width="0.1">100</text>
<text x="262.00" y="75.20" font-size="2.80" text-anchor="middle" font-weight="bold" fill="#222"  stroke="#222" stroke-width="0.1">140</text>
<text x="273.40" y="75.20" font-size="2.80" text-anchor="middle" font-weight="bold" fill="#222"  stroke="#222" stroke-width="0.1">180</text>
<text x="284.80" y="75.20" font-size="2.80" text-anchor="middle" font-weight="bold" fill="#222"  stroke="#222" stroke-width="0.1">220</text>
<text x="296.20" y="75.20" font-size="2.80" text-anchor="middle" font-weight="bold" fill="#222"  stroke="#222" stroke-width="0.1">260</text>
<text x="307.60" y="75.20" font-size="2.80" text-anchor="middle" font-weight="bold" fill="#222"  stroke="#222" stroke-width="0.1">300</text>
<text x="319.00" y="75.20" font-size="2.80" text-anchor="middle" font-weight="bold" fill="#222"  stroke="#222" stroke-width="0.1">340</text>
<text x="330.40" y="75.20" font-size="2.80" text-anchor="middle" font-weight="bold" fill="#222"  stroke="#222" stroke-width="0.1">380</text>
<text transform="translate(242.60 43.00) rotate(-90)" font-size="2.80" text-anchor="middle" font-weight="normal" fill="#222" textLength="31.50" lengthAdjust="spacingAndGlyphs">Relative Intensity (%)</text>
<text x="253.90" y="21.40" font-size="7.20" text-anchor="start" font-weight="normal" fill="#111" textLength="14.80" lengthAdjust="spacingAndGlyphs" >RvD2</text>
<path d="M252.5 69.8v-1.1M253.5 69.8v-0.4M255.5 69.8v-0.6M256.5 69.8v-0.0M258.5 69.8v-0.8M259.5 69.8v-0.3M261.5 69.8v-0.0M263.5 69.8v-0.0M264.5 69.8v-0.0M266.5 69.8v-0.0M268.5 69.8v-1.7M269.5 69.8v-0.1M270.5 69.8v-0.6M272.5 69.8v-0.4M274.5 69.8v-0.0M275.5 69.8v-0.1M277.5 69.8v-0.1M278.5 69.8v-0.0M279.5 69.8v-0.1M281.5 69.8v-1.5M283.5 69.8v-0.1M284.5 69.8v-0.5M285.5 69.8v-0.0M287.5 69.8v-0.0M289.5 69.8v-3.7M290.5 69.8v-0.4M292.5 69.8v-4.1M293.5 69.8v-0.1M294.5 69.8v-3.8M295.5 69.8v-0.9M296.5 69.8v-0.6M298.5 69.8v-0.0M300.5 69.8v-0.6M302.5 69.8v-1.6M303.5 69.8v-3.3M304.5 69.8v-0.0M305.5 69.8v-0.5M306.5 69.8v-0.1M307.5 69.8v-0.2M308.5 69.8v-2.7M309.5 69.8v-1.9M311.5 69.8v-0.0M313.5 69.8v-1.6M315.5 69.8v-0.1M316.5 69.8v-0.3M318.5 69.8v-0.9M319.5 69.8v-0.4M320.5 69.8v-0.0M321.5 69.8v-2.6M322.5 69.8v-3.7M323.5 69.8v-0.1M324.5 69.8v-0.0M325.5 69.8v-3.9M327.5 69.8v-2.4M329.5 69.8v-3.4" fill="none" stroke="#3f4cb6" stroke-width="0.6"/>
<line x1="328.50" y1="69.80" x2="328.50" y2="15.20" stroke="#5563d0" stroke-width="0.8"/>
<text x="328.50" y="14.40" font-size="2.20" text-anchor="middle" font-weight="bold" fill="#222" >375</text>
<line x1="323.50" y1="69.80" x2="323.50" y2="49.05" stroke="#3c4abf" stroke-width="0.8"/>
<text x="323.50" y="48.25" font-size="2.20" text-anchor="middle" font-weight="bold" fill="#222" >357</text>
<line x1="316.50" y1="69.80" x2="316.50" y2="61.06" stroke="#3c4abf" stroke-width="0.8"/>
<text x="316.50" y="60.26" font-size="2.20" text-anchor="middle" font-weight="bold" fill="#222" >331</text>
<line x1="311.50" y1="69.80" x2="311.50" y2="59.97" stroke="#3c4abf" stroke-width="0.8"/>
<text x="311.50" y="59.17" font-size="2.20" text-anchor="middle" font-weight="bold" fill="#222" >313</text>
<line x1="306.50" y1="69.80" x2="306.50" y2="64.89" stroke="#3c4abf" stroke-width="0.8"/>
<line x1="301.50" y1="69.80" x2="301.50" y2="62.16" stroke="#3c4abf" stroke-width="0.8"/>
<text x="301.50" y="61.36" font-size="2.20" text-anchor="middle" font-weight="bold" fill="#222" >277</text>
<line x1="295.50" y1="69.80" x2="295.50" y2="65.43" stroke="#3c4abf" stroke-width="0.8"/>
<line x1="292.50" y1="69.80" x2="292.50" y2="65.98" stroke="#3c4abf" stroke-width="0.8"/>
<line x1="288.50" y1="69.80" x2="288.50" y2="64.34" stroke="#3c4abf" stroke-width="0.8"/>
<text x="288.50" y="63.54" font-size="2.20" text-anchor="middle" font-weight="bold" fill="#222" >233</text>
<line x1="283.50" y1="69.80" x2="283.50" y2="66.52" stroke="#3c4abf" stroke-width="0.8"/>
<line x1="279.50" y1="69.80" x2="279.50" y2="65.98" stroke="#3c4abf" stroke-width="0.8"/>
<text x="279.50" y="65.18" font-size="2.20" text-anchor="middle" font-weight="bold" fill="#222" >203</text>
<line x1="275.50" y1="69.80" x2="275.50" y2="66.52" stroke="#3c4abf" stroke-width="0.8"/>
<line x1="271.50" y1="69.80" x2="271.50" y2="65.43" stroke="#3c4abf" stroke-width="0.8"/>
<text x="271.50" y="64.63" font-size="2.20" text-anchor="middle" font-weight="bold" fill="#222" >175</text>
<line x1="262.50" y1="69.80" x2="262.50" y2="67.62" stroke="#3c4abf" stroke-width="0.8"/>
<line x1="318.50" y1="69.80" x2="318.50" y2="65.98" stroke="#3c4abf" stroke-width="0.8"/>
<text x="318.50" y="65.18" font-size="2.20" text-anchor="middle" font-weight="bold" fill="#222" >339</text>
<text x="300.80" y="19.00" font-size="2.20" text-anchor="start" font-weight="normal" fill="#222"  stroke="#222" stroke-width="0.1">375 = M - H</text>
<text x="300.80" y="22.07" font-size="2.20" text-anchor="start" font-weight="normal" fill="#222"  stroke="#222" stroke-width="0.1">357 = M - H - H<tspan font-size="1.6" dy="0.4">2</tspan><tspan dy="-0.4">O</tspan></text>
<text x="300.80" y="25.14" font-size="2.20" text-anchor="start" font-weight="normal" fill="#222"  stroke="#222" stroke-width="0.1">339 = M - H - 2H<tspan font-size="1.6" dy="0.4">2</tspan><tspan dy="-0.4">O</tspan></text>
<text x="300.80" y="28.21" font-size="2.20" text-anchor="start" font-weight="normal" fill="#222"  stroke="#222" stroke-width="0.1">331 = M - H - CO<tspan font-size="1.6" dy="0.4">2</tspan><tspan dy="-0.4"></tspan></text>
<text x="300.80" y="31.28" font-size="2.20" text-anchor="start" font-weight="normal" fill="#222"  stroke="#222" stroke-width="0.1">313 = M - H - H<tspan font-size="1.6" dy="0.4">2</tspan><tspan dy="-0.4">O</tspan> - CO<tspan font-size="1.6" dy="0.4">2</tspan><tspan dy="-0.4"></tspan></text>
<text x="300.80" y="34.35" font-size="2.20" text-anchor="start" font-weight="normal" fill="#222"  stroke="#222" stroke-width="0.1">295 = M - H - 2H<tspan font-size="1.6" dy="0.4">2</tspan><tspan dy="-0.4">O</tspan> - CO<tspan font-size="1.6" dy="0.4">2</tspan><tspan dy="-0.4"></tspan></text>
<text x="300.80" y="37.42" font-size="2.20" text-anchor="start" font-weight="normal" fill="#222"  stroke="#222" stroke-width="0.1">259 = 277 - H<tspan font-size="1.6" dy="0.4">2</tspan><tspan dy="-0.4">O</tspan></text>
<g fill="none" stroke="#444" stroke-width="0.45" stroke-linejoin="round"><path d="M262.1 36.2 L260.7 33.6 L262.5 30.7 L265.6 29.3 L268.2 30.7 L270.4 29.3 L272.5 30.7 L272.2 33.6 L274.2 35.4 L276.8 34.2 L278.6 31.4 L277.7 29.3 L280.3 28.4 L283.7 27.9 L287.2 26.7 M270.8 32.8 L273.4 31.4 L276.0 32.8 L276.0 35.9 L273.4 37.3 L270.8 35.9 Z M268.2 30.7 L267.3 27.9 M272.5 30.7 L273.4 27.9 M261.2 38.0 L263.8 39.7 L266.4 38.3 L269.0 40.6 M266.4 44.0 L269.9 42.8 L273.4 44.9 L270.8 46.3 M267.3 45.7 L271.6 47.0 L275.1 44.2 M278.6 46.6 L282.9 42.3 L287.2 38.8 M279.8 47.8 L284.1 43.5 L288.4 39.7 M282.0 47.5 L285.5 50.9 L287.2 53.5 L285.1 56.7 L287.2 59.6 L289.5 62.2"/></g>
<path d="M250.50 78.40 L250.50 133.50 L332.50 133.50" fill="none" stroke="#111" stroke-width="0.6"/>
<line x1="249.20" y1="133.50" x2="250.50" y2="133.50" stroke="#111" stroke-width="0.45"/>
<text x="248.70" y="134.50" font-size="2.80" text-anchor="end" font-weight="bold" fill="#222"  stroke="#222" stroke-width="0.1">0</text>
<line x1="249.20" y1="122.58" x2="250.50" y2="122.58" stroke="#111" stroke-width="0.45"/>
<text x="248.70" y="123.58" font-size="2.80" text-anchor="end" font-weight="bold" fill="#222"  stroke="#222" stroke-width="0.1">20</text>
<line x1="249.20" y1="111.66" x2="250.50" y2="111.66" stroke="#111" stroke-width="0.45"/>
<text x="248.70" y="112.66" font-size="2.80" text-anchor="end" font-weight="bold" fill="#222"  stroke="#222" stroke-width="0.1">40</text>
<line x1="249.20" y1="100.74" x2="250.50" y2="100.74" stroke="#111" stroke-width="0.45"/>
<text x="248.70" y="101.74" font-size="2.80" text-anchor="end" font-weight="bold" fill="#222"  stroke="#222" stroke-width="0.1">60</text>
<line x1="249.20" y1="89.82" x2="250.50" y2="89.82" stroke="#111" stroke-width="0.45"/>
<text x="248.70" y="90.82" font-size="2.80" text-anchor="end" font-weight="bold" fill="#222"  stroke="#222" stroke-width="0.1">80</text>
<line x1="249.20" y1="78.90" x2="250.50" y2="78.90" stroke="#111" stroke-width="0.45"/>
<text x="248.70" y="79.90" font-size="2.80" text-anchor="end" font-weight="bold" fill="#222"  stroke="#222" stroke-width="0.1">100</text>
<line x1="249.80" y1="128.04" x2="250.50" y2="128.04" stroke="#111" stroke-width="0.3"/>
<line x1="249.80" y1="117.12" x2="250.50" y2="117.12" stroke="#111" stroke-width="0.3"/>
<line x1="249.80" y1="106.20" x2="250.50" y2="106.20" stroke="#111" stroke-width="0.3"/>
<line x1="249.80" y1="95.28" x2="250.50" y2="95.28" stroke="#111" stroke-width="0.3"/>
<line x1="249.80" y1="84.36" x2="250.50" y2="84.36" stroke="#111" stroke-width="0.3"/>
<path d="M250.60 133.50v1.3M253.45 133.50v0.8M256.30 133.50v0.8M259.15 133.50v0.8M262.00 133.50v1.3M264.85 133.50v0.8M267.70 133.50v0.8M270.55 133.50v0.8M273.40 133.50v1.3M276.25 133.50v0.8M279.10 133.50v0.8M281.95 133.50v0.8M284.80 133.50v1.3M287.65 133.50v0.8M290.50 133.50v0.8M293.35 133.50v0.8M296.20 133.50v1.3M299.05 133.50v0.8M301.90 133.50v0.8M304.75 133.50v0.8M307.60 133.50v1.3M310.45 133.50v0.8M313.30 133.50v0.8M316.15 133.50v0.8M319.00 133.50v1.3M321.85 133.50v0.8M324.70 133.50v0.8M327.55 133.50v0.8M330.40 133.50v1.3" fill="none" stroke="#111" stroke-width="0.4"/>
<text x="250.60" y="138.90" font-size="2.80" text-anchor="middle" font-weight="bold" fill="#222"  stroke="#222" stroke-width="0.1">100</text>
<text x="262.00" y="138.90" font-size="2.80" text-anchor="middle" font-weight="bold" fill="#222"  stroke="#222" stroke-width="0.1">140</text>
<text x="273.40" y="138.90" font-size="2.80" text-anchor="middle" font-weight="bold" fill="#222"  stroke="#222" stroke-width="0.1">180</text>
<text x="284.80" y="138.90" font-size="2.80" text-anchor="middle" font-weight="bold" fill="#222"  stroke="#222" stroke-width="0.1">220</text>
<text x="296.20" y="138.90" font-size="2.80" text-anchor="middle" font-weight="bold" fill="#222"  stroke="#222" stroke-width="0.1">260</text>
<text x="307.60" y="138.90" font-size="2.80" text-anchor="middle" font-weight="bold" fill="#222"  stroke="#222" stroke-width="0.1">300</text>
<text x="319.00" y="138.90" font-size="2.80" text-anchor="middle" font-weight="bold" fill="#222"  stroke="#222" stroke-width="0.1">340</text>
<text x="330.40" y="138.90" font-size="2.80" text-anchor="middle" font-weight="bold" fill="#222"  stroke="#222" stroke-width="0.1">380</text>
<text transform="translate(242.60 106.70) rotate(-90)" font-size="2.80" text-anchor="middle" font-weight="normal" fill="#222" textLength="31.50" lengthAdjust="spacingAndGlyphs">Relative Intensity (%)</text>
<text x="256.10" y="84.70" font-size="7.20" text-anchor="start" font-weight="normal" fill="#111" textLength="11.60" lengthAdjust="spacingAndGlyphs" >PD1</text>
<path d="M252.5 133.5v-0.3M254.5 133.5v-0.0M256.5 133.5v-0.2M258.5 133.5v-0.5M259.5 133.5v-0.0M261.5 133.5v-0.0M262.5 133.5v-0.1M263.5 133.5v-0.7M265.5 133.5v-0.0M267.5 133.5v-0.0M268.5 133.5v-0.1M269.5 133.5v-0.0M270.5 133.5v-1.3M271.5 133.5v-0.0M273.5 133.5v-1.8M274.5 133.5v-0.0M275.5 133.5v-0.0M276.5 133.5v-0.0M277.5 133.5v-0.1M278.5 133.5v-3.1M280.5 133.5v-0.3M281.5 133.5v-0.6M282.5 133.5v-0.2M283.5 133.5v-0.1M285.5 133.5v-0.0M286.5 133.5v-1.1M288.5 133.5v-0.0M289.5 133.5v-0.1M290.5 133.5v-0.4M292.5 133.5v-2.8M294.5 133.5v-0.0M295.5 133.5v-1.6M297.5 133.5v-0.5M298.5 133.5v-0.0M299.5 133.5v-3.6M301.5 133.5v-2.8M303.5 133.5v-0.1M304.5 133.5v-0.0M305.5 133.5v-1.4M307.5 133.5v-1.7M309.5 133.5v-2.0M310.5 133.5v-0.8M311.5 133.5v-2.2M312.5 133.5v-3.5M314.5 133.5v-0.1M315.5 133.5v-0.1M317.5 133.5v-1.5M318.5 133.5v-0.0M319.5 133.5v-0.9M320.5 133.5v-0.1M321.5 133.5v-0.0M322.5 133.5v-0.4M324.5 133.5v-1.2M326.5 133.5v-0.5M327.5 133.5v-0.1M329.5 133.5v-1.6" fill="none" stroke="#3f4cb6" stroke-width="0.6"/>
<line x1="324.50" y1="133.50" x2="324.50" y2="78.90" stroke="#5563d0" stroke-width="0.8"/>
<text x="324.50" y="78.10" font-size="2.20" text-anchor="middle" font-weight="bold" fill="#222" >359</text>
<line x1="319.50" y1="133.50" x2="319.50" y2="122.03" stroke="#3c4abf" stroke-width="0.8"/>
<text x="319.50" y="121.23" font-size="2.20" text-anchor="middle" font-weight="bold" fill="#222" >341</text>
<line x1="314.50" y1="133.50" x2="314.50" y2="124.76" stroke="#3c4abf" stroke-width="0.8"/>
<text x="314.50" y="123.96" font-size="2.20" text-anchor="middle" font-weight="bold" fill="#222" >323</text>
<line x1="306.50" y1="133.50" x2="306.50" y2="119.30" stroke="#3c4abf" stroke-width="0.8"/>
<text x="306.50" y="118.50" font-size="2.20" text-anchor="middle" font-weight="bold" fill="#222" >297</text>
<line x1="296.50" y1="133.50" x2="296.50" y2="122.03" stroke="#3c4abf" stroke-width="0.8"/>
<line x1="291.50" y1="133.50" x2="291.50" y2="126.40" stroke="#3c4abf" stroke-width="0.8"/>
<line x1="283.50" y1="133.50" x2="283.50" y2="127.49" stroke="#3c4abf" stroke-width="0.8"/>
<text x="283.50" y="126.69" font-size="2.20" text-anchor="middle" font-weight="bold" fill="#222" >217</text>
<line x1="273.50" y1="133.50" x2="273.50" y2="128.04" stroke="#3c4abf" stroke-width="0.8"/>
<text x="273.50" y="127.24" font-size="2.20" text-anchor="middle" font-weight="bold" fill="#222" >181</text>
<line x1="265.50" y1="133.50" x2="265.50" y2="128.04" stroke="#3c4abf" stroke-width="0.8"/>
<text x="265.50" y="127.24" font-size="2.20" text-anchor="middle" font-weight="bold" fill="#222" >153</text>
<line x1="261.50" y1="133.50" x2="261.50" y2="129.68" stroke="#3c4abf" stroke-width="0.8"/>
<line x1="253.50" y1="133.50" x2="253.50" y2="130.77" stroke="#3c4abf" stroke-width="0.8"/>
<line x1="280.50" y1="133.50" x2="280.50" y2="129.13" stroke="#3c4abf" stroke-width="0.8"/>
<text x="280.50" y="128.33" font-size="2.20" text-anchor="middle" font-weight="bold" fill="#222" >206</text>
<line x1="301.50" y1="133.50" x2="301.50" y2="130.77" stroke="#3c4abf" stroke-width="0.8"/>
<line x1="311.50" y1="133.50" x2="311.50" y2="130.22" stroke="#3c4abf" stroke-width="0.8"/>
<text x="298.80" y="81.50" font-size="2.20" text-anchor="start" font-weight="normal" fill="#222"  stroke="#222" stroke-width="0.1">359 = M - H</text>
<text x="298.80" y="84.57" font-size="2.20" text-anchor="start" font-weight="normal" fill="#222"  stroke="#222" stroke-width="0.1">341 = M - H - H<tspan font-size="1.6" dy="0.4">2</tspan><tspan dy="-0.4">O</tspan></text>
<text x="298.80" y="87.64" font-size="2.20" text-anchor="start" font-weight="normal" fill="#222"  stroke="#222" stroke-width="0.1">323 = M - H - 2H<tspan font-size="1.6" dy="0.4">2</tspan><tspan dy="-0.4">O</tspan></text>
<text x="298.80" y="90.71" font-size="2.20" text-anchor="start" font-weight="normal" fill="#222"  stroke="#222" stroke-width="0.1">315 = M - H - CO<tspan font-size="1.6" dy="0.4">2</tspan><tspan dy="-0.4"></tspan></text>
<text x="298.80" y="93.78" font-size="2.20" text-anchor="start" font-weight="normal" fill="#222"  stroke="#222" stroke-width="0.1">297 = M - H - H<tspan font-size="1.6" dy="0.4">2</tspan><tspan dy="-0.4">O</tspan> - CO<tspan font-size="1.6" dy="0.4">2</tspan><tspan dy="-0.4"></tspan></text>
<text x="298.80" y="96.85" font-size="2.20" text-anchor="start" font-weight="normal" fill="#222"  stroke="#222" stroke-width="0.1">279 = M - H - 2H<tspan font-size="1.6" dy="0.4">2</tspan><tspan dy="-0.4">O</tspan> - CO<tspan font-size="1.6" dy="0.4">2</tspan><tspan dy="-0.4"></tspan></text>
<text x="298.80" y="99.92" font-size="2.20" text-anchor="start" font-weight="normal" fill="#222"  stroke="#222" stroke-width="0.1">261 = 279 - H<tspan font-size="1.6" dy="0.4">2</tspan><tspan dy="-0.4">O</tspan></text>
<text x="298.80" y="102.99" font-size="2.20" text-anchor="start" font-weight="normal" fill="#222"  stroke="#222" stroke-width="0.1">243 = 261 - H<tspan font-size="1.6" dy="0.4">2</tspan><tspan dy="-0.4">O</tspan></text>
<g fill="none" stroke="#444" stroke-width="0.45" stroke-linejoin="round"><path d="M256.9 89.0 L258.7 91.6 L257.3 94.2 L259.5 96.8 L261.2 100.2 M257.8 101.6 L266.4 101.6 M260.7 99.4 L260.7 103.7 M263.0 102.8 L267.3 104.6 L270.8 108.0 L273.4 106.3 L276.0 108.9 L274.2 111.5 L278.6 112.3 M276.0 105.4 L278.6 102.0 L277.7 97.6 L281.2 95.0 L285.5 93.3 L289.8 92.4 L293.3 94.2 L295.9 97.6 L296.4 100.2 M277.7 105.4 L282.0 106.3 L283.7 103.7 L286.3 105.4 L284.6 108.9 L281.2 109.7 Z M282.0 106.3 L281.2 103.7 M286.3 105.4 L288.4 103.7"/></g>
<path d="M250.50 142.10 L250.50 197.80 L332.50 197.80" fill="none" stroke="#111" stroke-width="0.6"/>
<line x1="249.20" y1="197.80" x2="250.50" y2="197.80" stroke="#111" stroke-width="0.45"/>
<text x="248.70" y="198.80" font-size="2.80" text-anchor="end" font-weight="bold" fill="#222"  stroke="#222" stroke-width="0.1">0</text>
<line x1="249.20" y1="186.76" x2="250.50" y2="186.76" stroke="#111" stroke-width="0.45"/>
<text x="248.70" y="187.76" font-size="2.80" text-anchor="end" font-weight="bold" fill="#222"  stroke="#222" stroke-width="0.1">20</text>
<line x1="249.20" y1="175.72" x2="250.50" y2="175.72" stroke="#111" stroke-width="0.45"/>
<text x="248.70" y="176.72" font-size="2.80" text-anchor="end" font-weight="bold" fill="#222"  stroke="#222" stroke-width="0.1">40</text>
<line x1="249.20" y1="164.68" x2="250.50" y2="164.68" stroke="#111" stroke-width="0.45"/>
<text x="248.70" y="165.68" font-size="2.80" text-anchor="end" font-weight="bold" fill="#222"  stroke="#222" stroke-width="0.1">60</text>
<line x1="249.20" y1="153.64" x2="250.50" y2="153.64" stroke="#111" stroke-width="0.45"/>
<text x="248.70" y="154.64" font-size="2.80" text-anchor="end" font-weight="bold" fill="#222"  stroke="#222" stroke-width="0.1">80</text>
<line x1="249.20" y1="142.60" x2="250.50" y2="142.60" stroke="#111" stroke-width="0.45"/>
<text x="248.70" y="143.60" font-size="2.80" text-anchor="end" font-weight="bold" fill="#222"  stroke="#222" stroke-width="0.1">100</text>
<line x1="249.80" y1="192.28" x2="250.50" y2="192.28" stroke="#111" stroke-width="0.3"/>
<line x1="249.80" y1="181.24" x2="250.50" y2="181.24" stroke="#111" stroke-width="0.3"/>
<line x1="249.80" y1="170.20" x2="250.50" y2="170.20" stroke="#111" stroke-width="0.3"/>
<line x1="249.80" y1="159.16" x2="250.50" y2="159.16" stroke="#111" stroke-width="0.3"/>
<line x1="249.80" y1="148.12" x2="250.50" y2="148.12" stroke="#111" stroke-width="0.3"/>
<path d="M250.60 197.80v1.3M253.45 197.80v0.8M256.30 197.80v0.8M259.15 197.80v0.8M262.00 197.80v1.3M264.85 197.80v0.8M267.70 197.80v0.8M270.55 197.80v0.8M273.40 197.80v1.3M276.25 197.80v0.8M279.10 197.80v0.8M281.95 197.80v0.8M284.80 197.80v1.3M287.65 197.80v0.8M290.50 197.80v0.8M293.35 197.80v0.8M296.20 197.80v1.3M299.05 197.80v0.8M301.90 197.80v0.8M304.75 197.80v0.8M307.60 197.80v1.3M310.45 197.80v0.8M313.30 197.80v0.8M316.15 197.80v0.8M319.00 197.80v1.3M321.85 197.80v0.8M324.70 197.80v0.8M327.55 197.80v0.8M330.40 197.80v1.3" fill="none" stroke="#111" stroke-width="0.4"/>
<text x="250.60" y="203.20" font-size="2.80" text-anchor="middle" font-weight="bold" fill="#222"  stroke="#222" stroke-width="0.1">100</text>
<text x="262.00" y="203.20" font-size="2.80" text-anchor="middle" font-weight="bold" fill="#222"  stroke="#222" stroke-width="0.1">140</text>
<text x="273.40" y="203.20" font-size="2.80" text-anchor="middle" font-weight="bold" fill="#222"  stroke="#222" stroke-width="0.1">180</text>
<text x="284.80" y="203.20" font-size="2.80" text-anchor="middle" font-weight="bold" fill="#222"  stroke="#222" stroke-width="0.1">220</text>
<text x="296.20" y="203.20" font-size="2.80" text-anchor="middle" font-weight="bold" fill="#222"  stroke="#222" stroke-width="0.1">260</text>
<text x="307.60" y="203.20" font-size="2.80" text-anchor="middle" font-weight="bold" fill="#222"  stroke="#222" stroke-width="0.1">300</text>
<text x="319.00" y="203.20" font-size="2.80" text-anchor="middle" font-weight="bold" fill="#222"  stroke="#222" stroke-width="0.1">340</text>
<text x="330.40" y="203.20" font-size="2.80" text-anchor="middle" font-weight="bold" fill="#222"  stroke="#222" stroke-width="0.1">380</text>
<text transform="translate(242.60 170.70) rotate(-90)" font-size="2.80" text-anchor="middle" font-weight="normal" fill="#222" textLength="31.50" lengthAdjust="spacingAndGlyphs">Relative Intensity (%)</text>
<text x="253.90" y="149.70" font-size="7.20" text-anchor="start" font-weight="normal" fill="#111" textLength="14.80" lengthAdjust="spacingAndGlyphs" >RvE2</text>
<path d="M252.5 197.8v-0.0M253.5 197.8v-0.6M254.5 197.8v-0.0M256.5 197.8v-1.4M257.5 197.8v-0.0M258.5 197.8v-0.1M260.5 197.8v-0.0M262.5 197.8v-0.7M263.5 197.8v-0.0M265.5 197.8v-0.1M267.5 197.8v-0.0M268.5 197.8v-0.8M269.5 197.8v-1.6M270.5 197.8v-0.0M271.5 197.8v-0.1M273.5 197.8v-1.5M274.5 197.8v-0.1M275.5 197.8v-4.2M276.5 197.8v-0.0M277.5 197.8v-0.3M279.5 197.8v-3.1M281.5 197.8v-4.5M283.5 197.8v-0.2M284.5 197.8v-3.7M286.5 197.8v-0.0M288.5 197.8v-0.2M289.5 197.8v-0.2M290.5 197.8v-0.0M291.5 197.8v-0.2M293.5 197.8v-0.0M295.5 197.8v-0.0M296.5 197.8v-2.5M298.5 197.8v-0.4M299.5 197.8v-0.5M300.5 197.8v-3.5M301.5 197.8v-0.2M303.5 197.8v-0.0M304.5 197.8v-2.4M306.5 197.8v-0.0M307.5 197.8v-0.0M309.5 197.8v-0.1M311.5 197.8v-3.3M312.5 197.8v-0.1M314.5 197.8v-1.1M315.5 197.8v-1.7M316.5 197.8v-0.1M317.5 197.8v-1.9M319.5 197.8v-1.1M321.5 197.8v-0.0M322.5 197.8v-0.5M324.5 197.8v-3.9M325.5 197.8v-0.1M326.5 197.8v-0.5M328.5 197.8v-0.0" fill="none" stroke="#3f4cb6" stroke-width="0.6"/>
<line x1="299.50" y1="197.80" x2="299.50" y2="145.36" stroke="#5563d0" stroke-width="0.8"/>
<text x="299.50" y="144.56" font-size="2.20" text-anchor="middle" font-weight="bold" fill="#222" >273</text>
<line x1="317.50" y1="197.80" x2="317.50" y2="177.38" stroke="#3c4abf" stroke-width="0.8"/>
<text x="317.50" y="176.58" font-size="2.20" text-anchor="middle" font-weight="bold" fill="#222" >333</text>
<line x1="278.50" y1="197.80" x2="278.50" y2="184.55" stroke="#3c4abf" stroke-width="0.8"/>
<text x="278.50" y="183.75" font-size="2.20" text-anchor="middle" font-weight="bold" fill="#222" >199</text>
<line x1="267.50" y1="197.80" x2="267.50" y2="190.62" stroke="#3c4abf" stroke-width="0.8"/>
<text x="267.50" y="189.82" font-size="2.20" text-anchor="middle" font-weight="bold" fill="#222" >159</text>
<line x1="294.50" y1="197.80" x2="294.50" y2="188.97" stroke="#3c4abf" stroke-width="0.8"/>
<text x="294.50" y="188.17" font-size="2.20" text-anchor="middle" font-weight="bold" fill="#222" >255</text>
<line x1="283.50" y1="197.80" x2="283.50" y2="192.83" stroke="#3c4abf" stroke-width="0.8"/>
<text x="283.50" y="192.03" font-size="2.20" text-anchor="middle" font-weight="bold" fill="#222" >217</text>
<line x1="279.50" y1="197.80" x2="279.50" y2="192.83" stroke="#3c4abf" stroke-width="0.8"/>
<line x1="254.50" y1="197.80" x2="254.50" y2="194.49" stroke="#3c4abf" stroke-width="0.8"/>
<text x="254.50" y="193.69" font-size="2.20" text-anchor="middle" font-weight="bold" fill="#222" >115</text>
<line x1="311.50" y1="197.80" x2="311.50" y2="195.04" stroke="#3c4abf" stroke-width="0.8"/>
<text x="311.50" y="194.24" font-size="2.20" text-anchor="middle" font-weight="bold" fill="#222" >315</text>
<line x1="306.50" y1="197.80" x2="306.50" y2="195.59" stroke="#3c4abf" stroke-width="0.8"/>
<text x="306.50" y="194.79" font-size="2.20" text-anchor="middle" font-weight="bold" fill="#222" >297</text>
<line x1="289.50" y1="197.80" x2="289.50" y2="194.49" stroke="#3c4abf" stroke-width="0.8"/>
<line x1="271.50" y1="197.80" x2="271.50" y2="195.04" stroke="#3c4abf" stroke-width="0.8"/>
<line x1="296.50" y1="197.80" x2="296.50" y2="193.94" stroke="#3c4abf" stroke-width="0.8"/>
<text x="301.50" y="146.00" font-size="2.20" text-anchor="start" font-weight="normal" fill="#222"  stroke="#222" stroke-width="0.1">333 = M - H</text>
<text x="301.50" y="149.07" font-size="2.20" text-anchor="start" font-weight="normal" fill="#222"  stroke="#222" stroke-width="0.1">315 = M - H - H<tspan font-size="1.6" dy="0.4">2</tspan><tspan dy="-0.4">O</tspan></text>
<text x="301.50" y="152.14" font-size="2.20" text-anchor="start" font-weight="normal" fill="#222"  stroke="#222" stroke-width="0.1">271 = M - H - H<tspan font-size="1.6" dy="0.4">2</tspan><tspan dy="-0.4">O</tspan> - CO<tspan font-size="1.6" dy="0.4">2</tspan><tspan dy="-0.4"></tspan></text>
<text x="301.50" y="155.21" font-size="2.20" text-anchor="start" font-weight="normal" fill="#222"  stroke="#222" stroke-width="0.1">255 = 273 - H<tspan font-size="1.6" dy="0.4">2</tspan><tspan dy="-0.4">O</tspan></text>
<text x="301.50" y="158.28" font-size="2.20" text-anchor="start" font-weight="normal" fill="#222"  stroke="#222" stroke-width="0.1">253 = M - H - 2H<tspan font-size="1.6" dy="0.4">2</tspan><tspan dy="-0.4">O</tspan> - CO<tspan font-size="1.6" dy="0.4">2</tspan><tspan dy="-0.4"></tspan></text>
<text x="301.50" y="161.35" font-size="2.20" text-anchor="start" font-weight="normal" fill="#222"  stroke="#222" stroke-width="0.1">199 = 217 - H<tspan font-size="1.6" dy="0.4">2</tspan><tspan dy="-0.4">O</tspan></text>
<g fill="none" stroke="#444" stroke-width="0.45" stroke-linejoin="round"><path d="M272.5 155.6 L276.0 153.8 L279.4 155.6 L280.3 159.0 L277.7 161.6 L274.2 161.6 L272.2 158.7 Z M276.0 153.8 L276.0 151.4 M279.4 155.6 L281.7 154.2 M272.5 155.6 L270.4 154.2 M275.1 157.3 L277.3 158.7 M278.6 162.5 L282.9 164.2 L285.5 166.8 L288.9 167.7 M272.5 161.6 L269.0 164.2 L266.4 166.0 L264.7 169.4 L263.8 173.7 M258.7 175.5 L263.8 178.9 M258.7 178.9 L263.0 175.5 M263.8 177.2 L267.3 176.3 L269.9 178.9 L269.0 182.4 L265.6 183.3 L263.8 181.5 M260.4 179.8 L259.5 183.3 L262.1 185.9"/></g>
<path d="M250.50 205.30 L250.50 257.20 L332.50 257.20" fill="none" stroke="#111" stroke-width="0.6"/>
<line x1="249.20" y1="257.20" x2="250.50" y2="257.20" stroke="#111" stroke-width="0.45"/>
<text x="248.70" y="258.20" font-size="2.80" text-anchor="end" font-weight="bold" fill="#222"  stroke="#222" stroke-width="0.1">0</text>
<line x1="249.20" y1="246.92" x2="250.50" y2="246.92" stroke="#111" stroke-width="0.45"/>
<text x="248.70" y="247.92" font-size="2.80" text-anchor="end" font-weight="bold" fill="#222"  stroke="#222" stroke-width="0.1">20</text>
<line x1="249.20" y1="236.64" x2="250.50" y2="236.64" stroke="#111" stroke-width="0.45"/>
<text x="248.70" y="237.64" font-size="2.80" text-anchor="end" font-weight="bold" fill="#222"  stroke="#222" stroke-width="0.1">40</text>
<line x1="249.20" y1="226.36" x2="250.50" y2="226.36" stroke="#111" stroke-width="0.45"/>
<text x="248.70" y="227.36" font-size="2.80" text-anchor="end" font-weight="bold" fill="#222"  stroke="#222" stroke-width="0.1">60</text>
<line x1="249.20" y1="216.08" x2="250.50" y2="216.08" stroke="#111" stroke-width="0.45"/>
<text x="248.70" y="217.08" font-size="2.80" text-anchor="end" font-weight="bold" fill="#222"  stroke="#222" stroke-width="0.1">80</text>
<line x1="249.20" y1="205.80" x2="250.50" y2="205.80" stroke="#111" stroke-width="0.45"/>
<text x="248.70" y="206.80" font-size="2.80" text-anchor="end" font-weight="bold" fill="#222"  stroke="#222" stroke-width="0.1">100</text>
<line x1="249.80" y1="252.06" x2="250.50" y2="252.06" stroke="#111" stroke-width="0.3"/>
<line x1="249.80" y1="241.78" x2="250.50" y2="241.78" stroke="#111" stroke-width="0.3"/>
<line x1="249.80" y1="231.50" x2="250.50" y2="231.50" stroke="#111" stroke-width="0.3"/>
<line x1="249.80" y1="221.22" x2="250.50" y2="221.22" stroke="#111" stroke-width="0.3"/>
<line x1="249.80" y1="210.94" x2="250.50" y2="210.94" stroke="#111" stroke-width="0.3"/>
<path d="M250.60 257.20v1.3M253.45 257.20v0.8M256.30 257.20v0.8M259.15 257.20v0.8M262.00 257.20v1.3M264.85 257.20v0.8M267.70 257.20v0.8M270.55 257.20v0.8M273.40 257.20v1.3M276.25 257.20v0.8M279.10 257.20v0.8M281.95 257.20v0.8M284.80 257.20v1.3M287.65 257.20v0.8M290.50 257.20v0.8M293.35 257.20v0.8M296.20 257.20v1.3M299.05 257.20v0.8M301.90 257.20v0.8M304.75 257.20v0.8M307.60 257.20v1.3M310.45 257.20v0.8M313.30 257.20v0.8M316.15 257.20v0.8M319.00 257.20v1.3M321.85 257.20v0.8M324.70 257.20v0.8M327.55 257.20v0.8M330.40 257.20v1.3" fill="none" stroke="#111" stroke-width="0.4"/>
<text x="250.60" y="262.60" font-size="2.80" text-anchor="middle" font-weight="bold" fill="#222"  stroke="#222" stroke-width="0.1">100</text>
<text x="262.00" y="262.60" font-size="2.80" text-anchor="middle" font-weight="bold" fill="#222"  stroke="#222" stroke-width="0.1">140</text>
<text x="273.40" y="262.60" font-size="2.80" text-anchor="middle" font-weight="bold" fill="#222"  stroke="#222" stroke-width="0.1">180</text>
<text x="284.80" y="262.60" font-size="2.80" text-anchor="middle" font-weight="bold" fill="#222"  stroke="#222" stroke-width="0.1">220</text>
<text x="296.20" y="262.60" font-size="2.80" text-anchor="middle" font-weight="bold" fill="#222"  stroke="#222" stroke-width="0.1">260</text>
<text x="307.60" y="262.60" font-size="2.80" text-anchor="middle" font-weight="bold" fill="#222"  stroke="#222" stroke-width="0.1">300</text>
<text x="319.00" y="262.60" font-size="2.80" text-anchor="middle" font-weight="bold" fill="#222"  stroke="#222" stroke-width="0.1">340</text>
<text x="330.40" y="262.60" font-size="2.80" text-anchor="middle" font-weight="bold" fill="#222"  stroke="#222" stroke-width="0.1">380</text>
<text transform="translate(242.60 232.00) rotate(-90)" font-size="2.80" text-anchor="middle" font-weight="normal" fill="#222" textLength="31.50" lengthAdjust="spacingAndGlyphs">Relative Intensity (%)</text>
<text x="253.90" y="213.10" font-size="7.20" text-anchor="start" font-weight="normal" fill="#111" textLength="14.00" lengthAdjust="spacingAndGlyphs" >LXA<tspan font-size="4.6" dy="1.4">4</tspan></text>
<path d="M252.5 257.2v-0.7M254.5 257.2v-0.8M255.5 257.2v-0.1M256.5 257.2v-0.1M258.5 257.2v-0.0M259.5 257.2v-0.8M260.5 257.2v-0.0M261.5 257.2v-0.3M262.5 257.2v-1.7M264.5 257.2v-1.7M265.5 257.2v-0.0M266.5 257.2v-0.2M268.5 257.2v-0.2M269.5 257.2v-0.1M270.5 257.2v-0.6M272.5 257.2v-1.1M274.5 257.2v-0.0M276.5 257.2v-0.1M277.5 257.2v-0.2M279.5 257.2v-0.0M280.5 257.2v-0.1M281.5 257.2v-3.1M282.5 257.2v-0.2M283.5 257.2v-4.4M284.5 257.2v-0.1M286.5 257.2v-1.3M288.5 257.2v-0.0M289.5 257.2v-2.5M291.5 257.2v-3.4M292.5 257.2v-0.1M293.5 257.2v-0.0M295.5 257.2v-0.9M297.5 257.2v-0.2M299.5 257.2v-0.4M300.5 257.2v-2.1M302.5 257.2v-0.0M303.5 257.2v-1.1M304.5 257.2v-0.2M305.5 257.2v-0.0M306.5 257.2v-1.0M308.5 257.2v-0.0M309.5 257.2v-0.2M311.5 257.2v-0.0M312.5 257.2v-0.0M314.5 257.2v-0.7M315.5 257.2v-0.0M316.5 257.2v-0.7M318.5 257.2v-0.0M319.5 257.2v-1.5M320.5 257.2v-0.1M321.5 257.2v-3.9M322.5 257.2v-0.8M323.5 257.2v-0.3M325.5 257.2v-4.5M326.5 257.2v-0.0M328.5 257.2v-0.0M329.5 257.2v-3.3" fill="none" stroke="#3f4cb6" stroke-width="0.6"/>
<line x1="293.50" y1="257.20" x2="293.50" y2="213.00" stroke="#5563d0" stroke-width="0.8"/>
<text x="293.50" y="212.20" font-size="2.20" text-anchor="middle" font-weight="bold" fill="#222" >251</text>
<line x1="322.50" y1="257.20" x2="322.50" y2="211.97" stroke="#5563d0" stroke-width="0.8"/>
<text x="322.50" y="211.17" font-size="2.20" text-anchor="middle" font-weight="bold" fill="#222" >351</text>
<line x1="317.50" y1="257.20" x2="317.50" y2="238.18" stroke="#3c4abf" stroke-width="0.8"/>
<text x="317.50" y="237.38" font-size="2.20" text-anchor="middle" font-weight="bold" fill="#222" >333</text>
<line x1="304.50" y1="257.20" x2="304.50" y2="241.78" stroke="#3c4abf" stroke-width="0.8"/>
<text x="304.50" y="240.98" font-size="2.20" text-anchor="middle" font-weight="bold" fill="#222" >289</text>
<line x1="260.50" y1="257.20" x2="260.50" y2="244.86" stroke="#3c4abf" stroke-width="0.8"/>
<line x1="267.50" y1="257.20" x2="267.50" y2="250.52" stroke="#3c4abf" stroke-width="0.8"/>
<line x1="254.50" y1="257.20" x2="254.50" y2="254.12" stroke="#3c4abf" stroke-width="0.8"/>
<text x="254.50" y="253.32" font-size="2.20" text-anchor="middle" font-weight="bold" fill="#222" >115</text>
<line x1="281.50" y1="257.20" x2="281.50" y2="253.60" stroke="#3c4abf" stroke-width="0.8"/>
<text x="281.50" y="252.80" font-size="2.20" text-anchor="middle" font-weight="bold" fill="#222" >207</text>
<line x1="283.50" y1="257.20" x2="283.50" y2="253.09" stroke="#3c4abf" stroke-width="0.8"/>
<text x="283.50" y="252.29" font-size="2.20" text-anchor="middle" font-weight="bold" fill="#222" >217</text>
<line x1="289.50" y1="257.20" x2="289.50" y2="252.57" stroke="#3c4abf" stroke-width="0.8"/>
<text x="289.50" y="251.77" font-size="2.20" text-anchor="middle" font-weight="bold" fill="#222" >235</text>
<line x1="297.50" y1="257.20" x2="297.50" y2="254.12" stroke="#3c4abf" stroke-width="0.8"/>
<text x="297.50" y="253.32" font-size="2.20" text-anchor="middle" font-weight="bold" fill="#222" >263</text>
<line x1="299.50" y1="257.20" x2="299.50" y2="252.57" stroke="#3c4abf" stroke-width="0.8"/>
<text x="299.50" y="251.77" font-size="2.20" text-anchor="middle" font-weight="bold" fill="#222" >271</text>
<line x1="309.50" y1="257.20" x2="309.50" y2="254.63" stroke="#3c4abf" stroke-width="0.8"/>
<text x="309.50" y="253.83" font-size="2.20" text-anchor="middle" font-weight="bold" fill="#222" >307</text>
<line x1="311.50" y1="257.20" x2="311.50" y2="253.60" stroke="#3c4abf" stroke-width="0.8"/>
<text x="311.50" y="252.80" font-size="2.20" text-anchor="middle" font-weight="bold" fill="#222" >315</text>
<line x1="275.50" y1="257.20" x2="275.50" y2="253.60" stroke="#3c4abf" stroke-width="0.8"/>
<text x="297.80" y="208.00" font-size="2.20" text-anchor="start" font-weight="normal" fill="#222"  stroke="#222" stroke-width="0.1">351 = M - H</text>
<text x="297.80" y="211.07" font-size="2.20" text-anchor="start" font-weight="normal" fill="#222"  stroke="#222" stroke-width="0.1">333 = M - H - H<tspan font-size="1.6" dy="0.4">2</tspan><tspan dy="-0.4">O</tspan></text>
<text x="297.80" y="214.14" font-size="2.20" text-anchor="start" font-weight="normal" fill="#222"  stroke="#222" stroke-width="0.1">315 = M - H - 2H<tspan font-size="1.6" dy="0.4">2</tspan><tspan dy="-0.4">O</tspan></text>
<text x="297.80" y="217.21" font-size="2.20" text-anchor="start" font-weight="normal" fill="#222"  stroke="#222" stroke-width="0.1">307 = M - H - CO<tspan font-size="1.6" dy="0.4">2</tspan><tspan dy="-0.4"></tspan></text>
<text x="297.80" y="220.28" font-size="2.20" text-anchor="start" font-weight="normal" fill="#222"  stroke="#222" stroke-width="0.1">289 = M - H - H<tspan font-size="1.6" dy="0.4">2</tspan><tspan dy="-0.4">O</tspan> - CO<tspan font-size="1.6" dy="0.4">2</tspan><tspan dy="-0.4"></tspan></text>
<text x="297.80" y="223.35" font-size="2.20" text-anchor="start" font-weight="normal" fill="#222"  stroke="#222" stroke-width="0.1">271 = M - H - 2H<tspan font-size="1.6" dy="0.4">2</tspan><tspan dy="-0.4">O</tspan> - CO<tspan font-size="1.6" dy="0.4">2</tspan><tspan dy="-0.4"></tspan></text>
<text x="297.80" y="226.42" font-size="2.20" text-anchor="start" font-weight="normal" fill="#222"  stroke="#222" stroke-width="0.1">251 = 271 - H<tspan font-size="1.6" dy="0.4">2</tspan><tspan dy="-0.4">O</tspan></text>
<text x="297.80" y="229.49" font-size="2.20" text-anchor="start" font-weight="normal" fill="#222"  stroke="#222" stroke-width="0.1">235 = 253 - H<tspan font-size="1.6" dy="0.4">2</tspan><tspan dy="-0.4">O</tspan></text>
<text x="297.80" y="232.56" font-size="2.20" text-anchor="start" font-weight="normal" fill="#222"  stroke="#222" stroke-width="0.1">233 = 251 - H<tspan font-size="1.6" dy="0.4">2</tspan><tspan dy="-0.4">O</tspan></text>
<text x="297.80" y="235.63" font-size="2.20" text-anchor="start" font-weight="normal" fill="#222"  stroke="#222" stroke-width="0.1">217 = 235 - H<tspan font-size="1.6" dy="0.4">2</tspan><tspan dy="-0.4">O</tspan></text>
<text x="297.80" y="238.70" font-size="2.20" text-anchor="start" font-weight="normal" fill="#222"  stroke="#222" stroke-width="0.1">207 = 251 - CO<tspan font-size="1.6" dy="0.4">2</tspan><tspan dy="-0.4"></tspan></text>
<g fill="none" stroke="#444" stroke-width="0.45" stroke-linejoin="round"><path d="M270.8 217.7 L273.4 221.2 M275.1 216.8 L274.2 221.2 M278.6 218.6 L276.0 222.0 M256.1 229.0 L255.2 226.4 L257.8 224.1 L262.1 223.4 L266.4 224.6 L269.9 223.4 L273.4 224.6 L276.8 222.9 L280.3 224.6 L284.6 223.4 L288.9 224.6 L290.7 223.8 M257.8 230.7 L262.1 229.0 L266.4 230.7 L270.8 229.0 L275.1 230.7 L278.6 229.0 M263.0 231.6 L262.1 234.2 L264.7 235.0 M268.2 230.7 L267.3 234.2 L269.9 235.0 M270.8 222.0 L274.2 223.4 L277.7 221.7"/></g>
<text x="288.50" y="265.60" font-size="3.10" text-anchor="middle" font-weight="bold" fill="#222" >m/z, Da</text>
<text x="1.60" y="311.90" font-size="10.80" text-anchor="start" font-weight="bold" fill="#000" >C</text>
<rect x="6.5" y="320.0" width="183.3" height="13.4" fill="#c2b6da"/>
<line x1="6.5" y1="320.2" x2="189.8" y2="320.2" stroke="#4a4a58" stroke-width="1.0"/>
<text x="72.40" y="329.40" font-size="5.30" text-anchor="middle" font-weight="bold" fill="#1a1a2a" stroke="#1a1a2a" stroke-width="0.12">Q1</text>
<text x="97.50" y="329.40" font-size="5.30" text-anchor="middle" font-weight="bold" fill="#1a1a2a" stroke="#1a1a2a" stroke-width="0.12">Q3</text>
<text x="129.30" y="326.00" font-size="5.30" text-anchor="middle" font-weight="bold" fill="#1a1a2a" stroke="#1a1a2a" stroke-width="0.12">M1</text>
<text x="129.30" y="332.60" font-size="5.30" text-anchor="middle" font-weight="bold" fill="#1a1a2a" textLength="34.40" lengthAdjust="spacingAndGlyphs" stroke="#1a1a2a" stroke-width="0.12">Macrophages</text>
<text x="169.30" y="326.00" font-size="5.30" text-anchor="middle" font-weight="bold" fill="#1a1a2a" stroke="#1a1a2a" stroke-width="0.12">M2</text>
<text x="169.30" y="332.60" font-size="5.30" text-anchor="middle" font-weight="bold" fill="#1a1a2a" textLength="34.40" lengthAdjust="spacingAndGlyphs" stroke="#1a1a2a" stroke-width="0.12">Macrophages</text>
<rect x="6.5" y="333.40" width="54" height="13.0" fill="#a8c0e4"/>
<text x="7.60" y="339.30" font-size="5.20" text-anchor="start" font-weight="bold" fill="#10204a" stroke="#10204a" stroke-width="0.12">DHA  Bioactive</text>
<text x="7.60" y="345.50" font-size="5.20" text-anchor="start" font-weight="bold" fill="#10204a" stroke="#10204a" stroke-width="0.12">Metabolome</text>
<text x="7.70" y="352.70" font-size="5.00" text-anchor="start" font-weight="normal" fill="#111" stroke="#111" stroke-width="0.08">RvD1</text>
<text x="72.40" y="352.70" font-size="4.90" text-anchor="middle" font-weight="bold" fill="#111" stroke="#111" stroke-width="0.15">375</text>
<text x="97.50" y="352.70" font-size="4.90" text-anchor="middle" font-weight="bold" fill="#111" stroke="#111" stroke-width="0.15">141</text>
<text x="130.00" y="352.70" font-size="5.00" text-anchor="middle" font-weight="normal" fill="#111" stroke="#111" stroke-width="0.08">445 ±82</text>
<text x="169.50" y="352.70" font-size="5.00" text-anchor="middle" font-weight="normal" fill="#111" stroke="#111" stroke-width="0.08">231 ±41</text>
<text x="7.70" y="359.90" font-size="5.00" text-anchor="start" font-weight="normal" fill="#111" stroke="#111" stroke-width="0.08">RvD2</text>
<text x="72.40" y="359.90" font-size="4.90" text-anchor="middle" font-weight="bold" fill="#111" stroke="#111" stroke-width="0.15">375</text>
<text x="97.50" y="359.90" font-size="4.90" text-anchor="middle" font-weight="bold" fill="#111" stroke="#111" stroke-width="0.15">233</text>
<text x="130.00" y="359.90" font-size="5.00" text-anchor="middle" font-weight="normal" fill="#111" stroke="#111" stroke-width="0.08">1441 ±202</text>
<text x="169.50" y="359.90" font-size="5.00" text-anchor="middle" font-weight="normal" fill="#111" stroke="#111" stroke-width="0.08">607 ±26</text>
<text x="7.70" y="367.00" font-size="5.00" text-anchor="start" font-weight="normal" fill="#111" stroke="#111" stroke-width="0.08">RvD5</text>
<text x="72.40" y="367.00" font-size="4.90" text-anchor="middle" font-weight="bold" fill="#111" stroke="#111" stroke-width="0.15">359</text>
<text x="97.50" y="367.00" font-size="4.90" text-anchor="middle" font-weight="bold" fill="#111" stroke="#111" stroke-width="0.15">199</text>
<text x="130.00" y="367.00" font-size="5.00" text-anchor="middle" font-weight="normal" fill="#111" stroke="#111" stroke-width="0.08">43 ±5</text>
<text x="169.50" y="367.00" font-size="5.00" text-anchor="middle" font-weight="normal" fill="#111" stroke="#111" stroke-width="0.08">196 ±26</text>
<text x="7.70" y="374.20" font-size="5.00" text-anchor="start" font-weight="normal" fill="#111" stroke="#111" stroke-width="0.08">MaR1</text>
<text x="72.40" y="374.20" font-size="4.90" text-anchor="middle" font-weight="bold" fill="#111" stroke="#111" stroke-width="0.15">359</text>
<text x="97.50" y="374.20" font-size="4.90" text-anchor="middle" font-weight="bold" fill="#111" stroke="#111" stroke-width="0.15">221</text>
<text x="130.00" y="374.20" font-size="5.00" text-anchor="middle" font-weight="normal" fill="#111" stroke="#111" stroke-width="0.08">45 ±6</text>
<text x="169.50" y="374.20" font-size="5.00" text-anchor="middle" font-weight="normal" fill="#111" stroke="#111" stroke-width="0.08">296 ±8</text>
<text x="7.70" y="381.40" font-size="5.00" text-anchor="start" font-weight="normal" fill="#111" stroke="#111" stroke-width="0.08">PD1</text>
<text x="72.40" y="381.40" font-size="4.90" text-anchor="middle" font-weight="bold" fill="#111" stroke="#111" stroke-width="0.15">359</text>
<text x="97.50" y="381.40" font-size="4.90" text-anchor="middle" font-weight="bold" fill="#111" stroke="#111" stroke-width="0.15">153</text>
<text x="130.00" y="381.40" font-size="5.00" text-anchor="middle" font-weight="normal" fill="#111" stroke="#111" stroke-width="0.08">1339 ±206</text>
<text x="169.50" y="381.40" font-size="5.00" text-anchor="middle" font-weight="normal" fill="#111" stroke="#111" stroke-width="0.08">3442 ±206</text>
<text x="7.70" y="396.20" font-size="5.00" text-anchor="start" font-weight="normal" fill="#111" stroke="#111" stroke-width="0.08">17-HDHA</text>
<text x="72.40" y="396.20" font-size="4.90" text-anchor="middle" font-weight="bold" fill="#111" stroke="#111" stroke-width="0.15">343</text>
<text x="97.50" y="396.20" font-size="4.90" text-anchor="middle" font-weight="bold" fill="#111" stroke="#111" stroke-width="0.15">245</text>
<text x="130.00" y="396.20" font-size="5.00" text-anchor="middle" font-weight="normal" fill="#111" stroke="#111" stroke-width="0.08">775 ±15</text>
<text x="169.50" y="396.20" font-size="5.00" text-anchor="middle" font-weight="normal" fill="#111" stroke="#111" stroke-width="0.08">1236 ±110</text>
<text x="7.70" y="403.30" font-size="5.00" text-anchor="start" font-weight="normal" fill="#111" stroke="#111" stroke-width="0.08">14-HDHA</text>
<text x="72.40" y="403.30" font-size="4.90" text-anchor="middle" font-weight="bold" fill="#111" stroke="#111" stroke-width="0.15">343</text>
<text x="97.50" y="403.30" font-size="4.90" text-anchor="middle" font-weight="bold" fill="#111" stroke="#111" stroke-width="0.15">205</text>
<text x="130.00" y="403.30" font-size="5.00" text-anchor="middle" font-weight="normal" fill="#111" stroke="#111" stroke-width="0.08">1239 ±115</text>
<text x="169.50" y="403.30" font-size="5.00" text-anchor="middle" font-weight="normal" fill="#111" stroke="#111" stroke-width="0.08">2690 ±163</text>
<text x="7.70" y="410.30" font-size="5.00" text-anchor="start" font-weight="normal" fill="#111" stroke="#111" stroke-width="0.08">7-HDHA</text>
<text x="72.40" y="410.30" font-size="4.90" text-anchor="middle" font-weight="bold" fill="#111" stroke="#111" stroke-width="0.15">343</text>
<text x="97.50" y="410.30" font-size="4.90" text-anchor="middle" font-weight="bold" fill="#111" stroke="#111" stroke-width="0.15">141</text>
<text x="130.00" y="410.30" font-size="5.00" text-anchor="middle" font-weight="normal" fill="#111" stroke="#111" stroke-width="0.08">1003 ±46</text>
<text x="169.50" y="410.30" font-size="5.00" text-anchor="middle" font-weight="normal" fill="#111" stroke="#111" stroke-width="0.08">1553 ±115</text>
<text x="7.70" y="417.40" font-size="5.00" text-anchor="start" font-weight="normal" fill="#111" stroke="#111" stroke-width="0.08">4-HDHA</text>
<text x="72.40" y="417.40" font-size="4.90" text-anchor="middle" font-weight="bold" fill="#111" stroke="#111" stroke-width="0.15">343</text>
<text x="97.50" y="417.40" font-size="4.90" text-anchor="middle" font-weight="bold" fill="#111" stroke="#111" stroke-width="0.15">101</text>
<text x="130.00" y="417.40" font-size="5.00" text-anchor="middle" font-weight="normal" fill="#111" stroke="#111" stroke-width="0.08">3855 ±1240</text>
<text x="169.50" y="417.40" font-size="5.00" text-anchor="middle" font-weight="normal" fill="#111" stroke="#111" stroke-width="0.08">6654 ±2623</text>
<rect x="6.5" y="426.10" width="54" height="13.0" fill="#a8c0e4"/>
<text x="7.60" y="432.00" font-size="5.20" text-anchor="start" font-weight="bold" fill="#10204a" stroke="#10204a" stroke-width="0.12">AA  Bioactive</text>
<text x="7.60" y="438.20" font-size="5.20" text-anchor="start" font-weight="bold" fill="#10204a" stroke="#10204a" stroke-width="0.12">Metabolome</text>
<text x="7.70" y="445.60" font-size="5.00" text-anchor="start" font-weight="normal" fill="#111" stroke="#111" stroke-width="0.08">LXA<tspan font-size="3.2" dy="1">4</tspan></text>
<text x="72.40" y="445.60" font-size="4.90" text-anchor="middle" font-weight="bold" fill="#111" stroke="#111" stroke-width="0.15">351</text>
<text x="97.50" y="445.60" font-size="4.90" text-anchor="middle" font-weight="bold" fill="#111" stroke="#111" stroke-width="0.15">115</text>
<text x="130.00" y="445.60" font-size="5.00" text-anchor="middle" font-weight="normal" fill="#111" stroke="#111" stroke-width="0.08">675 ±167</text>
<text x="169.50" y="445.60" font-size="5.00" text-anchor="middle" font-weight="normal" fill="#111" stroke="#111" stroke-width="0.08">977 ±173</text>
<text x="7.70" y="452.70" font-size="5.00" text-anchor="start" font-weight="normal" fill="#111" stroke="#111" stroke-width="0.08">LXB<tspan font-size="3.2" dy="1">4</tspan></text>
<text x="72.40" y="452.70" font-size="4.90" text-anchor="middle" font-weight="bold" fill="#111" stroke="#111" stroke-width="0.15">351</text>
<text x="97.50" y="452.70" font-size="4.90" text-anchor="middle" font-weight="bold" fill="#111" stroke="#111" stroke-width="0.15">221</text>
<text x="130.00" y="452.70" font-size="5.00" text-anchor="middle" font-weight="normal" fill="#111" stroke="#111" stroke-width="0.08">7560 ±695</text>
<text x="169.50" y="452.70" font-size="5.00" text-anchor="middle" font-weight="normal" fill="#111" stroke="#111" stroke-width="0.08">11750 ±724</text>
<text x="7.70" y="459.80" font-size="5.00" text-anchor="start" font-weight="normal" fill="#111" stroke="#111" stroke-width="0.08">5,15-diHETE</text>
<text x="72.40" y="459.80" font-size="4.90" text-anchor="middle" font-weight="bold" fill="#111" stroke="#111" stroke-width="0.15">335</text>
<text x="97.50" y="459.80" font-size="4.90" text-anchor="middle" font-weight="bold" fill="#111" stroke="#111" stroke-width="0.15">115</text>
<text x="130.00" y="459.80" font-size="5.00" text-anchor="middle" font-weight="normal" fill="#111" stroke="#111" stroke-width="0.08">3039 ±955</text>
<text x="169.50" y="459.80" font-size="5.00" text-anchor="middle" font-weight="normal" fill="#111" stroke="#111" stroke-width="0.08">6392 ±1740</text>
<text x="7.70" y="474.40" font-size="5.00" text-anchor="start" font-weight="normal" fill="#111" stroke="#111" stroke-width="0.08">LTB<tspan font-size="3.2" dy="1">4</tspan></text>
<text x="72.40" y="474.40" font-size="4.90" text-anchor="middle" font-weight="bold" fill="#111" stroke="#111" stroke-width="0.15">335</text>
<text x="97.50" y="474.40" font-size="4.90" text-anchor="middle" font-weight="bold" fill="#111" stroke="#111" stroke-width="0.15">195</text>
<text x="130.00" y="474.40" font-size="5.00" text-anchor="middle" font-weight="normal" fill="#111" stroke="#111" stroke-width="0.08">668 ±81</text>
<text x="169.50" y="474.40" font-size="5.00" text-anchor="middle" font-weight="normal" fill="#111" stroke="#111" stroke-width="0.08">359 ±39</text>
<text x="7.70" y="481.50" font-size="5.00" text-anchor="start" font-weight="normal" fill="#111" stroke="#111" stroke-width="0.08">20-OH-LTB<tspan font-size="3.2" dy="1">4</tspan></text>
<text x="72.40" y="481.50" font-size="4.90" text-anchor="middle" font-weight="bold" fill="#111" stroke="#111" stroke-width="0.15">351</text>
<text x="97.50" y="481.50" font-size="4.90" text-anchor="middle" font-weight="bold" fill="#111" stroke="#111" stroke-width="0.15">195</text>
<text x="130.00" y="481.50" font-size="5.00" text-anchor="middle" font-weight="normal" fill="#111" stroke="#111" stroke-width="0.08">*</text>
<text x="169.50" y="481.50" font-size="5.00" text-anchor="middle" font-weight="normal" fill="#111" stroke="#111" stroke-width="0.08">*</text>
<text x="7.70" y="496.30" font-size="5.00" text-anchor="start" font-weight="normal" fill="#111" stroke="#111" stroke-width="0.08">PGD<tspan font-size="3.2" dy="1">2</tspan></text>
<text x="72.40" y="496.30" font-size="4.90" text-anchor="middle" font-weight="bold" fill="#111" stroke="#111" stroke-width="0.15">351</text>
<text x="97.50" y="496.30" font-size="4.90" text-anchor="middle" font-weight="bold" fill="#111" stroke="#111" stroke-width="0.15">189</text>
<text x="130.00" y="496.30" font-size="5.00" text-anchor="middle" font-weight="normal" fill="#111" stroke="#111" stroke-width="0.08">4171 ±1637</text>
<text x="169.50" y="496.30" font-size="5.00" text-anchor="middle" font-weight="normal" fill="#111" stroke="#111" stroke-width="0.08">3924 ±1606</text>
<text x="7.70" y="503.40" font-size="5.00" text-anchor="start" font-weight="normal" fill="#111" stroke="#111" stroke-width="0.08">PGE<tspan font-size="3.2" dy="1">2</tspan></text>
<text x="72.40" y="503.40" font-size="4.90" text-anchor="middle" font-weight="bold" fill="#111" stroke="#111" stroke-width="0.15">351</text>
<text x="97.50" y="503.40" font-size="4.90" text-anchor="middle" font-weight="bold" fill="#111" stroke="#111" stroke-width="0.15">233</text>
<text x="130.00" y="503.40" font-size="5.00" text-anchor="middle" font-weight="normal" fill="#111" stroke="#111" stroke-width="0.08">2285 ±435</text>
<text x="169.50" y="503.40" font-size="5.00" text-anchor="middle" font-weight="normal" fill="#111" stroke="#111" stroke-width="0.08">1573 ±490</text>
<text x="7.70" y="510.40" font-size="5.00" text-anchor="start" font-weight="normal" fill="#111" stroke="#111" stroke-width="0.08">PGF<tspan font-size="3.2" dy="1">2α</tspan></text>
<text x="72.40" y="510.40" font-size="4.90" text-anchor="middle" font-weight="bold" fill="#111" stroke="#111" stroke-width="0.15">353</text>
<text x="97.50" y="510.40" font-size="4.90" text-anchor="middle" font-weight="bold" fill="#111" stroke="#111" stroke-width="0.15">193</text>
<text x="130.00" y="510.40" font-size="5.00" text-anchor="middle" font-weight="normal" fill="#111" stroke="#111" stroke-width="0.08">11325 ±428</text>
<text x="169.50" y="510.40" font-size="5.00" text-anchor="middle" font-weight="normal" fill="#111" stroke="#111" stroke-width="0.08">2108 ±256</text>
<text x="7.70" y="517.50" font-size="5.00" text-anchor="start" font-weight="normal" fill="#111" stroke="#111" stroke-width="0.08">TXB<tspan font-size="3.2" dy="1">2</tspan></text>
<text x="72.40" y="517.50" font-size="4.90" text-anchor="middle" font-weight="bold" fill="#111" stroke="#111" stroke-width="0.15">369</text>
<text x="97.50" y="517.50" font-size="4.90" text-anchor="middle" font-weight="bold" fill="#111" stroke="#111" stroke-width="0.15">169</text>
<text x="130.00" y="517.50" font-size="5.00" text-anchor="middle" font-weight="normal" fill="#111" stroke="#111" stroke-width="0.08">550 ±135</text>
<text x="169.50" y="517.50" font-size="5.00" text-anchor="middle" font-weight="normal" fill="#111" stroke="#111" stroke-width="0.08">222 ±73</text>
<text x="7.70" y="532.80" font-size="5.00" text-anchor="start" font-weight="normal" fill="#111" stroke="#111" stroke-width="0.08">15-HETE</text>
<text x="72.40" y="532.80" font-size="4.90" text-anchor="middle" font-weight="bold" fill="#111" stroke="#111" stroke-width="0.15">319</text>
<text x="97.50" y="532.80" font-size="4.90" text-anchor="middle" font-weight="bold" fill="#111" stroke="#111" stroke-width="0.15">219</text>
<text x="130.00" y="532.80" font-size="5.00" text-anchor="middle" font-weight="normal" fill="#111" stroke="#111" stroke-width="0.08">3854 ±734</text>
<text x="169.50" y="532.80" font-size="5.00" text-anchor="middle" font-weight="normal" fill="#111" stroke="#111" stroke-width="0.08">6330 ±1268</text>
<text x="7.70" y="540.00" font-size="5.00" text-anchor="start" font-weight="normal" fill="#111" stroke="#111" stroke-width="0.08">12-HETE</text>
<text x="72.40" y="540.00" font-size="4.90" text-anchor="middle" font-weight="bold" fill="#111" stroke="#111" stroke-width="0.15">319</text>
<text x="97.50" y="540.00" font-size="4.90" text-anchor="middle" font-weight="bold" fill="#111" stroke="#111" stroke-width="0.15">179</text>
<text x="130.00" y="540.00" font-size="5.00" text-anchor="middle" font-weight="normal" fill="#111" stroke="#111" stroke-width="0.08">7504 ±1644</text>
<text x="169.50" y="540.00" font-size="5.00" text-anchor="middle" font-weight="normal" fill="#111" stroke="#111" stroke-width="0.08">13165 ±2877</text>
<text x="7.70" y="547.20" font-size="5.00" text-anchor="start" font-weight="normal" fill="#111" stroke="#111" stroke-width="0.08">5-HETE</text>
<text x="72.40" y="547.20" font-size="4.90" text-anchor="middle" font-weight="bold" fill="#111" stroke="#111" stroke-width="0.15">319</text>
<text x="97.50" y="547.20" font-size="4.90" text-anchor="middle" font-weight="bold" fill="#111" stroke="#111" stroke-width="0.15">115</text>
<text x="130.00" y="547.20" font-size="5.00" text-anchor="middle" font-weight="normal" fill="#111" stroke="#111" stroke-width="0.08">3193 ±1167</text>
<text x="169.50" y="547.20" font-size="5.00" text-anchor="middle" font-weight="normal" fill="#111" stroke="#111" stroke-width="0.08">5907 ±1841</text>
<rect x="6.5" y="555.70" width="54" height="13.0" fill="#a8c0e4"/>
<text x="7.60" y="561.60" font-size="5.20" text-anchor="start" font-weight="bold" fill="#10204a" stroke="#10204a" stroke-width="0.12">EPA  Bioactive</text>
<text x="7.60" y="567.80" font-size="5.20" text-anchor="start" font-weight="bold" fill="#10204a" stroke="#10204a" stroke-width="0.12">Metabolome</text>
<text x="7.70" y="574.90" font-size="5.00" text-anchor="start" font-weight="normal" fill="#111" stroke="#111" stroke-width="0.08">RvE1</text>
<text x="72.40" y="574.90" font-size="4.90" text-anchor="middle" font-weight="bold" fill="#111" stroke="#111" stroke-width="0.15">349</text>
<text x="97.50" y="574.90" font-size="4.90" text-anchor="middle" font-weight="bold" fill="#111" stroke="#111" stroke-width="0.15">195</text>
<text x="130.00" y="574.90" font-size="5.00" text-anchor="middle" font-weight="normal" fill="#111" stroke="#111" stroke-width="0.08">348 ±120</text>
<text x="169.50" y="574.90" font-size="5.00" text-anchor="middle" font-weight="normal" fill="#111" stroke="#111" stroke-width="0.08">170 ±8</text>
<text x="7.70" y="582.10" font-size="5.00" text-anchor="start" font-weight="normal" fill="#111" stroke="#111" stroke-width="0.08">RvE2</text>
<text x="72.40" y="582.10" font-size="4.90" text-anchor="middle" font-weight="bold" fill="#111" stroke="#111" stroke-width="0.15">333</text>
<text x="97.50" y="582.10" font-size="4.90" text-anchor="middle" font-weight="bold" fill="#111" stroke="#111" stroke-width="0.15">199</text>
<text x="130.00" y="582.10" font-size="5.00" text-anchor="middle" font-weight="normal" fill="#111" stroke="#111" stroke-width="0.08">10910 ±4232</text>
<text x="169.50" y="582.10" font-size="5.00" text-anchor="middle" font-weight="normal" fill="#111" stroke="#111" stroke-width="0.08">20680 ±4910</text>
<text x="7.70" y="589.30" font-size="5.00" text-anchor="start" font-weight="normal" fill="#111" stroke="#111" stroke-width="0.08">LXA<tspan font-size="3.2" dy="1">5</tspan></text>
<text x="72.40" y="589.30" font-size="4.90" text-anchor="middle" font-weight="bold" fill="#111" stroke="#111" stroke-width="0.15">349</text>
<text x="97.50" y="589.30" font-size="4.90" text-anchor="middle" font-weight="bold" fill="#111" stroke="#111" stroke-width="0.15">115</text>
<text x="130.00" y="589.30" font-size="5.00" text-anchor="middle" font-weight="normal" fill="#111" stroke="#111" stroke-width="0.08">1361 ±519</text>
<text x="169.50" y="589.30" font-size="5.00" text-anchor="middle" font-weight="normal" fill="#111" stroke="#111" stroke-width="0.08">1092 ±521</text>
<text x="7.70" y="596.50" font-size="5.00" text-anchor="start" font-weight="normal" fill="#111" stroke="#111" stroke-width="0.08">LXB<tspan font-size="3.2" dy="1">5</tspan></text>
<text x="72.40" y="596.50" font-size="4.90" text-anchor="middle" font-weight="bold" fill="#111" stroke="#111" stroke-width="0.15">349</text>
<text x="97.50" y="596.50" font-size="4.90" text-anchor="middle" font-weight="bold" fill="#111" stroke="#111" stroke-width="0.15">219</text>
<text x="130.00" y="596.50" font-size="5.00" text-anchor="middle" font-weight="normal" fill="#111" stroke="#111" stroke-width="0.08">2551 ±859</text>
<text x="169.50" y="596.50" font-size="5.00" text-anchor="middle" font-weight="normal" fill="#111" stroke="#111" stroke-width="0.08">4370 ±397</text>
<text x="7.70" y="603.70" font-size="5.00" text-anchor="start" font-weight="normal" fill="#111" stroke="#111" stroke-width="0.08">5,15-diHEPE</text>
<text x="72.40" y="603.70" font-size="4.90" text-anchor="middle" font-weight="bold" fill="#111" stroke="#111" stroke-width="0.15">333</text>
<text x="97.50" y="603.70" font-size="4.90" text-anchor="middle" font-weight="bold" fill="#111" stroke="#111" stroke-width="0.15">115</text>
<text x="130.00" y="603.70" font-size="5.00" text-anchor="middle" font-weight="normal" fill="#111" stroke="#111" stroke-width="0.08">793 ±247</text>
<text x="169.50" y="603.70" font-size="5.00" text-anchor="middle" font-weight="normal" fill="#111" stroke="#111" stroke-width="0.08">1091 ±175</text>
<text x="7.70" y="618.50" font-size="5.00" text-anchor="start" font-weight="normal" fill="#111" stroke="#111" stroke-width="0.08">LTB<tspan font-size="3.2" dy="1">5</tspan></text>
<text x="72.40" y="618.50" font-size="4.90" text-anchor="middle" font-weight="bold" fill="#111" stroke="#111" stroke-width="0.15">333</text>
<text x="97.50" y="618.50" font-size="4.90" text-anchor="middle" font-weight="bold" fill="#111" stroke="#111" stroke-width="0.15">195</text>
<text x="130.00" y="618.50" font-size="5.00" text-anchor="middle" font-weight="normal" fill="#111" stroke="#111" stroke-width="0.08">510 ±174</text>
<text x="169.50" y="618.50" font-size="5.00" text-anchor="middle" font-weight="normal" fill="#111" stroke="#111" stroke-width="0.08">177 ±43</text>
<text x="7.70" y="632.60" font-size="5.00" text-anchor="start" font-weight="normal" fill="#111" stroke="#111" stroke-width="0.08">PGD<tspan font-size="3.2" dy="1">3</tspan></text>
<text x="72.40" y="632.60" font-size="4.90" text-anchor="middle" font-weight="bold" fill="#111" stroke="#111" stroke-width="0.15">349</text>
<text x="97.50" y="632.60" font-size="4.90" text-anchor="middle" font-weight="bold" fill="#111" stroke="#111" stroke-width="0.15">189</text>
<text x="130.00" y="632.60" font-size="5.00" text-anchor="middle" font-weight="normal" fill="#111" stroke="#111" stroke-width="0.08">210 ±188</text>
<text x="169.50" y="632.60" font-size="5.00" text-anchor="middle" font-weight="normal" fill="#111" stroke="#111" stroke-width="0.08">47 ±32</text>
<text x="7.70" y="639.70" font-size="5.00" text-anchor="start" font-weight="normal" fill="#111" stroke="#111" stroke-width="0.08">PGE<tspan font-size="3.2" dy="1">3</tspan></text>
<text x="72.40" y="639.70" font-size="4.90" text-anchor="middle" font-weight="bold" fill="#111" stroke="#111" stroke-width="0.15">349</text>
<text x="97.50" y="639.70" font-size="4.90" text-anchor="middle" font-weight="bold" fill="#111" stroke="#111" stroke-width="0.15">233</text>
<text x="130.00" y="639.70" font-size="5.00" text-anchor="middle" font-weight="normal" fill="#111" stroke="#111" stroke-width="0.08">324 ±95</text>
<text x="169.50" y="639.70" font-size="5.00" text-anchor="middle" font-weight="normal" fill="#111" stroke="#111" stroke-width="0.08">167 ±28</text>
<text x="7.70" y="646.80" font-size="5.00" text-anchor="start" font-weight="normal" fill="#111" stroke="#111" stroke-width="0.08">PGF<tspan font-size="3.2" dy="1">3α</tspan></text>
<text x="72.40" y="646.80" font-size="4.90" text-anchor="middle" font-weight="bold" fill="#111" stroke="#111" stroke-width="0.15">351</text>
<text x="97.50" y="646.80" font-size="4.90" text-anchor="middle" font-weight="bold" fill="#111" stroke="#111" stroke-width="0.15">193</text>
<text x="130.00" y="646.80" font-size="5.00" text-anchor="middle" font-weight="normal" fill="#111" stroke="#111" stroke-width="0.08">125 ±30</text>
<text x="169.50" y="646.80" font-size="5.00" text-anchor="middle" font-weight="normal" fill="#111" stroke="#111" stroke-width="0.08">415 ±117</text>
<text x="7.70" y="653.90" font-size="5.00" text-anchor="start" font-weight="normal" fill="#111" stroke="#111" stroke-width="0.08">TXB<tspan font-size="3.2" dy="1">3</tspan></text>
<text x="72.40" y="653.90" font-size="4.90" text-anchor="middle" font-weight="bold" fill="#111" stroke="#111" stroke-width="0.15">367</text>
<text x="97.50" y="653.90" font-size="4.90" text-anchor="middle" font-weight="bold" fill="#111" stroke="#111" stroke-width="0.15">169</text>
<text x="130.00" y="653.90" font-size="5.00" text-anchor="middle" font-weight="normal" fill="#111" stroke="#111" stroke-width="0.08">301 ±179</text>
<text x="169.50" y="653.90" font-size="5.00" text-anchor="middle" font-weight="normal" fill="#111" stroke="#111" stroke-width="0.08">474 ±161</text>
<text x="7.70" y="668.80" font-size="5.00" text-anchor="start" font-weight="normal" fill="#111" stroke="#111" stroke-width="0.08">18-HEPE</text>
<text x="72.40" y="668.80" font-size="4.90" text-anchor="middle" font-weight="bold" fill="#111" stroke="#111" stroke-width="0.15">317</text>
<text x="97.50" y="668.80" font-size="4.90" text-anchor="middle" font-weight="bold" fill="#111" stroke="#111" stroke-width="0.15">259</text>
<text x="130.00" y="668.80" font-size="5.00" text-anchor="middle" font-weight="normal" fill="#111" stroke="#111" stroke-width="0.08">203 ±61</text>
<text x="169.50" y="668.80" font-size="5.00" text-anchor="middle" font-weight="normal" fill="#111" stroke="#111" stroke-width="0.08">391 ±40</text>
<text x="7.70" y="676.00" font-size="5.00" text-anchor="start" font-weight="normal" fill="#111" stroke="#111" stroke-width="0.08">15-HEPE</text>
<text x="72.40" y="676.00" font-size="4.90" text-anchor="middle" font-weight="bold" fill="#111" stroke="#111" stroke-width="0.15">317</text>
<text x="97.50" y="676.00" font-size="4.90" text-anchor="middle" font-weight="bold" fill="#111" stroke="#111" stroke-width="0.15">219</text>
<text x="130.00" y="676.00" font-size="5.00" text-anchor="middle" font-weight="normal" fill="#111" stroke="#111" stroke-width="0.08">110 ±28</text>
<text x="169.50" y="676.00" font-size="5.00" text-anchor="middle" font-weight="normal" fill="#111" stroke="#111" stroke-width="0.08">245 ±32</text>
<text x="7.70" y="683.20" font-size="5.00" text-anchor="start" font-weight="normal" fill="#111" stroke="#111" stroke-width="0.08">12-HEPE</text>
<text x="72.40" y="683.20" font-size="4.90" text-anchor="middle" font-weight="bold" fill="#111" stroke="#111" stroke-width="0.15">317</text>
<text x="97.50" y="683.20" font-size="4.90" text-anchor="middle" font-weight="bold" fill="#111" stroke="#111" stroke-width="0.15">179</text>
<text x="130.00" y="683.20" font-size="5.00" text-anchor="middle" font-weight="normal" fill="#111" stroke="#111" stroke-width="0.08">23 ±4</text>
<text x="169.50" y="683.20" font-size="5.00" text-anchor="middle" font-weight="normal" fill="#111" stroke="#111" stroke-width="0.08">43 ±4</text>
<text x="7.70" y="690.20" font-size="5.00" text-anchor="start" font-weight="normal" fill="#111" stroke="#111" stroke-width="0.08">5-HEPE</text>
<text x="72.40" y="690.20" font-size="4.90" text-anchor="middle" font-weight="bold" fill="#111" stroke="#111" stroke-width="0.15">317</text>
<text x="97.50" y="690.20" font-size="4.90" text-anchor="middle" font-weight="bold" fill="#111" stroke="#111" stroke-width="0.15">115</text>
<text x="130.00" y="690.20" font-size="5.00" text-anchor="middle" font-weight="normal" fill="#111" stroke="#111" stroke-width="0.08">8095 ±2561</text>
<text x="169.50" y="690.20" font-size="5.00" text-anchor="middle" font-weight="normal" fill="#111" stroke="#111" stroke-width="0.08">21455 ±592</text>
<line x1="6.5" y1="691.3" x2="189.8" y2="691.3" stroke="#111" stroke-width="0.8"/>
<text x="203.60" y="312.00" font-size="10.60" text-anchor="start" font-weight="bold" fill="#000" >D</text>
<path d="M238.20 325.20 L238.20 394.90 L308.00 394.90" fill="none" stroke="#000" stroke-width="0.8"/>
<line x1="236.50" y1="394.90" x2="238.20" y2="394.90" stroke="#000" stroke-width="0.7"/>
<text x="236.20" y="396.45" font-size="4.30" text-anchor="end" font-weight="bold" fill="#000"  stroke="#000" stroke-width="0.12">0</text>
<line x1="236.50" y1="383.33" x2="238.20" y2="383.33" stroke="#000" stroke-width="0.7"/>
<text x="236.20" y="384.88" font-size="4.30" text-anchor="end" font-weight="bold" fill="#000"  stroke="#000" stroke-width="0.12">1000</text>
<line x1="236.50" y1="371.77" x2="238.20" y2="371.77" stroke="#000" stroke-width="0.7"/>
<text x="236.20" y="373.32" font-size="4.30" text-anchor="end" font-weight="bold" fill="#000"  stroke="#000" stroke-width="0.12">2000</text>
<line x1="236.50" y1="360.20" x2="238.20" y2="360.20" stroke="#000" stroke-width="0.7"/>
<text x="236.20" y="361.75" font-size="4.30" text-anchor="end" font-weight="bold" fill="#000"  stroke="#000" stroke-width="0.12">3000</text>
<line x1="236.50" y1="348.63" x2="238.20" y2="348.63" stroke="#000" stroke-width="0.7"/>
<text x="236.20" y="350.18" font-size="4.30" text-anchor="end" font-weight="bold" fill="#000"  stroke="#000" stroke-width="0.12">4000</text>
<line x1="236.50" y1="337.07" x2="238.20" y2="337.07" stroke="#000" stroke-width="0.7"/>
<text x="236.20" y="338.62" font-size="4.30" text-anchor="end" font-weight="bold" fill="#000"  stroke="#000" stroke-width="0.12">5000</text>
<line x1="236.50" y1="325.50" x2="238.20" y2="325.50" stroke="#000" stroke-width="0.7"/>
<text x="236.20" y="327.05" font-size="4.30" text-anchor="end" font-weight="bold" fill="#000"  stroke="#000" stroke-width="0.12">6000</text>
<line x1="256.95" y1="366.10" x2="256.95" y2="362.50" stroke="#000" stroke-width="0.8"/>
<line x1="251.15" y1="362.50" x2="262.75" y2="362.50" stroke="#000" stroke-width="0.8"/>
<rect x="245.40" y="366.50" width="23.10" height="28.40" fill="#000" stroke="#000" stroke-width="0.8"/>
<line x1="256.95" y1="394.90" x2="256.95" y2="396.50" stroke="#000" stroke-width="0.7"/>
<text x="256.95" y="401.70" font-size="4.50" text-anchor="middle" font-weight="bold" fill="#000"  stroke="#000" stroke-width="0.12">M1</text>
<line x1="291.35" y1="338.20" x2="291.35" y2="330.20" stroke="#000" stroke-width="0.8"/>
<line x1="285.55" y1="330.20" x2="297.15" y2="330.20" stroke="#000" stroke-width="0.8"/>
<rect x="279.80" y="338.60" width="23.10" height="56.30" fill="#fff" stroke="#000" stroke-width="0.8"/>
<line x1="291.35" y1="394.90" x2="291.35" y2="396.50" stroke="#000" stroke-width="0.7"/>
<text x="291.35" y="401.70" font-size="4.50" text-anchor="middle" font-weight="bold" fill="#000"  stroke="#000" stroke-width="0.12">M2</text>
<text x="291.35" y="329.90" font-size="7.80" text-anchor="middle" font-weight="bold" fill="#000" >**</text>
<text transform="translate(210.10 361.00) rotate(-90)" font-size="4.20" text-anchor="middle" font-weight="bold" fill="#000" textLength="83.60" lengthAdjust="spacingAndGlyphs">D-series Resolvins, Protectins and</text>
<text transform="translate(217.10 361.30) rotate(-90)" font-size="4.20" text-anchor="middle" font-weight="bold" fill="#000" textLength="63.00" lengthAdjust="spacingAndGlyphs">Maresins (pg/2.5x10<tspan font-size="2.7" dy="-1.4">6</tspan><tspan dy="1.4"> cells )</tspan></text>
<text x="313.00" y="312.00" font-size="10.60" text-anchor="start" font-weight="bold" fill="#000" >E</text>
<path d="M344.40 323.10 L344.40 396.40 L409.00 396.40" fill="none" stroke="#000" stroke-width="0.8"/>
<line x1="342.70" y1="396.40" x2="344.40" y2="396.40" stroke="#000" stroke-width="0.7"/>
<text x="342.40" y="397.95" font-size="4.30" text-anchor="end" font-weight="bold" fill="#000"  stroke="#000" stroke-width="0.12">0</text>
<line x1="342.70" y1="372.07" x2="344.40" y2="372.07" stroke="#000" stroke-width="0.7"/>
<text x="342.40" y="373.62" font-size="4.30" text-anchor="end" font-weight="bold" fill="#000"  stroke="#000" stroke-width="0.12">10000</text>
<line x1="342.70" y1="347.73" x2="344.40" y2="347.73" stroke="#000" stroke-width="0.7"/>
<text x="342.40" y="349.28" font-size="4.30" text-anchor="end" font-weight="bold" fill="#000"  stroke="#000" stroke-width="0.12">20000</text>
<line x1="342.70" y1="323.40" x2="344.40" y2="323.40" stroke="#000" stroke-width="0.7"/>
<text x="342.40" y="324.95" font-size="4.30" text-anchor="end" font-weight="bold" fill="#000"  stroke="#000" stroke-width="0.12">30000</text>
<line x1="360.90" y1="367.20" x2="360.90" y2="365.30" stroke="#000" stroke-width="0.8"/>
<line x1="355.10" y1="365.30" x2="366.70" y2="365.30" stroke="#000" stroke-width="0.8"/>
<rect x="350.70" y="367.60" width="20.40" height="28.80" fill="#000" stroke="#000" stroke-width="0.8"/>
<line x1="360.90" y1="396.40" x2="360.90" y2="398.00" stroke="#000" stroke-width="0.7"/>
<text x="360.90" y="403.90" font-size="4.50" text-anchor="middle" font-weight="bold" fill="#000"  stroke="#000" stroke-width="0.12">M1</text>
<line x1="392.80" y1="340.90" x2="392.80" y2="335.00" stroke="#000" stroke-width="0.8"/>
<line x1="387.00" y1="335.00" x2="398.60" y2="335.00" stroke="#000" stroke-width="0.8"/>
<rect x="382.40" y="341.30" width="20.80" height="55.10" fill="#fff" stroke="#000" stroke-width="0.8"/>
<line x1="392.80" y1="396.40" x2="392.80" y2="398.00" stroke="#000" stroke-width="0.7"/>
<text x="392.80" y="403.90" font-size="4.50" text-anchor="middle" font-weight="bold" fill="#000"  stroke="#000" stroke-width="0.12">M2</text>
<text x="392.80" y="332.70" font-size="7.80" text-anchor="middle" font-weight="bold" fill="#000" >***</text>
<text transform="translate(317.40 361.00) rotate(-90)" font-size="4.20" text-anchor="middle" font-weight="bold" fill="#000" textLength="49.70" lengthAdjust="spacingAndGlyphs">AA derived Lipoxins</text>
<text transform="translate(323.70 361.20) rotate(-90)" font-size="4.20" text-anchor="middle" font-weight="bold" fill="#000" textLength="43.00" lengthAdjust="spacingAndGlyphs">(pg/2.5x10<tspan font-size="2.7" dy="-1.4">6</tspan><tspan dy="1.4"> cells )</tspan></text>
<text x="203.80" y="424.00" font-size="10.60" text-anchor="start" font-weight="bold" fill="#000" >F</text>
<path d="M238.20 434.00 L238.20 508.00 L302.00 508.00" fill="none" stroke="#000" stroke-width="0.8"/>
<line x1="236.50" y1="508.00" x2="238.20" y2="508.00" stroke="#000" stroke-width="0.7"/>
<text x="236.20" y="509.55" font-size="4.30" text-anchor="end" font-weight="bold" fill="#000"  stroke="#000" stroke-width="0.12">0</text>
<line x1="236.50" y1="497.20" x2="238.20" y2="497.20" stroke="#000" stroke-width="0.7"/>
<text x="236.20" y="498.75" font-size="4.30" text-anchor="end" font-weight="bold" fill="#000"  stroke="#000" stroke-width="0.12">10000</text>
<line x1="236.50" y1="476.60" x2="238.20" y2="476.60" stroke="#000" stroke-width="0.7"/>
<text x="236.20" y="478.15" font-size="4.30" text-anchor="end" font-weight="bold" fill="#000"  stroke="#000" stroke-width="0.12">20000</text>
<line x1="236.50" y1="455.50" x2="238.20" y2="455.50" stroke="#000" stroke-width="0.7"/>
<text x="236.20" y="457.05" font-size="4.30" text-anchor="end" font-weight="bold" fill="#000"  stroke="#000" stroke-width="0.12">30000</text>
<line x1="236.50" y1="434.30" x2="238.20" y2="434.30" stroke="#000" stroke-width="0.7"/>
<text x="236.20" y="435.85" font-size="4.30" text-anchor="end" font-weight="bold" fill="#000"  stroke="#000" stroke-width="0.12">40000</text>
<line x1="255.55" y1="475.60" x2="255.55" y2="468.20" stroke="#000" stroke-width="0.8"/>
<line x1="249.75" y1="468.20" x2="261.35" y2="468.20" stroke="#000" stroke-width="0.8"/>
<rect x="245.40" y="476.00" width="20.30" height="32.00" fill="#000" stroke="#000" stroke-width="0.8"/>
<line x1="255.55" y1="508.00" x2="255.55" y2="509.60" stroke="#000" stroke-width="0.7"/>
<text x="255.55" y="515.90" font-size="4.50" text-anchor="middle" font-weight="bold" fill="#000"  stroke="#000" stroke-width="0.12">M1</text>
<line x1="287.70" y1="452.70" x2="287.70" y2="444.30" stroke="#000" stroke-width="0.8"/>
<line x1="281.90" y1="444.30" x2="293.50" y2="444.30" stroke="#000" stroke-width="0.8"/>
<rect x="277.30" y="453.10" width="20.80" height="54.90" fill="#fff" stroke="#000" stroke-width="0.8"/>
<line x1="287.70" y1="508.00" x2="287.70" y2="509.60" stroke="#000" stroke-width="0.7"/>
<text x="287.70" y="515.90" font-size="4.50" text-anchor="middle" font-weight="bold" fill="#000"  stroke="#000" stroke-width="0.12">M2</text>
<text x="287.70" y="442.50" font-size="7.80" text-anchor="middle" font-weight="bold" fill="#000" >**</text>
<text transform="translate(211.60 470.30) rotate(-90)" font-size="4.20" text-anchor="middle" font-weight="bold" fill="#000" textLength="80.40" lengthAdjust="spacingAndGlyphs">E-series Resolvins, and Lipoxins</text>
<text transform="translate(218.00 470.00) rotate(-90)" font-size="4.20" text-anchor="middle" font-weight="bold" fill="#000" textLength="43.00" lengthAdjust="spacingAndGlyphs">(pg/2.5x10<tspan font-size="2.7" dy="-1.4">6</tspan><tspan dy="1.4"> cells )</tspan></text>
<text x="312.40" y="424.00" font-size="10.60" text-anchor="start" font-weight="bold" fill="#000" >G</text>
<path d="M345.70 432.50 L345.70 508.00 L409.50 508.00" fill="none" stroke="#000" stroke-width="0.8"/>
<line x1="344.00" y1="508.00" x2="345.70" y2="508.00" stroke="#000" stroke-width="0.7"/>
<text x="343.70" y="509.55" font-size="4.30" text-anchor="end" font-weight="bold" fill="#000"  stroke="#000" stroke-width="0.12">0</text>
<line x1="344.00" y1="482.93" x2="345.70" y2="482.93" stroke="#000" stroke-width="0.7"/>
<text x="343.70" y="484.48" font-size="4.30" text-anchor="end" font-weight="bold" fill="#000"  stroke="#000" stroke-width="0.12">10000</text>
<line x1="344.00" y1="457.87" x2="345.70" y2="457.87" stroke="#000" stroke-width="0.7"/>
<text x="343.70" y="459.42" font-size="4.30" text-anchor="end" font-weight="bold" fill="#000"  stroke="#000" stroke-width="0.12">20000</text>
<line x1="344.00" y1="432.80" x2="345.70" y2="432.80" stroke="#000" stroke-width="0.7"/>
<text x="343.70" y="434.35" font-size="4.30" text-anchor="end" font-weight="bold" fill="#000"  stroke="#000" stroke-width="0.12">30000</text>
<line x1="361.95" y1="451.90" x2="361.95" y2="439.20" stroke="#000" stroke-width="0.8"/>
<line x1="356.15" y1="439.20" x2="367.75" y2="439.20" stroke="#000" stroke-width="0.8"/>
<rect x="351.80" y="452.30" width="20.30" height="55.70" fill="#000" stroke="#000" stroke-width="0.8"/>
<line x1="361.95" y1="508.00" x2="361.95" y2="509.60" stroke="#000" stroke-width="0.7"/>
<text x="361.95" y="515.20" font-size="4.50" text-anchor="middle" font-weight="bold" fill="#000"  stroke="#000" stroke-width="0.12">M1</text>
<line x1="393.70" y1="475.20" x2="393.70" y2="464.60" stroke="#000" stroke-width="0.8"/>
<line x1="387.90" y1="464.60" x2="399.50" y2="464.60" stroke="#000" stroke-width="0.8"/>
<rect x="383.50" y="475.60" width="20.40" height="32.40" fill="#fff" stroke="#000" stroke-width="0.8"/>
<line x1="393.70" y1="508.00" x2="393.70" y2="509.60" stroke="#000" stroke-width="0.7"/>
<text x="393.70" y="515.20" font-size="4.50" text-anchor="middle" font-weight="bold" fill="#000"  stroke="#000" stroke-width="0.12">M2</text>
<text x="393.70" y="463.50" font-size="7.80" text-anchor="middle" font-weight="bold" fill="#000" >**</text>
<text transform="translate(318.40 469.80) rotate(-90)" font-size="4.20" text-anchor="middle" font-weight="bold" fill="#000" textLength="79.30" lengthAdjust="spacingAndGlyphs">AA derived Prostaglandins and</text>
<text transform="translate(324.80 469.80) rotate(-90)" font-size="4.20" text-anchor="middle" font-weight="bold" fill="#000" textLength="79.30" lengthAdjust="spacingAndGlyphs">Thromboxanes (pg/2.5x10<tspan font-size="2.7" dy="-1.4">6</tspan><tspan dy="1.4"> cells )</tspan></text>
<text x="203.50" y="540.40" font-size="10.60" text-anchor="start" font-weight="bold" fill="#000" >H</text>
<path d="M238.80 549.00 L238.80 624.00 L302.00 624.00" fill="none" stroke="#000" stroke-width="0.8"/>
<line x1="237.10" y1="624.00" x2="238.80" y2="624.00" stroke="#000" stroke-width="0.7"/>
<text x="236.80" y="625.55" font-size="4.30" text-anchor="end" font-weight="bold" fill="#000"  stroke="#000" stroke-width="0.12">0</text>
<line x1="237.10" y1="605.33" x2="238.80" y2="605.33" stroke="#000" stroke-width="0.7"/>
<text x="236.80" y="606.88" font-size="4.30" text-anchor="end" font-weight="bold" fill="#000"  stroke="#000" stroke-width="0.12">500</text>
<line x1="237.10" y1="586.65" x2="238.80" y2="586.65" stroke="#000" stroke-width="0.7"/>
<text x="236.80" y="588.20" font-size="4.30" text-anchor="end" font-weight="bold" fill="#000"  stroke="#000" stroke-width="0.12">1000</text>
<line x1="237.10" y1="567.97" x2="238.80" y2="567.97" stroke="#000" stroke-width="0.7"/>
<text x="236.80" y="569.52" font-size="4.30" text-anchor="end" font-weight="bold" fill="#000"  stroke="#000" stroke-width="0.12">1500</text>
<line x1="237.10" y1="549.30" x2="238.80" y2="549.30" stroke="#000" stroke-width="0.7"/>
<text x="236.80" y="550.85" font-size="4.30" text-anchor="end" font-weight="bold" fill="#000"  stroke="#000" stroke-width="0.12">2000</text>
<line x1="255.90" y1="560.50" x2="255.90" y2="551.40" stroke="#000" stroke-width="0.8"/>
<line x1="250.10" y1="551.40" x2="261.70" y2="551.40" stroke="#000" stroke-width="0.8"/>
<rect x="245.40" y="560.90" width="21.00" height="63.10" fill="#000" stroke="#000" stroke-width="0.8"/>
<line x1="255.90" y1="624.00" x2="255.90" y2="625.60" stroke="#000" stroke-width="0.7"/>
<text x="255.90" y="631.30" font-size="4.50" text-anchor="middle" font-weight="bold" fill="#000"  stroke="#000" stroke-width="0.12">M1</text>
<line x1="287.45" y1="585.30" x2="287.45" y2="575.10" stroke="#000" stroke-width="0.8"/>
<line x1="281.65" y1="575.10" x2="293.25" y2="575.10" stroke="#000" stroke-width="0.8"/>
<rect x="277.30" y="585.70" width="20.30" height="38.30" fill="#fff" stroke="#000" stroke-width="0.8"/>
<line x1="287.45" y1="624.00" x2="287.45" y2="625.60" stroke="#000" stroke-width="0.7"/>
<text x="287.45" y="631.30" font-size="4.50" text-anchor="middle" font-weight="bold" fill="#000"  stroke="#000" stroke-width="0.12">M2</text>
<text x="287.45" y="573.40" font-size="7.80" text-anchor="middle" font-weight="bold" fill="#000" >**</text>
<text transform="translate(213.70 585.30) rotate(-90)" font-size="4.20" text-anchor="middle" font-weight="bold" fill="#000" textLength="80.40" lengthAdjust="spacingAndGlyphs">EPA derived Prostaglandins and</text>
<text transform="translate(219.70 584.80) rotate(-90)" font-size="4.20" text-anchor="middle" font-weight="bold" fill="#000" textLength="81.40" lengthAdjust="spacingAndGlyphs">Thromboxanes (pg/2.5x10<tspan font-size="2.7" dy="-1.4">6</tspan><tspan dy="1.4"> cells )</tspan></text>
<text x="312.90" y="540.40" font-size="10.60" text-anchor="start" font-weight="bold" fill="#000" >I</text>
<path d="M345.70 550.10 L345.70 624.40 L411.70 624.40" fill="none" stroke="#000" stroke-width="0.8"/>
<line x1="344.00" y1="624.40" x2="345.70" y2="624.40" stroke="#000" stroke-width="0.7"/>
<text x="343.70" y="625.95" font-size="4.30" text-anchor="end" font-weight="bold" fill="#000"  stroke="#000" stroke-width="0.12">0</text>
<line x1="344.00" y1="605.90" x2="345.70" y2="605.90" stroke="#000" stroke-width="0.7"/>
<text x="343.70" y="607.45" font-size="4.30" text-anchor="end" font-weight="bold" fill="#000"  stroke="#000" stroke-width="0.12">200</text>
<line x1="344.00" y1="587.40" x2="345.70" y2="587.40" stroke="#000" stroke-width="0.7"/>
<text x="343.70" y="588.95" font-size="4.30" text-anchor="end" font-weight="bold" fill="#000"  stroke="#000" stroke-width="0.12">400</text>
<line x1="344.00" y1="568.90" x2="345.70" y2="568.90" stroke="#000" stroke-width="0.7"/>
<text x="343.70" y="570.45" font-size="4.30" text-anchor="end" font-weight="bold" fill="#000"  stroke="#000" stroke-width="0.12">600</text>
<line x1="344.00" y1="550.40" x2="345.70" y2="550.40" stroke="#000" stroke-width="0.7"/>
<text x="343.70" y="551.95" font-size="4.30" text-anchor="end" font-weight="bold" fill="#000"  stroke="#000" stroke-width="0.12">800</text>
<line x1="362.50" y1="563.10" x2="362.50" y2="555.70" stroke="#000" stroke-width="0.8"/>
<line x1="356.70" y1="555.70" x2="368.30" y2="555.70" stroke="#000" stroke-width="0.8"/>
<rect x="351.80" y="563.50" width="21.40" height="60.90" fill="#000" stroke="#000" stroke-width="0.8"/>
<line x1="362.50" y1="624.40" x2="362.50" y2="626.00" stroke="#000" stroke-width="0.7"/>
<text x="362.50" y="631.90" font-size="4.50" text-anchor="middle" font-weight="bold" fill="#000"  stroke="#000" stroke-width="0.12">M1</text>
<line x1="395.30" y1="592.30" x2="395.30" y2="588.50" stroke="#000" stroke-width="0.8"/>
<line x1="389.50" y1="588.50" x2="401.10" y2="588.50" stroke="#000" stroke-width="0.8"/>
<rect x="384.60" y="592.70" width="21.40" height="31.70" fill="#fff" stroke="#000" stroke-width="0.8"/>
<line x1="395.30" y1="624.40" x2="395.30" y2="626.00" stroke="#000" stroke-width="0.7"/>
<text x="395.30" y="631.90" font-size="4.50" text-anchor="middle" font-weight="bold" fill="#000"  stroke="#000" stroke-width="0.12">M2</text>
<text x="395.30" y="588.20" font-size="7.80" text-anchor="middle" font-weight="bold" fill="#000" >**</text>
<text transform="translate(319.50 587.40) rotate(-90)" font-size="4.20" text-anchor="middle" font-weight="bold" fill="#000" textLength="38.00" lengthAdjust="spacingAndGlyphs">Leukotriene B<tspan font-size="2.8" dy="1">4</tspan></text>
<text transform="translate(325.40 584.80) rotate(-90)" font-size="4.20" text-anchor="middle" font-weight="bold" fill="#000" textLength="43.40" lengthAdjust="spacingAndGlyphs">(pg/2.5x10<tspan font-size="2.7" dy="-1.4">6</tspan><tspan dy="1.4"> cells )</tspan></text>
<text x="415.80" y="540.40" font-size="10.60" text-anchor="start" font-weight="bold" fill="#000" >J</text>
<path d="M451.30 546.50 L451.30 623.40 L515.80 623.40" fill="none" stroke="#000" stroke-width="0.8"/>
<line x1="449.60" y1="623.40" x2="451.30" y2="623.40" stroke="#000" stroke-width="0.7"/>
<text x="449.30" y="624.95" font-size="4.30" text-anchor="end" font-weight="bold" fill="#000"  stroke="#000" stroke-width="0.12">0</text>
<line x1="449.60" y1="597.87" x2="451.30" y2="597.87" stroke="#000" stroke-width="0.7"/>
<text x="449.30" y="599.42" font-size="4.30" text-anchor="end" font-weight="bold" fill="#000"  stroke="#000" stroke-width="0.12">250</text>
<line x1="449.60" y1="572.33" x2="451.30" y2="572.33" stroke="#000" stroke-width="0.7"/>
<text x="449.30" y="573.88" font-size="4.30" text-anchor="end" font-weight="bold" fill="#000"  stroke="#000" stroke-width="0.12">500</text>
<line x1="449.60" y1="546.80" x2="451.30" y2="546.80" stroke="#000" stroke-width="0.7"/>
<text x="449.30" y="548.35" font-size="4.30" text-anchor="end" font-weight="bold" fill="#000"  stroke="#000" stroke-width="0.12">750</text>
<line x1="467.90" y1="569.00" x2="467.90" y2="551.40" stroke="#000" stroke-width="0.8"/>
<line x1="462.10" y1="551.40" x2="473.70" y2="551.40" stroke="#000" stroke-width="0.8"/>
<rect x="457.40" y="569.40" width="21.00" height="54.00" fill="#000" stroke="#000" stroke-width="0.8"/>
<line x1="467.90" y1="623.40" x2="467.90" y2="625.00" stroke="#000" stroke-width="0.7"/>
<text x="467.90" y="631.90" font-size="4.50" text-anchor="middle" font-weight="bold" fill="#000"  stroke="#000" stroke-width="0.12">M1</text>
<line x1="500.40" y1="605.40" x2="500.40" y2="599.00" stroke="#000" stroke-width="0.8"/>
<line x1="494.60" y1="599.00" x2="506.20" y2="599.00" stroke="#000" stroke-width="0.8"/>
<rect x="489.70" y="605.80" width="21.40" height="17.60" fill="#fff" stroke="#000" stroke-width="0.8"/>
<line x1="500.40" y1="623.40" x2="500.40" y2="625.00" stroke="#000" stroke-width="0.7"/>
<text x="500.40" y="631.90" font-size="4.50" text-anchor="middle" font-weight="bold" fill="#000"  stroke="#000" stroke-width="0.12">M2</text>
<text x="500.40" y="599.20" font-size="7.80" text-anchor="middle" font-weight="bold" fill="#000" >***</text>
<text transform="translate(424.70 586.80) rotate(-90)" font-size="4.20" text-anchor="middle" font-weight="bold" fill="#000" textLength="39.00" lengthAdjust="spacingAndGlyphs">Leukotriene B<tspan font-size="2.8" dy="1">5</tspan></text>
<text transform="translate(430.60 584.80) rotate(-90)" font-size="4.20" text-anchor="middle" font-weight="bold" fill="#000" textLength="43.40" lengthAdjust="spacingAndGlyphs">(pg/2.5x10<tspan font-size="2.7" dy="-1.4">6</tspan><tspan dy="1.4"> cells )</tspan></text>
</svg>
</body></html>
